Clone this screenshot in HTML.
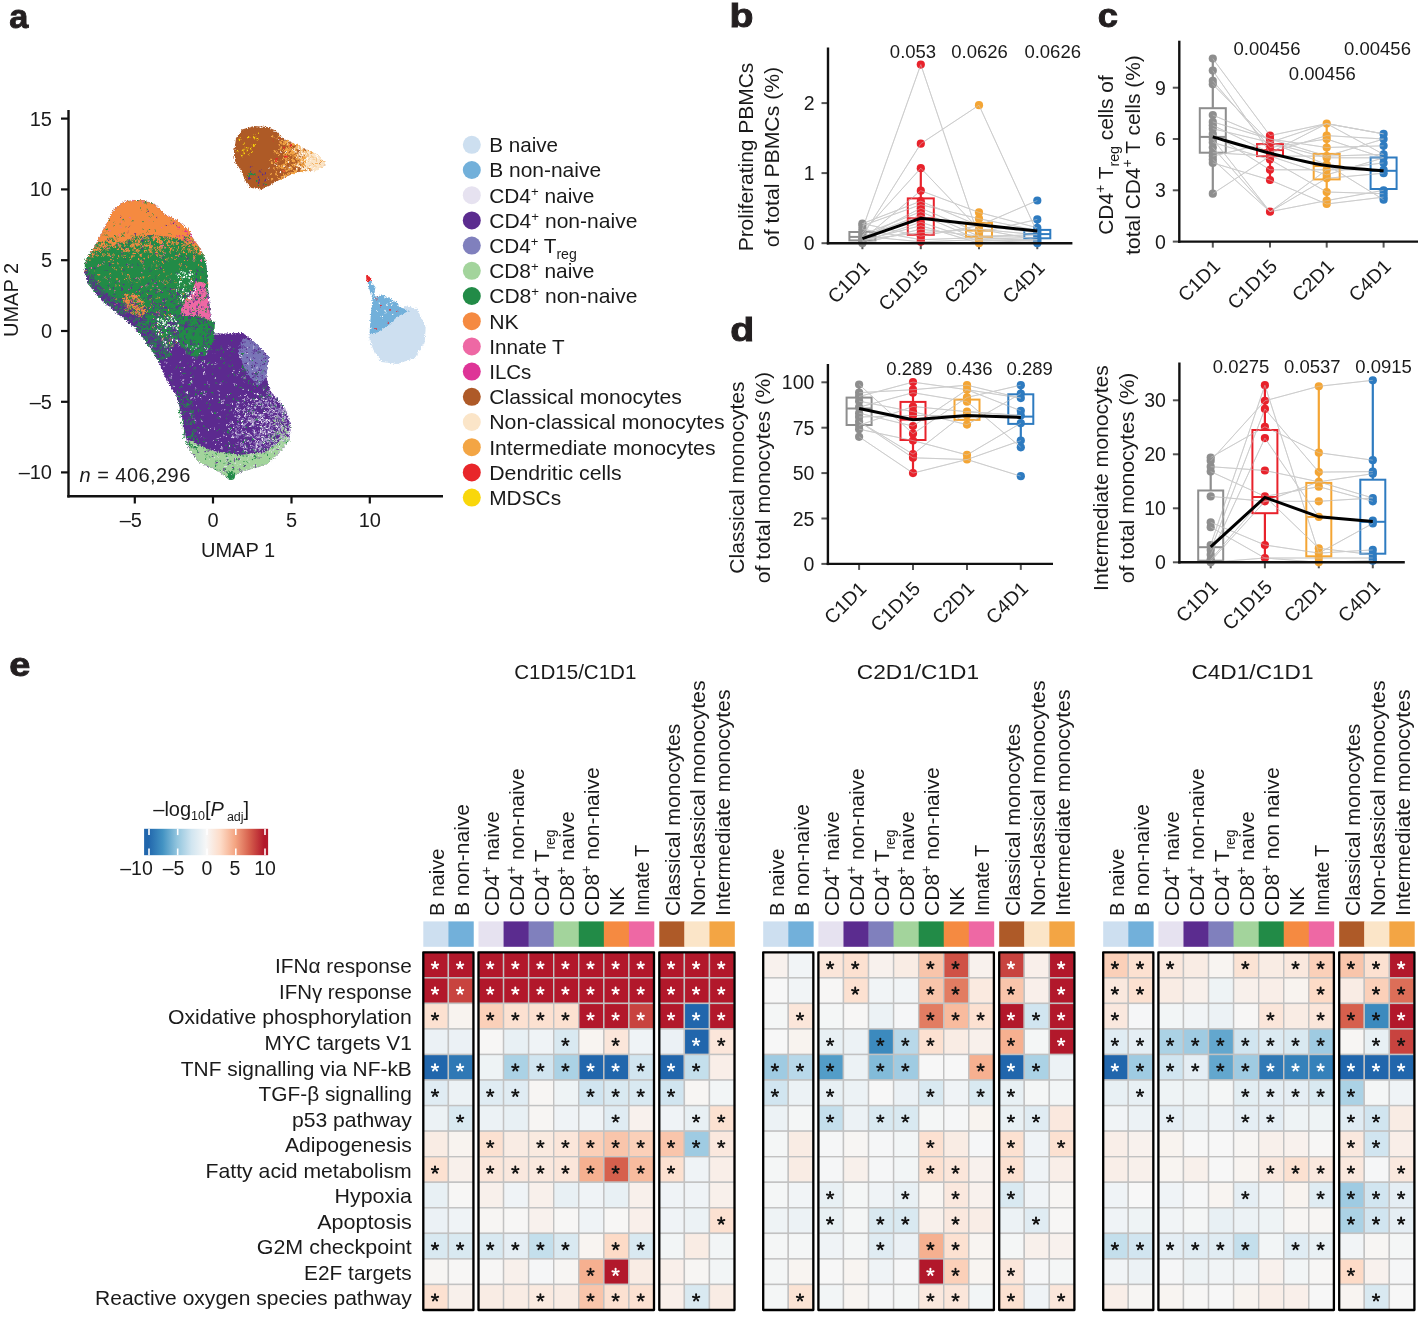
<!DOCTYPE html>
<html><head><meta charset="utf-8"><style>
html,body{margin:0;padding:0;background:#fff;}
svg{display:block;font-family:"Liberation Sans", sans-serif;will-change:transform;}
</style></head><body>
<svg width="1418" height="1321" viewBox="0 0 1418 1321">
<rect width="1418" height="1321" fill="#fff"/>
<text transform="translate(9.2,28) scale(1.04,1)" font-size="33" font-weight="bold" fill="#231f20" stroke="#231f20" stroke-width="0.9">a</text>
<text transform="translate(729.4,27.4) scale(1.19,1)" font-size="33" font-weight="bold" fill="#231f20" stroke="#231f20" stroke-width="0.9">b</text>
<text transform="translate(1097.7,27.2) scale(1.1,1)" font-size="33" font-weight="bold" fill="#231f20" stroke="#231f20" stroke-width="0.9">c</text>
<text transform="translate(730.2,341) scale(1.19,1)" font-size="33" font-weight="bold" fill="#231f20" stroke="#231f20" stroke-width="0.9">d</text>
<text transform="translate(9.2,675.5) scale(1.15,1)" font-size="33" font-weight="bold" fill="#231f20" stroke="#231f20" stroke-width="0.9">e</text>
<line x1="68.5" y1="110" x2="68.5" y2="497.5" stroke="#111" stroke-width="2.4"/>
<line x1="67.3" y1="496.3" x2="443" y2="496.3" stroke="#111" stroke-width="2.4"/>
<line x1="61" y1="118.6" x2="68.5" y2="118.6" stroke="#111" stroke-width="2.2"/>
<text x="52.0" y="125.6" font-size="20" text-anchor="end" fill="#1a1a1a">15</text>
<line x1="61" y1="189.4" x2="68.5" y2="189.4" stroke="#111" stroke-width="2.2"/>
<text x="52.0" y="196.4" font-size="20" text-anchor="end" fill="#1a1a1a">10</text>
<line x1="61" y1="260.2" x2="68.5" y2="260.2" stroke="#111" stroke-width="2.2"/>
<text x="52.0" y="267.2" font-size="20" text-anchor="end" fill="#1a1a1a">5</text>
<line x1="61" y1="331.0" x2="68.5" y2="331.0" stroke="#111" stroke-width="2.2"/>
<text x="52.0" y="338.0" font-size="20" text-anchor="end" fill="#1a1a1a">0</text>
<line x1="61" y1="401.8" x2="68.5" y2="401.8" stroke="#111" stroke-width="2.2"/>
<text x="52.0" y="408.8" font-size="20" text-anchor="end" fill="#1a1a1a">–5</text>
<line x1="61" y1="472.4" x2="68.5" y2="472.4" stroke="#111" stroke-width="2.2"/>
<text x="52.0" y="479.4" font-size="20" text-anchor="end" fill="#1a1a1a">–10</text>
<line x1="134.8" y1="496.3" x2="134.8" y2="503.5" stroke="#111" stroke-width="2.2"/>
<text x="130.8" y="527.4" font-size="20" text-anchor="middle" fill="#1a1a1a">–5</text>
<line x1="213.0" y1="496.3" x2="213.0" y2="503.5" stroke="#111" stroke-width="2.2"/>
<text x="213.0" y="527.4" font-size="20" text-anchor="middle" fill="#1a1a1a">0</text>
<line x1="291.5" y1="496.3" x2="291.5" y2="503.5" stroke="#111" stroke-width="2.2"/>
<text x="291.5" y="527.4" font-size="20" text-anchor="middle" fill="#1a1a1a">5</text>
<line x1="369.8" y1="496.3" x2="369.8" y2="503.5" stroke="#111" stroke-width="2.2"/>
<text x="369.8" y="527.4" font-size="20" text-anchor="middle" fill="#1a1a1a">10</text>
<text x="238.0" y="557.4" font-size="20" text-anchor="middle" fill="#1a1a1a">UMAP 1</text>
<text transform="translate(17.6,300) rotate(-90)" font-size="20" text-anchor="middle" fill="#1a1a1a">UMAP 2</text>
<text x="79.6" y="482.3" font-size="20" fill="#1a1a1a" letter-spacing="0.45"><tspan font-style="italic">n</tspan> = 406,296</text>
<filter id="rough" x="-10%" y="-10%" width="120%" height="120%" filterUnits="objectBoundingBox"><feTurbulence type="fractalNoise" baseFrequency="0.7" numOctaves="2" seed="4" result="n"/><feDisplacementMap in="SourceGraphic" in2="n" scale="4" xChannelSelector="R" yChannelSelector="G"/></filter>
<g filter="url(#rough)">
<path d="M123.6 202.1 L133.3 200.3 L144.2 200.3 L155.1 204.5 L164.8 214.2 L176.9 220.3 L189.0 230.0 L191.4 236.0 L199.9 248.1 L206.0 261.5 L207.2 274.8 L208.4 293.0 L210.8 317.2 L213.2 333.6 L225.4 333.6 L243.1 332.9 L254.0 341.8 L269.0 356.8 L266.3 377.2 L270.3 390.9 L285.3 408.6 L290.8 423.6 L289.4 439.9 L279.9 452.2 L266.3 464.4 L239.0 472.6 L229.5 479.4 L218.6 471.2 L198.1 461.7 L188.6 448.1 L184.5 431.7 L181.8 415.4 L176.3 394.9 L166.8 381.3 L158.6 360.9 L146.4 341.8 L134.5 326.9 L116.3 312.3 L98.2 296.6 L87.3 282.0 L84.8 270.0 L87.3 257.8 L95.7 244.5 L104.2 228.8 L112.7 210.6Z" fill="#5b2c8f"/>
<path d="M84.8 262.0 L88.0 259.0 L100.0 251.0 L113.0 246.0 L130.0 239.0 L151.0 235.0 L170.0 237.0 L182.0 240.0 L195.0 252.0 L206.0 261.5 L207.2 274.8 L208.4 293.0 L200.0 300.0 L185.0 305.0 L178.0 320.0 L180.0 340.0 L170.0 350.0 L150.0 330.0 L120.0 310.0 L98.2 296.6 L87.3 282.0 L84.8 270.0Z" fill="#228b47"/>
<path d="M84.8 262.0 L87.3 257.8 L95.7 244.5 L104.2 228.8 L112.7 210.6 L123.6 202.1 L133.3 200.3 L144.2 200.3 L155.1 204.5 L164.8 214.2 L176.9 220.3 L189.0 230.0 L191.4 236.0 L199.9 248.1 L206.0 261.5 L195.0 252.0 L182.0 240.0 L170.0 237.0 L151.0 235.0 L130.0 239.0 L113.0 246.0 L100.0 251.0 L88.0 259.0Z" fill="#f58a41"/>
<path d="M84.8 270.0 L87.3 282.0 L98.2 296.6 L116.3 312.3 L134.5 326.9 L146.4 341.8 L158.6 360.9 L172.0 356.0 L160.0 336.0 L140.0 318.0 L118.0 302.0 L100.0 286.0 L90.0 272.0Z" fill="#3f5a6a"/>
<path d="M195.0 281.0 L205.0 283.0 L208.0 300.0 L211.0 322.0 L212.5 335.0 L198.0 337.0 L184.0 330.0 L181.0 310.0 L185.0 300.0 L193.0 292.0Z" fill="#ee68a4"/>
<path d="M172.0 316.0 L198.0 316.0 L215.0 322.0 L214.0 340.0 L205.0 356.0 L190.0 356.0 L180.0 344.0 L170.0 330.0Z" fill="#228b47"/>
<path d="M243.0 338.0 L254.0 341.8 L269.0 356.8 L266.3 377.2 L258.0 386.0 L246.0 372.0 L238.0 352.0Z" fill="#7a76b8"/>
<path d="M188.6 439.9 L211.8 450.8 L239.0 454.9 L266.3 452.2 L286.7 435.8 L289.4 439.9 L279.9 452.2 L266.3 464.4 L239.0 472.6 L229.5 479.4 L218.6 471.2 L198.1 461.7 L188.6 448.1Z" fill="#a3d49c"/>
<circle cx="231" cy="476" r="4" fill="#228b47"/>
<path d="M90.4 253.3h0M204.6 259.2h0M194.5 250.1h0M195.3 250.8h0M121.7 235.3h0M203.3 258.1h0M142.2 236.5h0M187.5 241.3h0M108.7 245.2h0M104.2 248.8h0M200.7 256.8h0M105.3 248.7h0M112.3 240.6h0M96.7 247.0h0M95.8 250.9h0M185.6 239.4h0M188.5 245.3h0M102.4 249.5h0M102.1 242.1h0M89.2 257.5h0M91.7 255.5h0M131.2 236.4h0M91.4 255.2h0M197.6 253.0h0M193.7 250.6h0M188.3 237.8h0M195.6 246.5h0M100.3 247.3h0M107.9 244.9h0M97.2 251.5h0M101.4 248.2h0M98.2 249.7h0M102.1 247.6h0M97.9 245.5h0M103.1 245.7h0M105.3 242.4h0M106.5 242.6h0M194.0 247.0h0M90.7 253.5h0M98.7 251.4h0M198.9 251.2h0M99.4 242.4h0M104.5 232.8h0M193.1 241.4h0M93.5 252.0h0M108.8 243.7h0M201.5 253.2h0M91.1 256.7h0M108.6 247.6h0M105.8 243.2h0M189.4 235.8h0M192.3 246.9h0M189.6 235.6h0M197.5 247.0h0M95.4 248.2h0M102.4 242.2h0M201.4 257.3h0M122.7 235.4h0M98.2 246.3h0M190.5 244.5h0M184.4 240.6h0M98.8 245.4h0M116.5 238.6h0M90.3 254.5h0M198.7 250.3h0M99.0 246.7h0M173.0 237.7h0M188.0 242.8h0M202.3 257.5h0M96.0 244.3h0M111.7 240.9h0M94.5 248.0h0M90.9 254.1h0M202.2 253.6h0M86.0 260.3h0M186.1 237.4h0M108.4 239.5h0M112.9 239.4h0M90.1 254.8h0M198.0 252.2h0M104.5 235.2h0M111.3 243.6h0M95.4 252.6h0M191.5 245.7h0M93.3 251.9h0M102.3 250.1h0M116.8 243.3h0M109.0 238.4h0M201.4 254.9h0M98.9 251.0h0M191.1 244.8h0M96.8 245.1h0M97.7 252.3h0M192.0 248.5h0M87.1 258.4h0M136.7 237.3h0M191.6 246.6h0M92.7 250.2h0M200.6 256.2h0M185.9 240.6h0M193.4 240.1h0M100.0 244.5h0M202.0 253.3h0M113.5 241.4h0M88.6 257.4h0M200.6 256.1h0M111.1 238.3h0M192.7 243.8h0M87.9 257.2h0M190.7 241.3h0M95.4 253.8h0M185.4 239.9h0M89.2 257.7h0M195.6 250.8h0M193.7 242.8h0M118.1 238.5h0M105.6 240.9h0M110.0 246.3h0M106.9 247.5h0M88.3 258.3h0M195.6 246.2h0M95.6 252.1h0M102.6 249.0h0M90.7 256.3h0M202.6 256.7h0M204.4 258.4h0M119.0 242.4h0M198.4 249.0h0M203.0 255.2h0M109.9 246.2h0M99.7 243.5h0M198.6 254.3h0M108.8 247.0h0M143.5 234.2h0M92.8 253.0h0M135.7 236.7h0M199.4 255.8h0M192.7 249.4h0M98.7 242.9h0M115.4 236.4h0" stroke="#228b47" stroke-width="1.6" stroke-linecap="round" fill="none"/>
<path d="M173.5 223.5h0M105.0 246.6h0M135.5 234.1h0M184.5 237.9h0M120.9 217.2h0M157.0 217.5h0M173.9 221.6h0M166.4 225.2h0M148.2 211.2h0M129.4 225.8h0M108.8 240.0h0M127.6 232.1h0" stroke="#5b2c8f" stroke-width="1.6" stroke-linecap="round" fill="none"/>
<path d="M132.9 200.6h0M119.4 234.7h0M122.3 221.4h0M130.5 218.3h0M109.9 230.7h0M148.7 220.5h0M120.7 227.5h0M168.3 216.3h0M161.7 227.8h0M142.8 201.9h0" stroke="#ee68a4" stroke-width="1.6" stroke-linecap="round" fill="none"/>
<path d="M121.8 252.5h0M173.2 250.0h0M158.9 249.9h0M158.3 236.5h0M151.7 252.3h0M160.3 255.0h0M136.1 240.0h0M148.2 237.6h0M125.3 249.5h0M147.2 245.6h0M161.6 246.5h0M159.8 237.6h0M122.3 255.8h0M155.5 252.9h0M92.4 256.6h0M144.8 245.0h0M176.7 241.4h0M170.1 250.5h0M146.6 246.0h0M119.7 244.6h0M130.8 244.5h0M150.8 251.0h0M181.3 240.0h0M151.5 245.6h0M158.1 252.8h0M141.1 247.0h0M155.7 237.4h0M159.1 248.2h0M139.2 242.5h0M134.5 248.5h0M138.4 251.8h0M133.1 241.5h0M100.8 251.2h0M137.7 250.5h0M178.7 254.7h0M145.1 236.8h0M125.7 242.6h0M150.5 247.2h0M153.6 240.3h0M157.4 240.4h0M157.5 237.5h0M140.1 244.5h0M150.9 247.4h0M149.8 245.6h0M127.9 241.3h0M135.5 241.4h0M133.0 255.8h0M142.7 237.1h0M163.6 252.4h0M127.2 241.6h0M160.7 250.3h0M152.9 238.0h0M151.7 249.4h0M172.7 242.2h0M130.5 246.1h0M136.3 251.0h0M146.8 245.8h0M182.8 247.2h0M172.1 238.6h0M182.6 249.0h0M170.7 248.8h0M109.1 254.0h0M145.7 239.4h0M155.9 237.1h0M137.0 245.6h0M155.6 236.0h0M174.3 243.0h0M146.9 250.6h0M190.3 251.0h0M164.7 247.4h0M149.9 246.6h0M161.5 241.8h0M158.6 239.0h0M148.3 246.0h0M159.8 241.3h0M189.5 249.6h0M107.3 249.7h0M141.2 256.0h0M118.4 245.4h0M195.3 256.0h0M122.2 248.9h0M186.1 245.1h0M123.6 250.8h0M110.9 259.5h0M178.2 247.8h0M136.7 250.2h0M140.0 240.3h0M170.0 253.1h0M129.4 250.8h0M103.0 256.1h0M177.2 241.7h0M177.1 242.3h0M141.1 238.8h0M121.7 249.6h0M184.7 260.2h0M162.3 247.6h0M131.1 257.6h0M138.6 259.4h0M140.4 255.4h0M134.3 253.2h0M133.0 239.5h0M170.5 237.6h0M162.1 245.6h0M124.3 243.2h0M138.5 240.3h0M150.2 251.9h0M154.4 248.0h0M160.3 246.8h0M136.6 244.6h0M183.0 244.7h0M171.7 248.3h0M128.3 251.5h0M128.0 248.7h0M126.2 250.7h0M140.2 247.8h0M150.2 243.1h0M162.1 247.0h0M172.6 243.4h0M131.8 245.2h0M124.5 256.3h0M117.6 249.8h0M113.9 246.0h0M118.5 256.9h0M145.6 237.0h0M153.7 238.3h0M133.2 253.5h0M171.9 238.5h0M175.7 243.3h0M165.3 237.6h0M157.5 247.2h0M121.2 246.4h0M120.8 248.2h0M132.4 241.3h0M160.1 243.4h0M189.0 249.1h0M191.7 250.8h0M141.7 254.1h0M162.0 242.6h0M167.5 245.1h0M153.8 239.3h0M177.4 243.9h0M152.5 237.2h0M138.0 249.0h0M158.2 239.5h0M132.6 246.4h0M138.8 244.8h0M144.2 258.6h0M144.8 243.6h0M180.6 251.9h0M109.9 247.6h0M115.4 246.6h0M132.9 250.0h0M160.8 240.5h0M156.6 252.6h0M156.8 255.2h0M154.2 236.7h0M167.7 238.1h0M149.9 249.1h0M159.7 241.5h0M124.5 246.0h0M183.9 245.0h0M130.9 239.8h0M164.5 239.9h0M148.3 241.1h0M161.6 241.7h0M160.2 237.7h0M154.2 237.2h0M159.5 243.7h0M186.0 257.1h0M123.1 242.5h0M102.9 254.2h0M140.5 239.6h0M142.9 246.2h0M145.2 248.2h0M127.8 250.2h0M119.5 246.0h0M154.2 237.0h0M97.6 255.7h0M193.6 252.3h0M174.2 247.0h0M168.6 241.7h0M156.8 241.2h0M144.3 251.6h0M168.3 239.6h0M147.8 256.5h0M118.1 248.1h0M193.8 256.8h0M159.8 239.4h0M126.7 243.6h0M168.6 247.3h0M167.4 242.7h0M137.3 245.5h0M160.9 243.0h0M141.3 244.2h0M166.6 244.2h0M173.7 238.1h0M159.4 246.9h0M166.5 260.3h0M132.7 244.0h0M152.2 246.1h0M139.5 244.1h0M137.1 243.3h0M107.6 255.1h0M154.1 237.3h0M171.2 245.0h0M171.7 258.3h0M156.3 236.3h0M133.6 245.7h0M140.2 238.5h0M145.9 244.4h0M126.6 248.6h0M159.9 250.7h0M157.7 241.1h0M158.8 242.8h0M126.7 247.9h0M184.3 245.2h0M135.4 243.7h0M134.3 247.9h0M168.1 259.2h0M155.7 249.9h0" stroke="#f58a41" stroke-width="1.7" stroke-linecap="round" fill="none"/>
<path d="M123.6 307.6h0M138.1 309.4h0M136.4 296.8h0M123.5 301.3h0M133.8 313.4h0M137.8 312.8h0M131.8 313.4h0M128.7 300.9h0M139.8 309.4h0M131.4 304.8h0M141.9 309.0h0M123.4 300.9h0M144.5 310.5h0M124.8 305.9h0M133.3 305.9h0M130.9 308.5h0M139.6 301.0h0M135.6 312.5h0M126.3 301.4h0M131.5 309.1h0M137.3 301.5h0M125.6 294.4h0M134.4 307.7h0M127.1 303.1h0M124.7 298.5h0M133.0 314.0h0M128.2 309.2h0M132.9 308.8h0M134.4 298.4h0M132.7 300.0h0M133.5 295.3h0M137.3 309.5h0M135.2 307.4h0M136.6 306.1h0M127.4 302.1h0M144.1 312.1h0M138.6 313.6h0M131.7 312.5h0M147.0 311.0h0M132.7 299.0h0M132.3 294.8h0M140.2 310.2h0M143.9 313.8h0M139.8 298.9h0M130.0 301.6h0M136.6 312.4h0M126.1 310.3h0M126.8 308.8h0M126.3 297.1h0M143.3 306.2h0M130.0 296.8h0M125.5 308.5h0M128.8 297.7h0M141.5 301.9h0M127.4 294.9h0M129.6 305.3h0M131.0 312.1h0M143.0 313.1h0M135.8 309.0h0M140.3 314.7h0M126.1 301.8h0M132.9 299.2h0M127.5 299.0h0M132.0 311.7h0M124.9 302.6h0M142.5 301.1h0M130.1 294.6h0M133.1 314.5h0M123.9 309.5h0M136.5 298.4h0M142.8 307.6h0M131.7 303.4h0M129.1 305.1h0M144.5 309.3h0M136.0 295.8h0M123.4 298.3h0M136.6 302.8h0M139.4 304.9h0M142.5 311.5h0M136.0 311.9h0M139.3 307.4h0M130.4 314.1h0M128.5 306.7h0M127.0 307.3h0M137.4 311.7h0M130.2 307.8h0M143.6 310.3h0M142.8 302.1h0M136.8 315.5h0M141.4 316.2h0M142.7 311.2h0M132.7 295.1h0M133.9 301.6h0M127.3 310.5h0M137.9 308.2h0M145.1 309.2h0M138.2 313.5h0M132.8 298.8h0M139.0 313.6h0M142.8 306.8h0M129.5 305.9h0M145.3 309.1h0M141.1 310.0h0M130.9 312.7h0M137.4 296.5h0M126.4 295.7h0M133.3 296.9h0M136.8 295.8h0M141.9 314.6h0M140.0 301.9h0M132.0 296.6h0M142.6 303.9h0M127.2 300.0h0M127.5 305.7h0M135.4 296.8h0M143.0 313.2h0M124.6 310.1h0M137.7 307.1h0M135.6 305.8h0M127.7 299.9h0M137.4 299.2h0M139.3 311.9h0M134.8 311.8h0M131.9 299.9h0M145.7 309.4h0M126.0 300.9h0M137.6 296.4h0M134.6 314.0h0M126.4 299.7h0M134.9 303.4h0M137.8 295.7h0M130.3 300.3h0M135.0 305.6h0M131.9 309.9h0M132.6 305.6h0M124.4 302.5h0M123.7 301.3h0M132.4 309.4h0M145.4 307.0h0M142.7 303.9h0M133.6 295.2h0M123.8 308.2h0M127.7 304.3h0M133.9 295.9h0M133.4 307.1h0M142.1 307.7h0M129.3 302.8h0M127.5 313.1h0M139.0 315.5h0M134.3 296.4h0M131.7 301.8h0M139.1 295.9h0M131.8 314.3h0M124.0 294.8h0M131.1 300.3h0M142.1 310.4h0M134.5 304.8h0M135.7 314.1h0M142.7 301.4h0M124.2 301.5h0" stroke="#f58a41" stroke-width="1.8" stroke-linecap="round" fill="none"/>
<path d="M154.1 244.5h0M157.1 266.4h0M174.6 282.2h0M125.3 278.5h0M183.4 247.7h0M185.1 286.2h0M194.7 259.8h0M109.7 255.7h0M112.7 256.2h0M152.6 327.5h0M102.8 289.7h0M198.3 297.4h0M85.5 270.7h0M191.4 279.0h0M188.6 299.4h0M89.9 260.3h0M100.5 287.0h0M185.3 293.3h0M165.1 281.0h0M128.2 267.0h0M133.2 294.0h0M163.3 338.1h0M162.1 335.2h0M99.1 282.3h0M176.2 341.4h0M144.0 265.7h0M146.7 294.3h0M156.2 311.7h0M157.0 261.4h0M167.2 238.8h0M157.1 312.8h0M134.0 244.2h0M163.9 271.8h0M130.5 259.7h0M152.4 281.8h0M186.6 300.6h0M198.8 265.2h0M108.0 255.6h0M116.2 269.7h0M163.3 236.8h0M186.4 253.8h0M181.7 263.7h0M161.0 266.9h0M187.0 299.4h0M135.3 281.4h0M143.6 277.7h0M109.6 302.0h0M140.7 259.8h0M113.1 254.9h0M131.3 246.9h0M124.9 299.6h0M161.5 241.2h0M122.0 273.2h0M100.6 265.1h0M106.4 254.9h0M121.8 268.6h0M98.6 284.3h0M139.1 250.4h0M139.0 316.2h0M117.0 279.5h0M207.8 283.9h0M159.2 332.5h0M87.7 276.8h0M200.7 277.1h0M113.1 263.4h0M189.0 300.0h0M132.2 256.8h0M118.0 263.7h0M145.6 241.4h0M151.1 303.7h0M177.4 297.8h0M178.9 254.5h0M187.6 259.5h0M127.5 304.4h0M125.6 256.1h0M108.5 261.0h0M162.7 262.2h0M154.6 323.4h0M143.3 236.7h0M190.3 289.4h0M151.0 256.0h0M165.5 251.8h0M151.1 290.1h0M170.9 316.4h0M188.7 251.9h0M139.7 315.9h0M157.6 247.5h0M113.1 260.5h0M159.6 281.0h0M131.5 287.8h0M153.3 285.5h0M157.8 324.8h0M143.4 311.2h0M113.2 267.7h0M163.9 269.5h0M155.7 269.2h0M166.7 276.0h0M126.9 307.6h0M97.9 275.6h0M95.0 269.7h0M141.8 286.4h0M160.7 305.6h0M116.1 299.2h0M170.5 249.3h0M157.6 304.3h0M155.3 315.3h0M173.5 295.6h0M140.5 278.6h0M131.4 281.5h0M150.3 307.3h0M197.7 283.2h0M179.0 264.0h0M128.8 281.5h0M158.6 265.4h0M190.2 270.4h0M140.8 281.4h0M154.3 262.5h0M160.8 248.7h0M136.4 291.8h0M173.0 289.3h0M176.8 255.5h0M168.0 282.0h0M114.8 305.7h0M186.7 267.0h0M170.8 339.5h0M183.1 293.8h0M141.5 262.1h0M126.9 277.4h0M161.8 255.7h0M106.1 278.0h0M90.9 275.0h0M124.1 251.5h0M149.8 275.1h0M120.3 266.9h0M180.7 278.6h0M169.2 315.5h0M169.3 293.9h0M97.5 280.8h0M169.3 342.4h0M113.9 298.4h0M126.5 298.4h0M194.1 253.5h0M148.3 244.0h0M99.6 274.8h0M147.0 238.4h0M180.1 268.9h0M175.4 259.0h0M183.4 252.5h0M103.7 254.4h0M119.4 285.5h0M110.2 273.5h0M176.9 292.7h0M128.8 302.5h0M129.3 276.1h0M169.8 242.5h0M97.3 255.5h0M137.2 282.4h0M143.0 314.1h0M175.0 332.0h0M164.7 315.4h0M125.6 299.9h0M131.5 310.3h0M153.9 302.1h0M162.2 339.8h0M171.4 241.7h0M159.0 275.4h0M175.9 282.6h0M191.8 296.2h0M169.4 240.8h0M201.2 266.5h0M130.2 279.1h0M142.4 311.4h0M117.9 302.4h0M143.1 261.4h0M185.3 249.6h0M156.5 265.2h0M180.2 265.1h0M165.5 283.8h0M159.3 297.7h0M140.0 319.3h0M172.1 274.1h0M149.9 299.8h0M139.7 290.9h0M158.9 289.9h0M168.6 309.7h0M116.3 285.4h0M139.0 300.4h0M194.0 284.5h0M135.8 241.0h0M143.1 277.0h0M153.2 314.5h0M151.5 265.6h0M137.1 245.5h0M156.2 298.0h0M159.1 313.1h0M177.6 250.0h0M157.0 255.1h0M127.6 274.7h0M149.2 250.5h0M163.6 306.6h0" stroke="#f58a41" stroke-width="1.5" stroke-linecap="round" fill="none"/>
<path d="M142.2 238.8h0M203.3 283.0h0M155.3 323.5h0M124.6 274.3h0M165.0 317.8h0M162.9 243.0h0M119.2 281.7h0M177.9 303.3h0M173.0 344.0h0M168.3 322.1h0M132.5 302.0h0M130.3 288.6h0M188.6 303.6h0M201.4 260.5h0M164.1 254.8h0M194.3 277.4h0M142.9 238.4h0M139.5 311.9h0M144.2 268.7h0M164.5 252.8h0M118.8 244.1h0M165.0 248.0h0M178.3 326.6h0M160.9 256.9h0M127.6 278.6h0M145.9 285.7h0M139.0 279.4h0M128.9 289.6h0M98.4 266.0h0M152.7 286.9h0M141.7 272.7h0M91.8 287.0h0M193.9 259.7h0M138.8 301.6h0M166.9 336.4h0M111.7 256.5h0M174.2 343.4h0M114.9 290.8h0M158.0 312.8h0M159.0 312.1h0M109.9 289.3h0M142.7 246.4h0M141.3 287.0h0M153.5 305.7h0M160.2 289.5h0M90.5 268.6h0M162.6 301.2h0M86.2 262.4h0M132.0 267.2h0M177.8 288.6h0M140.7 309.5h0M191.8 282.2h0M161.3 328.4h0M155.5 283.3h0M162.2 245.4h0M148.0 284.8h0M162.9 282.9h0M133.7 295.7h0M178.8 256.2h0M166.2 301.3h0M157.2 292.0h0M110.0 282.5h0M109.0 248.6h0M115.8 303.5h0M128.1 265.3h0M157.3 286.6h0M109.1 277.4h0M153.5 326.5h0M153.3 318.4h0M187.2 302.9h0M102.8 263.8h0M133.9 302.3h0M162.9 292.0h0M129.0 304.7h0M159.3 314.9h0M170.7 346.1h0M103.9 277.5h0M149.0 240.2h0M169.5 339.8h0M104.0 260.9h0M111.7 263.4h0M153.9 238.1h0M161.6 326.0h0M120.6 310.2h0M127.5 248.2h0M98.2 265.6h0M172.6 346.0h0M143.1 264.2h0M136.8 278.0h0M171.2 279.3h0" stroke="#ee68a4" stroke-width="1.5" stroke-linecap="round" fill="none"/>
<path d="M158.5 330.4h0M116.1 298.2h0M153.3 319.7h0M170.4 293.1h0M142.6 291.0h0M156.6 333.3h0M160.4 314.7h0M156.6 317.6h0M98.7 294.3h0M161.6 309.9h0M163.6 299.9h0M115.9 282.4h0M171.0 320.5h0M157.8 313.1h0M132.7 316.8h0M153.8 290.7h0M195.3 297.2h0M169.7 335.5h0M161.5 247.8h0M122.7 300.4h0M128.6 245.2h0M191.3 295.3h0M103.9 297.3h0M193.9 301.8h0M160.6 324.0h0M183.7 296.3h0M195.3 282.0h0M176.4 324.5h0M123.6 306.9h0M144.8 315.2h0M120.7 299.4h0M150.1 313.6h0M129.2 289.0h0M158.6 330.1h0M175.8 288.9h0M150.7 297.8h0M85.1 269.7h0M156.7 307.8h0M138.1 320.8h0M170.8 289.4h0M171.8 289.3h0M172.0 295.4h0M144.4 299.2h0M141.4 318.8h0M174.6 333.7h0M107.2 286.6h0M139.1 290.0h0M176.1 253.6h0M128.6 307.0h0M93.9 275.6h0M172.1 323.5h0M154.3 299.0h0M146.1 320.6h0M129.3 313.9h0M147.1 327.8h0M168.7 340.2h0M174.8 344.0h0M166.7 344.6h0M166.8 339.8h0M190.2 272.5h0M175.6 340.5h0M96.6 294.4h0M145.0 292.2h0M131.2 313.6h0M110.7 298.6h0M123.6 296.0h0M125.3 258.8h0M135.3 310.4h0M179.0 305.8h0M147.9 296.4h0M191.9 292.3h0M158.5 330.6h0M151.1 295.7h0M177.0 317.3h0M121.5 290.3h0M144.4 308.6h0M177.7 293.6h0M148.4 291.3h0M170.2 348.0h0M125.1 303.0h0M135.7 303.8h0M145.7 313.1h0M148.8 268.7h0M187.9 258.7h0M162.8 341.7h0M150.2 325.0h0M180.2 256.6h0M200.4 295.1h0M155.9 304.0h0M157.9 331.1h0M148.4 313.3h0M149.9 320.7h0M139.4 289.5h0M176.6 331.6h0M178.1 336.1h0M186.4 293.9h0M162.0 328.3h0M149.8 270.8h0M145.5 313.0h0M165.9 342.6h0M160.3 268.6h0M162.5 307.4h0M169.9 347.5h0M196.6 279.6h0M176.7 307.6h0M120.4 298.6h0M173.3 315.5h0M132.1 299.9h0M157.2 311.2h0M113.1 299.2h0M178.6 338.9h0M168.9 345.3h0M176.2 308.5h0M177.9 340.8h0M171.1 282.0h0M171.9 332.5h0M158.2 316.6h0M179.1 294.5h0M195.0 299.6h0M155.5 325.6h0M164.6 307.1h0M159.3 336.2h0M166.6 319.4h0M170.9 324.6h0M157.0 323.1h0M164.5 311.6h0M199.4 297.1h0M143.4 317.6h0M155.3 315.6h0M168.1 330.4h0M180.4 298.7h0M171.6 318.4h0M176.4 331.2h0M169.7 344.5h0M140.1 293.9h0M174.7 330.5h0M158.1 303.8h0M130.9 285.1h0M132.8 309.5h0M171.3 338.1h0M134.6 304.4h0M152.2 323.5h0M142.1 324.5h0M131.7 310.6h0M171.5 315.1h0M151.4 312.5h0M167.1 318.7h0M165.2 309.1h0M140.4 287.4h0M174.7 328.6h0M172.6 340.2h0M150.3 320.0h0M121.1 302.9h0M123.3 308.4h0M144.0 322.9h0M145.8 314.3h0M146.2 320.4h0M144.7 318.5h0M148.6 297.3h0M179.2 300.2h0M174.4 299.7h0M168.6 341.8h0M172.4 301.2h0M177.1 294.9h0M174.1 334.7h0M165.4 287.5h0M157.8 320.3h0M165.7 307.6h0M115.2 306.0h0M164.8 302.7h0M179.9 304.8h0M124.0 311.7h0M132.0 264.8h0M167.6 330.6h0M170.5 326.5h0M132.0 301.6h0M161.2 292.4h0M159.1 313.3h0M201.7 272.2h0M161.2 323.3h0M152.0 312.0h0M143.0 261.1h0M196.3 300.1h0M123.7 270.0h0M132.1 303.4h0M177.5 320.9h0M159.0 325.5h0M128.0 315.3h0M131.4 287.5h0M189.2 293.8h0M130.6 302.8h0M125.6 291.9h0M173.9 288.5h0M165.7 307.4h0M175.5 315.1h0M143.0 319.4h0M176.7 322.8h0M100.5 293.9h0M172.7 323.1h0M126.0 305.9h0M171.0 331.5h0M169.2 337.6h0M166.7 325.2h0M123.5 247.2h0M180.7 303.3h0M179.6 241.0h0M176.1 329.8h0M197.1 296.7h0M165.4 342.5h0M135.0 278.7h0M169.8 309.3h0M124.1 303.8h0M177.0 331.1h0M158.6 321.6h0M155.4 303.5h0M172.0 328.6h0M162.6 332.6h0M174.2 340.9h0M167.0 298.4h0M155.3 315.1h0M144.6 316.3h0M163.1 340.1h0M114.8 294.1h0M144.7 318.1h0M167.8 345.3h0M124.7 296.3h0M173.4 333.3h0M196.6 270.2h0M175.0 339.3h0M164.9 327.7h0M113.1 288.6h0M170.4 322.5h0M138.0 306.7h0M125.9 308.9h0M143.7 316.0h0M155.7 277.2h0M169.1 335.2h0M98.6 293.5h0M138.6 317.4h0M188.1 289.6h0M135.0 305.3h0M181.4 289.5h0M169.6 326.6h0M144.7 313.4h0M156.4 328.0h0M171.2 331.8h0M96.2 292.8h0M108.4 301.1h0M117.7 308.6h0M168.7 323.6h0M164.9 262.0h0M176.3 273.2h0M129.3 304.6h0M144.1 309.3h0M94.2 268.1h0M142.1 248.8h0M170.8 341.4h0M151.3 296.6h0M151.1 244.7h0M184.6 291.0h0M195.7 294.2h0M167.6 347.6h0M131.9 284.0h0M164.6 326.4h0M99.0 285.1h0M120.7 308.5h0M159.9 331.2h0M97.1 282.2h0M166.7 307.4h0M141.4 317.2h0M119.0 300.3h0M180.0 294.9h0M172.0 330.2h0M142.7 293.0h0M154.2 323.8h0M196.5 273.6h0M175.0 322.4h0M174.8 304.1h0M141.6 312.9h0M158.2 303.9h0M140.7 308.9h0M165.4 312.7h0M157.6 330.7h0M169.9 323.6h0M133.2 315.4h0M171.2 327.4h0M129.3 291.0h0M159.5 305.6h0M171.9 336.7h0M193.5 290.1h0M163.2 301.0h0M156.4 293.3h0M183.3 306.9h0M133.4 317.8h0M174.6 344.3h0M148.8 326.7h0M119.2 304.8h0M117.9 302.8h0M89.1 267.9h0M122.0 253.0h0M176.8 294.6h0M125.1 299.0h0M155.8 253.5h0M161.5 301.8h0M186.7 257.0h0M154.6 287.2h0M174.2 329.3h0M162.3 316.4h0M162.7 342.1h0M156.1 327.8h0M150.8 304.1h0M177.0 321.4h0M160.5 329.9h0M171.4 297.2h0M130.2 295.0h0M184.0 265.3h0M140.3 315.4h0M176.8 306.6h0M136.3 292.2h0M177.7 307.8h0M121.6 287.8h0M155.0 332.1h0M176.0 297.5h0M167.1 334.0h0M195.1 280.4h0M177.1 292.4h0M143.1 240.4h0M171.0 308.3h0M168.8 347.2h0M164.1 303.6h0M149.8 308.9h0M141.1 302.7h0M128.7 241.7h0M146.6 318.6h0M157.6 322.8h0M106.1 270.7h0M205.7 277.3h0M173.6 342.5h0M179.0 339.6h0M156.2 322.0h0M123.7 284.6h0M168.3 336.8h0M158.7 332.7h0M174.0 311.4h0M144.5 307.4h0M149.5 295.9h0M146.6 309.8h0M182.4 305.6h0M175.1 342.3h0M204.4 287.9h0M154.4 306.0h0M149.5 327.4h0M149.0 308.8h0M152.8 301.5h0M177.0 335.2h0M170.0 339.9h0M106.4 299.0h0M109.7 298.4h0M164.1 298.9h0M152.7 303.2h0M138.3 305.4h0M152.1 294.7h0M173.0 295.8h0M160.0 325.6h0M168.2 291.2h0M176.3 330.7h0M156.1 283.1h0M172.6 323.0h0M107.9 301.4h0M187.5 296.5h0M171.3 301.9h0M190.3 291.8h0M131.4 287.6h0M176.9 334.0h0M176.9 308.9h0M129.0 314.5h0M149.6 313.9h0M135.5 312.4h0M141.1 317.5h0M162.1 305.3h0M138.5 307.2h0M160.8 308.7h0M175.6 325.7h0M179.0 315.9h0M154.4 314.0h0M164.0 338.4h0M153.3 312.4h0M150.5 323.4h0M169.1 280.4h0M161.4 322.6h0M170.0 313.9h0M156.1 326.3h0M193.8 255.1h0M165.8 338.3h0M173.7 292.8h0M156.4 283.6h0M198.2 292.0h0M176.7 324.8h0M190.6 293.7h0M127.8 307.8h0M173.9 339.9h0M161.9 312.9h0M185.3 295.8h0M136.2 307.6h0M168.1 322.9h0M148.7 299.4h0M109.7 264.5h0M188.8 295.7h0M121.3 283.6h0M163.7 325.2h0M159.4 304.0h0M126.6 264.6h0M166.0 327.9h0M165.1 340.1h0M191.5 283.4h0M152.2 280.0h0M153.8 307.9h0M200.4 295.9h0M150.5 330.3h0M145.3 307.5h0M164.2 288.2h0M148.0 284.1h0M156.4 335.8h0M170.2 314.4h0M122.6 305.3h0M124.3 306.1h0M149.1 235.7h0M138.3 264.9h0M152.7 328.3h0M92.0 288.0h0M166.8 316.0h0M86.6 269.4h0M174.5 314.6h0M193.5 300.4h0M149.7 322.9h0M108.7 280.0h0M169.9 314.5h0M144.1 324.7h0M162.9 257.8h0M156.8 291.3h0M140.7 315.4h0M136.0 298.7h0M173.3 334.5h0M173.2 344.2h0M122.4 289.6h0M197.6 270.8h0M156.0 313.6h0M166.5 321.1h0M155.7 289.5h0M157.3 314.9h0" stroke="#5b2c8f" stroke-width="1.6" stroke-linecap="round" fill="none"/>
<path d="M159.6 337.8h0M166.5 354.2h0M97.3 286.5h0M125.0 308.2h0M120.3 304.8h0M104.8 299.3h0M135.6 325.3h0M104.8 296.3h0M148.4 334.2h0M144.2 337.7h0M101.4 289.5h0M148.6 333.3h0M149.1 330.6h0M160.4 339.8h0M145.7 338.8h0M115.8 301.3h0M87.4 276.7h0M91.7 279.2h0M104.3 298.4h0M150.2 332.3h0M129.7 319.4h0M163.2 355.9h0M155.8 355.9h0M95.4 286.2h0M158.7 353.6h0M132.8 315.6h0M147.0 338.6h0M160.9 352.8h0M99.7 294.1h0M108.3 304.5h0M87.4 276.4h0M142.9 335.3h0M92.4 286.7h0M156.2 344.7h0M90.0 283.1h0M127.2 318.1h0M128.1 313.2h0M148.5 338.4h0M107.0 303.7h0M158.3 348.9h0M129.4 318.7h0M118.5 313.9h0M106.6 296.3h0M127.5 319.6h0M153.1 344.6h0M142.8 333.4h0M156.2 352.7h0M128.1 321.5h0M166.8 354.0h0M135.8 320.6h0M165.0 348.2h0M141.2 323.7h0M151.4 342.4h0M163.8 347.8h0M108.6 304.6h0M122.1 305.8h0M151.7 346.8h0M124.2 315.9h0M128.3 310.8h0M105.6 292.9h0M153.8 338.4h0M157.1 338.7h0M92.2 286.6h0M155.9 354.7h0M149.9 335.2h0M157.0 341.9h0M108.4 296.9h0M123.7 307.7h0M160.3 339.1h0M151.1 348.2h0M118.0 303.1h0M114.6 303.5h0M157.9 335.6h0M103.0 292.6h0M111.2 302.0h0M113.0 308.5h0M147.6 329.6h0M87.3 275.2h0M90.3 283.0h0M113.7 302.2h0M154.7 336.4h0M138.0 316.7h0M128.8 310.3h0M120.1 314.2h0M103.8 291.0h0M127.1 314.4h0M168.5 354.1h0M140.8 332.4h0M118.2 307.6h0M103.9 295.3h0M129.2 317.8h0M123.6 311.7h0M156.7 349.6h0M142.4 326.2h0M131.7 322.9h0M93.5 278.7h0M113.8 306.0h0M152.6 332.7h0M148.1 340.5h0M146.1 329.8h0M127.4 315.7h0M129.2 312.0h0M129.3 311.2h0M162.0 353.8h0M146.8 338.4h0M139.1 328.5h0M130.0 317.1h0M139.2 326.8h0M86.8 273.7h0M127.1 316.4h0M157.4 340.4h0M165.9 349.5h0M159.5 350.1h0M125.6 318.2h0M114.4 306.2h0M136.5 321.7h0M93.6 281.1h0M113.8 299.8h0M120.4 311.6h0M104.4 291.5h0M158.7 340.1h0M96.7 294.0h0M143.7 326.1h0M120.3 306.8h0M161.9 350.8h0M123.0 315.8h0M151.8 348.0h0M120.8 306.1h0M149.8 327.9h0M153.6 338.8h0M142.8 321.4h0M153.7 349.8h0M120.9 310.1h0M156.5 347.9h0M134.1 319.5h0M148.4 326.3h0M120.7 305.6h0M97.8 293.1h0M106.0 299.6h0M123.2 314.7h0M130.1 314.4h0M115.7 307.1h0M120.7 305.5h0M156.5 343.6h0M108.1 304.0h0M108.4 303.9h0M92.3 279.6h0M144.2 329.5h0M129.8 311.6h0M150.9 347.7h0M104.4 301.4h0M108.6 298.9h0M153.9 346.1h0M125.3 312.6h0M139.4 317.7h0M129.4 320.1h0M116.5 301.4h0M112.6 298.4h0M138.3 323.1h0M122.8 314.1h0M122.7 306.3h0M128.8 314.7h0M95.1 284.3h0M87.0 276.5h0M156.7 355.4h0M160.0 350.3h0M89.1 278.5h0M167.0 349.7h0M145.3 335.1h0M101.7 294.7h0M162.7 341.4h0M144.0 326.8h0M100.1 293.1h0M122.7 307.5h0M122.5 310.2h0M111.8 302.7h0M136.9 326.7h0M160.7 346.8h0M150.9 335.4h0M152.2 339.3h0M117.3 301.9h0M132.8 321.5h0M108.1 294.7h0M137.2 316.3h0M137.9 325.4h0M121.9 314.3h0M130.1 319.4h0M98.9 286.7h0M117.3 302.4h0M152.8 347.0h0M161.8 348.8h0M147.1 335.9h0M148.3 332.9h0M169.1 351.6h0M137.1 326.9h0M121.4 311.7h0M128.6 316.0h0M155.6 354.8h0M115.9 300.4h0M130.6 321.5h0M123.3 314.2h0M125.3 307.6h0M88.8 280.4h0M161.2 354.7h0M167.9 350.8h0M149.3 328.0h0M108.0 299.7h0M164.5 353.9h0M140.6 322.2h0M138.2 331.1h0M149.1 340.4h0M122.4 307.4h0M141.1 322.9h0M95.3 291.3h0M131.2 315.3h0M143.3 329.8h0M108.1 303.5h0M121.0 315.4h0M141.8 330.0h0M164.2 349.4h0M98.1 291.0h0M140.9 323.4h0M153.1 332.5h0M161.4 358.6h0M118.2 309.3h0M160.0 353.2h0M151.7 344.4h0M97.4 293.5h0M96.6 293.1h0M120.7 304.2h0M131.8 324.7h0M156.8 355.1h0M163.5 344.5h0M148.1 342.0h0M170.9 356.0h0M95.7 281.0h0M130.7 322.9h0M152.3 337.2h0M142.3 332.5h0M89.6 276.6h0M151.6 335.3h0M89.9 280.2h0M119.6 306.1h0M137.3 326.0h0M97.4 290.6h0M93.9 284.2h0M154.3 351.4h0M158.8 355.2h0M148.5 331.8h0M105.8 297.4h0M140.8 331.0h0M118.3 303.0h0M160.2 359.1h0M88.2 282.9h0M148.5 334.9h0M139.7 320.3h0M147.3 328.2h0M132.7 323.1h0M97.3 289.4h0M94.2 289.3h0M151.5 347.7h0M147.9 332.3h0M105.3 301.7h0M117.4 305.0h0M145.1 334.3h0M117.5 304.8h0M113.6 307.9h0M88.4 274.7h0M163.1 347.0h0M156.3 333.9h0M108.3 299.0h0M140.3 327.6h0M143.0 331.6h0M133.6 316.8h0M112.4 299.3h0M153.8 336.0h0M158.4 345.1h0M144.0 326.8h0M149.5 333.9h0M88.5 274.0h0M120.2 307.6h0M149.1 329.8h0M168.1 352.9h0M157.2 355.6h0M157.9 353.5h0M131.5 321.5h0M170.0 356.2h0M108.2 299.5h0M152.6 337.8h0M154.6 346.8h0M124.1 310.4h0M90.9 280.9h0M110.6 302.5h0M158.0 347.9h0M167.3 355.4h0M158.3 340.7h0M153.6 332.2h0M146.4 331.0h0M133.5 316.9h0M155.7 336.7h0M147.0 342.4h0M142.2 321.5h0M157.7 345.2h0M134.2 320.2h0M149.4 340.4h0M150.4 333.2h0M146.1 338.0h0M163.4 355.9h0M157.1 338.3h0M125.3 308.4h0M162.4 352.8h0M148.3 340.9h0M92.7 286.8h0M130.2 319.2h0M105.5 297.4h0M135.7 317.4h0M165.5 352.2h0M166.8 349.9h0M94.5 281.6h0M154.2 341.8h0M102.1 299.7h0M158.1 356.5h0M113.1 309.0h0M117.0 305.8h0M150.8 345.1h0M134.1 319.1h0M128.3 321.0h0M137.4 328.3h0M120.5 305.9h0M134.1 319.7h0M153.0 338.9h0M103.9 298.5h0M143.7 327.1h0M131.0 320.9h0M89.7 278.4h0M92.4 280.8h0M114.4 305.3h0M142.8 331.7h0M115.2 300.3h0M87.3 273.3h0M157.6 355.7h0M131.8 319.9h0M137.4 328.0h0M120.6 313.8h0M107.9 304.3h0M150.8 338.2h0M91.1 281.6h0M133.0 323.6h0M157.4 358.2h0M106.4 298.8h0M122.8 308.9h0M129.5 319.2h0M114.4 305.6h0M98.8 294.5h0M125.1 308.3h0M103.7 295.7h0M167.9 352.7h0M132.4 316.1h0M155.5 349.6h0M125.4 316.0h0M95.5 281.4h0M160.7 338.5h0M85.5 272.5h0M130.6 322.1h0M134.3 325.1h0M153.6 344.5h0M136.2 323.3h0M129.1 314.3h0M114.3 306.6h0M138.0 318.4h0M94.5 285.0h0M111.8 307.1h0M148.7 330.4h0M153.5 334.0h0M146.8 329.7h0M143.0 320.8h0M102.9 298.1h0M139.3 326.4h0M149.8 332.3h0M140.7 327.2h0M160.3 342.5h0M137.9 326.4h0M135.8 323.0h0M129.9 317.4h0M152.2 336.5h0M134.0 318.4h0M100.0 287.6h0M118.5 305.1h0M109.6 301.6h0M159.3 353.4h0M108.9 301.9h0M103.2 300.8h0M94.8 285.9h0M138.6 321.7h0M91.8 274.7h0M127.1 315.2h0M161.0 347.8h0M126.5 317.6h0M99.1 285.0h0M134.4 323.5h0M106.1 303.4h0M118.0 310.2h0M151.6 348.3h0M155.2 344.3h0M118.2 309.0h0M113.8 304.5h0M87.9 280.9h0M121.1 306.2h0M104.9 292.4h0M91.0 273.6h0M107.1 294.1h0M104.0 299.5h0M128.9 312.7h0M111.9 307.7h0M115.6 311.1h0M162.2 355.5h0M86.7 271.9h0M141.2 330.0h0M138.3 319.6h0M112.3 300.0h0M149.8 343.1h0M104.2 298.7h0M158.8 352.5h0M102.3 297.4h0M160.6 347.7h0M163.0 354.9h0M158.1 346.2h0M136.7 329.7h0M106.5 293.8h0M87.5 279.3h0M141.9 333.9h0M148.0 344.0h0M152.6 346.6h0M101.7 297.0h0M138.8 325.1h0M152.8 343.1h0M148.8 330.0h0M159.7 345.0h0M159.8 359.5h0M112.8 297.8h0M102.7 289.9h0M135.5 320.4h0M104.7 299.0h0M123.4 309.8h0M87.5 277.6h0M144.8 327.2h0M109.3 299.7h0M141.3 321.5h0M168.2 352.9h0M163.1 359.0h0M146.0 338.8h0M128.9 320.3h0M95.3 288.2h0M156.5 350.2h0M157.7 358.5h0M126.5 316.5h0M153.4 346.5h0M142.6 326.9h0M160.8 348.1h0M155.5 338.3h0M144.3 322.2h0M155.4 353.3h0M113.5 299.9h0M154.8 348.9h0M106.5 299.3h0M92.7 286.0h0M120.7 310.8h0M156.1 343.1h0M98.6 286.5h0M154.8 345.9h0M118.3 307.4h0M141.7 325.4h0M144.0 335.1h0M91.8 282.7h0M108.4 304.9h0M163.4 349.7h0M144.9 328.7h0M163.6 357.3h0M144.2 329.2h0M159.3 357.1h0M153.1 339.2h0M122.5 312.9h0M93.9 281.7h0M125.9 315.1h0M160.4 353.9h0M104.5 294.0h0M164.9 357.4h0M96.2 289.6h0M141.0 319.2h0M142.0 336.0h0M127.9 316.1h0M164.7 353.8h0M144.2 330.0h0M162.4 345.1h0M148.8 329.9h0M147.6 331.6h0M113.2 301.3h0M119.5 312.5h0M131.4 315.1h0M104.6 294.5h0" stroke="#5b2c8f" stroke-width="1.9" stroke-linecap="round" fill="none"/>
<path d="M125.4 318.7h0M143.2 323.7h0M104.7 293.3h0M94.0 280.7h0M167.1 355.1h0M105.4 300.0h0M106.0 303.4h0M148.0 331.5h0M101.8 294.3h0M122.0 305.9h0M107.4 302.2h0M153.9 343.0h0M121.3 304.7h0M101.6 289.8h0M145.4 324.9h0M160.3 355.2h0M100.6 295.1h0M141.8 321.3h0M159.4 353.2h0M106.3 297.8h0M154.3 352.4h0M141.4 331.5h0M165.5 357.2h0M124.9 311.7h0M127.2 318.0h0M147.7 329.6h0M90.1 285.3h0M150.3 327.8h0M138.3 325.2h0M161.3 347.4h0M151.5 329.8h0M139.7 332.3h0M111.9 296.9h0M105.4 290.8h0M169.1 356.5h0M159.6 359.9h0M110.7 307.3h0M155.4 332.8h0M145.7 328.9h0M144.3 331.5h0M87.5 273.2h0M96.9 283.0h0M114.2 306.8h0M104.3 301.7h0M101.5 299.0h0M100.0 289.5h0M169.2 352.4h0M151.7 349.4h0M117.8 311.6h0M153.2 331.9h0M95.6 285.2h0M157.3 351.4h0M136.5 325.0h0M98.0 287.3h0M143.2 325.2h0M156.2 335.1h0M162.8 342.2h0M150.9 328.6h0M164.7 355.9h0M168.2 353.8h0M139.0 322.2h0M128.4 312.3h0M146.0 332.1h0M145.3 329.0h0M108.1 294.7h0M155.1 352.1h0M147.2 339.4h0M161.7 351.8h0M121.0 312.0h0M105.0 292.5h0M162.7 345.7h0M93.7 280.1h0M94.7 280.1h0M112.8 299.6h0M141.7 323.0h0M114.6 299.9h0M129.4 317.9h0M158.6 335.3h0M89.9 276.7h0M170.9 354.2h0M136.5 317.7h0M138.8 330.9h0M140.3 327.0h0M153.5 342.6h0M146.2 341.4h0M155.1 344.3h0M103.9 293.5h0M90.5 282.8h0M87.1 274.8h0M148.0 327.4h0M158.4 349.6h0M92.4 277.8h0M98.7 297.0h0M167.4 355.5h0M142.0 326.9h0M168.2 355.5h0M143.1 329.2h0M155.4 340.8h0M144.5 332.3h0M89.9 281.7h0M94.2 291.2h0M160.6 343.0h0M138.5 318.8h0M155.4 355.8h0M156.1 334.4h0M158.9 335.5h0M149.4 328.4h0M155.8 346.6h0M120.0 308.5h0M128.2 312.1h0M154.9 349.9h0M151.6 335.3h0M113.0 306.1h0M166.1 350.5h0M163.0 341.5h0M117.3 311.1h0M154.6 346.0h0M143.3 327.9h0M91.0 286.4h0M139.7 323.9h0M96.9 290.9h0M150.8 342.7h0M169.9 354.6h0M88.2 273.8h0M139.7 326.0h0M134.5 314.1h0M142.2 323.7h0M103.1 290.7h0M133.6 321.3h0M116.5 301.9h0M153.3 336.8h0M135.2 320.1h0M89.5 278.7h0M167.8 355.3h0M102.2 294.6h0M126.9 309.1h0M138.4 322.9h0M171.2 354.9h0M162.4 357.2h0M102.6 291.8h0M143.5 324.0h0M148.4 344.9h0M162.3 351.3h0M165.1 352.3h0M119.8 314.7h0M155.1 345.3h0M143.4 336.5h0M145.2 332.6h0M155.9 341.7h0M163.9 353.4h0M163.8 343.7h0M152.3 343.3h0M155.0 339.4h0M147.9 343.8h0M145.9 324.5h0M123.6 308.2h0M158.9 339.9h0M166.0 354.5h0M153.0 350.9h0M132.0 312.6h0M141.1 323.0h0M112.4 300.7h0M156.2 339.2h0M164.8 347.9h0M141.7 330.7h0M137.8 328.6h0M108.6 295.2h0M92.2 278.2h0M163.2 358.1h0M141.1 328.3h0M159.2 358.3h0M145.9 337.6h0M162.2 358.4h0M122.5 311.3h0M94.1 290.8h0M160.9 347.7h0M156.7 340.1h0M89.1 282.7h0M98.8 287.4h0M89.0 272.6h0M149.2 330.0h0M153.1 345.6h0M109.7 302.8h0M154.2 350.9h0M116.0 300.6h0M137.8 328.2h0M145.0 328.0h0M146.9 327.9h0M90.5 275.1h0M122.3 313.6h0M165.0 345.5h0M93.5 286.6h0M158.2 337.6h0M157.2 358.0h0M156.0 340.1h0M90.6 280.8h0M150.5 335.2h0M121.0 309.8h0M116.6 306.7h0M106.5 292.0h0" stroke="#228b47" stroke-width="1.7" stroke-linecap="round" fill="none"/>
<path d="M186.8 240.2h0M176.2 225.6h0M193.6 242.5h0M175.7 223.7h0M183.2 235.7h0M190.6 234.4h0M180.2 236.5h0M183.4 231.1h0M186.8 231.5h0M185.4 230.2h0M171.1 223.9h0M179.9 236.6h0M190.0 240.7h0M177.9 228.7h0M190.6 241.5h0M190.7 236.5h0M178.8 227.1h0M171.2 223.5h0M179.6 227.6h0M183.6 239.4h0M177.1 235.7h0M187.5 234.4h0" stroke="#de3497" stroke-width="1.6" stroke-linecap="round" fill="none"/>
<path d="M201.6 294.0h0M206.6 311.8h0M197.2 314.4h0M193.7 311.1h0M194.0 322.4h0M182.4 314.6h0M207.2 326.2h0M186.0 309.5h0M200.2 330.2h0M200.6 288.1h0M201.7 300.1h0M200.2 314.3h0M203.5 334.8h0M187.6 301.2h0M204.2 305.1h0M193.8 322.1h0M199.2 295.4h0M200.8 300.8h0M189.0 327.0h0M208.7 309.0h0M189.5 303.9h0M210.5 322.5h0M190.4 322.3h0M201.9 320.5h0M204.2 317.6h0M187.0 324.2h0M209.6 331.1h0M187.1 321.5h0M201.2 287.0h0M198.6 334.7h0M192.6 308.3h0M197.4 336.4h0M205.3 311.8h0M206.2 309.3h0M204.6 297.8h0M198.8 295.0h0M192.9 321.0h0M206.5 308.6h0M191.5 331.9h0M197.1 309.4h0M208.2 305.2h0M196.2 287.2h0M192.4 321.5h0M192.0 314.2h0M201.1 310.1h0M198.7 304.3h0M199.7 335.7h0M196.2 299.2h0M205.3 294.5h0M195.0 321.4h0" stroke="#228b47" stroke-width="1.6" stroke-linecap="round" fill="none"/>
<path d="M199.9 334.4h0M203.9 320.6h0M204.0 317.3h0M203.2 287.7h0M197.0 306.2h0M194.2 333.4h0M186.1 324.4h0M200.0 287.9h0M196.8 313.1h0M203.6 331.0h0M185.8 324.9h0M194.8 328.2h0M201.7 307.1h0M190.2 311.9h0M188.0 316.4h0M199.5 323.0h0M203.6 323.3h0M184.8 314.5h0M190.3 303.4h0M201.6 290.5h0M197.2 298.7h0M196.2 316.9h0M203.3 321.5h0M185.7 321.9h0M196.6 312.9h0M196.5 327.0h0M192.4 316.9h0M189.7 310.4h0M193.9 326.0h0M202.6 291.7h0" stroke="#5b2c8f" stroke-width="1.6" stroke-linecap="round" fill="none"/>
<path d="M182.2 299.0h0M189.7 271.0h0M184.3 276.7h0M190.6 298.6h0M192.5 274.1h0M190.0 283.5h0M188.5 297.9h0M182.2 278.5h0M186.7 275.6h0M182.4 300.7h0M181.2 298.4h0M176.9 289.8h0M194.1 293.2h0M185.1 273.1h0M181.2 272.1h0M187.8 293.4h0M177.8 277.4h0M189.3 275.0h0M195.3 288.2h0M184.3 277.0h0M191.3 281.2h0M190.4 274.0h0M192.3 293.5h0M194.4 293.1h0M183.2 299.5h0M180.7 281.8h0M178.9 285.7h0M183.8 284.7h0M189.1 277.8h0M187.1 288.3h0M177.6 274.3h0M183.3 289.6h0M183.3 272.3h0M190.7 297.1h0M195.3 290.0h0M179.0 274.4h0M182.7 291.5h0M185.9 292.8h0M179.8 282.7h0M181.2 294.3h0" stroke="#ffffff" stroke-width="1.8" stroke-linecap="round" fill="none"/>
<path d="M157.7 319.4h0M175.0 319.7h0M158.4 330.8h0M177.5 329.5h0M166.0 345.4h0M163.6 324.3h0M162.9 320.6h0M177.4 340.1h0M162.4 338.5h0M165.1 322.8h0M166.9 332.8h0M161.3 333.2h0M178.2 325.2h0M165.7 328.3h0M171.6 318.6h0M172.4 339.6h0M171.8 325.7h0M168.5 325.3h0M164.4 341.3h0M167.6 317.3h0M163.3 322.5h0M175.9 321.6h0M160.9 319.7h0M174.6 326.1h0M173.6 328.1h0M172.1 321.1h0M166.6 320.9h0M169.2 325.1h0M173.4 317.2h0M168.8 320.6h0M172.3 315.3h0M157.9 322.9h0M157.3 333.6h0M170.3 343.1h0M166.8 345.2h0M157.7 330.1h0M170.8 320.3h0M171.1 336.4h0M176.5 327.9h0M158.9 324.7h0M164.7 343.0h0M166.3 325.9h0M158.3 318.8h0M158.5 334.5h0M168.2 326.1h0" stroke="#ffffff" stroke-width="1.8" stroke-linecap="round" fill="none"/>
<path d="M207.0 320.5h0M178.0 339.0h0M208.9 331.4h0M190.7 354.4h0M200.7 319.9h0M193.5 335.0h0M200.8 352.8h0M180.3 325.5h0M201.8 355.0h0M190.9 340.4h0M181.4 330.8h0M203.2 336.6h0M190.5 350.9h0M190.4 316.4h0M202.7 354.3h0M190.0 317.4h0M176.1 333.3h0M197.8 327.7h0M186.7 327.2h0M202.0 354.5h0M187.8 325.0h0M195.2 329.1h0M188.7 350.5h0M189.1 326.3h0M191.1 342.6h0M206.5 322.6h0M206.5 341.4h0M191.3 352.4h0M206.9 331.0h0M187.6 348.3h0M198.8 318.7h0M204.1 349.4h0M202.3 353.4h0M195.8 348.3h0M195.6 324.4h0M199.3 323.6h0M210.7 326.0h0M205.6 344.7h0M209.8 327.2h0M186.1 345.5h0M185.9 322.8h0M173.5 319.0h0M213.5 323.4h0M186.0 327.3h0M213.1 333.1h0M206.4 347.3h0M200.6 352.5h0M174.7 323.8h0M197.9 348.9h0M176.2 316.2h0M204.6 348.8h0M189.3 348.8h0M213.3 338.0h0M210.1 331.4h0M186.4 324.6h0M183.1 325.9h0M181.1 339.4h0M190.4 340.1h0M207.4 341.0h0M187.9 352.1h0M208.0 335.2h0M174.5 329.3h0M193.8 350.2h0M211.7 328.7h0M201.7 346.3h0M176.3 333.9h0M208.7 344.3h0M203.8 339.0h0M184.4 326.1h0M172.5 323.7h0M203.7 342.1h0M209.1 325.9h0M184.9 336.1h0M206.6 341.2h0M194.3 345.1h0M204.1 327.1h0M178.7 321.8h0M200.2 354.0h0M200.1 348.1h0M186.8 332.3h0M203.5 347.0h0M207.8 339.5h0M210.2 333.8h0M206.5 337.3h0M188.9 323.1h0M185.0 326.3h0M192.0 321.2h0M184.8 328.2h0M194.9 343.7h0M203.8 344.1h0M194.7 339.8h0M190.3 355.9h0M211.6 330.8h0M181.6 318.9h0M174.2 328.3h0M177.0 334.7h0M202.0 352.5h0M198.6 321.0h0M187.4 331.0h0M185.6 339.0h0M187.4 349.2h0M180.0 339.0h0M191.7 344.9h0M178.2 332.6h0M206.4 351.6h0M202.4 356.0h0M184.5 343.8h0M183.5 317.9h0M188.7 318.5h0M202.2 318.6h0M185.7 325.2h0M192.6 327.7h0M189.1 321.2h0M210.3 326.6h0M198.7 344.7h0M184.8 349.5h0M182.3 341.5h0M181.0 325.7h0M184.2 342.8h0M199.1 355.0h0" stroke="#5b2c8f" stroke-width="1.7" stroke-linecap="round" fill="none"/>
<path d="M223.6 352.0h0M186.5 352.1h0M122.0 243.4h0M189.1 271.2h0M94.9 255.3h0M264.3 362.7h0M142.5 255.1h0M206.8 323.8h0M157.2 270.6h0M139.9 263.2h0M269.2 458.6h0M168.5 320.6h0M178.6 309.9h0M256.4 374.7h0M201.4 393.7h0M146.8 202.9h0M248.1 382.0h0M184.2 312.9h0M275.0 435.8h0M230.7 393.6h0M143.2 229.1h0M243.2 374.6h0M200.7 410.7h0M162.0 324.0h0M188.0 282.6h0M180.9 409.7h0M266.1 386.0h0M215.3 377.9h0M252.1 366.1h0M213.7 365.7h0M244.2 434.0h0M132.6 271.5h0M178.7 303.9h0M262.7 371.1h0M228.5 463.0h0M286.5 442.5h0M145.1 337.5h0M188.8 289.6h0M126.1 225.8h0M175.2 326.3h0M176.3 286.4h0M114.2 226.0h0M206.5 296.3h0M161.7 336.7h0M85.7 266.0h0M262.4 396.9h0M195.5 347.2h0M204.2 384.5h0M94.7 289.9h0M193.2 433.5h0M120.6 265.7h0M117.8 236.6h0M262.4 371.6h0M145.7 267.7h0M283.0 420.3h0M154.2 302.7h0M157.2 301.7h0M128.5 299.3h0M267.4 438.3h0M203.0 341.6h0M275.5 437.9h0M274.6 430.0h0M161.5 351.5h0M272.8 440.7h0M228.6 432.6h0M267.8 454.4h0M166.8 313.6h0M231.3 340.4h0M123.2 219.6h0M195.6 389.9h0M263.5 385.4h0M214.8 412.4h0M130.3 248.6h0M160.1 253.9h0M123.8 296.8h0M146.6 211.0h0M146.0 339.8h0M109.2 220.3h0M189.5 393.3h0M244.7 400.9h0M234.6 375.0h0M151.0 254.1h0M191.8 381.4h0M260.6 427.4h0M256.4 374.0h0M163.8 348.2h0M181.7 386.5h0M155.0 230.2h0M277.2 399.8h0M185.6 259.5h0M237.6 447.3h0M127.2 260.3h0M138.2 313.3h0M217.0 349.7h0M150.8 316.4h0M129.5 201.5h0M224.5 475.3h0M152.0 203.7h0M176.2 316.7h0M147.4 209.0h0M149.9 260.2h0M257.3 385.5h0M197.5 410.1h0M171.4 379.7h0M146.9 239.1h0M136.0 319.5h0M203.6 448.2h0M205.4 454.4h0M131.2 273.0h0M242.3 354.5h0M212.5 392.8h0M139.8 323.6h0M264.0 407.7h0M166.1 304.2h0M232.3 365.4h0M118.4 305.3h0M184.4 406.8h0M186.8 404.7h0M150.5 240.0h0M152.4 255.9h0M123.7 257.1h0M146.7 265.2h0M106.1 229.0h0M179.0 401.2h0M141.2 274.1h0M233.4 399.6h0M229.9 411.1h0M124.0 233.2h0M195.9 266.8h0M111.4 300.3h0M127.4 245.3h0M149.5 229.3h0M203.1 360.4h0M243.1 451.7h0M160.2 336.3h0M151.6 329.2h0M257.7 372.5h0M187.6 403.8h0M161.5 335.4h0M245.0 369.6h0M197.7 282.0h0M149.6 255.9h0M190.1 423.7h0M189.6 263.4h0M193.6 251.8h0M145.2 307.0h0M176.1 225.5h0M153.5 252.4h0M254.1 423.2h0M157.1 293.1h0M133.5 237.3h0M145.2 255.1h0M161.1 251.3h0M188.2 335.9h0M136.2 289.8h0M246.3 452.0h0M236.9 460.7h0M251.5 391.8h0M137.6 261.6h0M107.1 229.8h0M98.4 255.8h0M191.6 299.2h0M266.2 449.7h0M265.8 393.6h0M207.8 321.7h0M265.7 427.5h0M248.9 390.2h0M146.0 201.9h0M202.8 395.0h0M245.2 370.9h0M224.0 464.1h0M198.4 391.8h0M170.9 220.7h0M232.9 351.2h0M278.9 444.8h0M171.9 286.5h0M155.6 321.2h0M218.2 417.9h0M143.0 221.4h0M263.7 412.2h0M256.1 452.1h0M210.1 319.9h0M165.6 329.7h0M230.2 444.6h0M259.0 352.0h0M191.6 435.9h0M100.4 242.7h0M258.2 381.7h0M99.0 282.1h0M138.2 200.5h0M176.4 251.1h0M117.3 283.7h0M153.2 214.1h0M180.6 388.3h0M104.5 299.8h0M227.6 414.7h0M223.6 430.5h0M245.4 378.6h0M193.7 324.4h0M132.9 220.8h0M178.1 273.9h0M245.9 439.3h0M268.0 440.7h0M139.8 333.3h0M145.3 202.7h0M246.3 427.4h0M180.4 303.7h0M187.9 394.9h0M125.6 243.5h0M150.1 216.8h0M132.1 259.1h0M191.0 373.3h0M171.2 326.9h0M175.6 282.1h0M248.1 462.5h0M259.5 395.7h0M244.2 465.7h0M226.2 453.6h0M184.0 392.8h0M147.5 270.7h0M100.2 289.7h0M204.4 258.0h0M268.5 435.5h0M252.4 459.5h0M188.8 263.2h0M195.5 394.7h0M164.5 252.8h0M226.4 456.3h0M172.6 336.1h0M196.4 289.3h0M212.7 374.3h0M170.0 234.1h0M135.3 314.5h0M159.0 258.1h0M190.9 246.9h0M207.9 429.9h0M198.0 292.7h0M114.3 222.4h0M107.1 235.3h0M201.8 392.6h0M145.6 336.2h0M237.6 422.1h0M272.4 448.3h0M139.5 236.3h0M197.6 450.9h0M161.2 317.9h0M128.9 272.0h0M224.7 359.0h0M233.5 348.7h0M126.2 240.7h0M194.5 295.9h0M229.4 447.8h0M227.8 432.8h0M179.2 396.8h0M283.3 423.1h0M237.0 400.3h0M207.0 428.1h0M141.0 208.7h0M122.7 256.1h0M153.9 277.6h0M239.3 372.9h0M153.2 220.8h0M198.8 428.6h0M146.9 232.1h0M124.0 236.0h0M171.0 259.4h0M174.5 318.0h0M275.6 406.3h0M184.0 284.9h0M192.2 279.9h0M118.6 260.4h0M131.4 308.3h0M227.1 396.4h0M205.4 319.8h0M112.3 250.3h0M174.6 327.4h0M165.1 288.7h0M283.7 414.1h0M215.7 465.3h0M233.9 368.8h0M258.3 427.1h0M106.0 271.0h0M102.8 266.8h0M121.4 278.9h0M248.9 383.4h0M115.9 302.2h0M142.2 267.8h0M285.5 412.3h0M120.1 224.2h0M209.8 405.1h0M236.0 385.7h0M272.9 445.0h0M181.1 361.0h0M264.2 442.6h0M191.3 284.2h0M107.7 266.8h0M191.4 406.3h0M152.6 272.3h0M115.0 257.7h0M112.9 292.6h0" stroke="#228b47" stroke-width="1.5" stroke-linecap="round" fill="none"/>
<path d="M244.1 412.8h0M262.6 405.0h0M264.5 402.9h0M259.9 400.9h0M258.3 418.4h0M251.7 405.2h0M255.1 436.8h0M246.0 450.6h0M237.7 402.4h0M257.7 413.4h0M285.8 413.1h0M266.7 444.9h0M265.5 426.0h0M245.0 431.0h0M267.0 407.3h0M260.8 420.5h0M263.6 443.4h0M270.3 446.3h0M263.6 441.0h0M269.3 426.1h0M245.7 415.8h0M240.5 410.1h0M261.7 420.6h0M276.6 441.0h0M282.1 419.2h0M268.6 444.4h0M258.8 448.0h0M237.4 406.3h0M280.0 440.9h0M259.1 444.3h0M277.3 433.8h0M260.3 449.1h0M270.0 429.9h0M259.3 444.7h0M287.7 415.4h0M285.3 417.3h0M282.7 413.2h0M277.7 430.9h0M267.6 449.1h0M272.8 434.1h0M263.1 427.9h0M256.5 447.6h0M251.1 399.2h0M283.6 408.4h0M266.2 400.4h0M278.0 429.4h0M231.6 422.6h0M242.2 433.1h0M264.3 448.9h0M276.2 425.7h0M267.2 403.6h0M239.9 416.4h0M288.1 426.9h0M265.1 433.0h0M241.7 419.2h0M262.0 424.0h0M277.2 443.9h0M258.7 421.5h0M283.7 409.4h0M262.5 429.5h0M231.5 410.2h0M232.7 436.2h0M264.3 434.8h0M262.1 439.5h0M268.1 438.4h0M285.7 441.3h0M243.1 425.7h0M238.0 410.5h0M276.2 412.6h0M273.2 425.7h0M289.1 437.7h0M244.2 410.1h0M252.4 424.5h0M281.5 418.6h0M243.2 402.4h0M256.3 399.6h0M274.0 441.5h0M245.7 413.5h0M260.7 443.7h0M246.6 435.1h0M279.0 434.8h0M245.3 440.6h0M257.0 437.7h0M281.7 428.0h0M271.2 422.9h0M250.6 400.8h0M230.1 429.5h0M285.3 409.9h0M248.8 433.6h0M273.8 400.1h0M262.7 418.5h0M285.0 408.4h0M274.3 434.1h0M262.4 439.6h0M256.1 415.6h0M285.8 413.9h0M259.9 443.5h0M280.1 440.6h0M254.5 431.3h0M261.9 415.0h0M284.8 423.9h0M243.8 410.1h0M245.7 447.3h0M280.4 408.1h0M288.8 424.5h0M252.1 419.0h0M270.0 410.6h0M276.2 405.1h0M262.7 436.9h0M242.4 423.5h0M249.2 420.9h0M232.0 430.8h0M272.5 410.1h0M278.3 426.6h0M243.8 412.0h0M272.6 396.5h0M263.0 451.7h0M283.1 433.0h0M253.7 425.1h0M270.1 425.1h0M289.5 434.7h0M261.7 433.2h0M235.2 416.2h0M257.3 423.3h0M273.8 411.8h0M255.2 451.1h0M261.7 422.6h0M254.0 450.4h0M259.9 433.9h0M281.2 426.9h0M257.5 443.2h0M237.0 433.7h0M243.0 433.5h0M264.0 412.8h0M285.0 428.2h0M274.6 418.7h0M261.2 431.0h0M286.5 439.3h0M273.0 445.6h0M251.5 410.3h0M278.7 409.6h0M289.4 435.2h0M287.3 437.7h0M269.9 450.2h0M272.1 406.5h0M278.5 413.0h0M257.4 393.4h0M254.4 434.0h0M282.5 410.9h0M254.2 414.1h0M254.3 430.6h0M277.8 432.4h0M282.3 413.8h0M278.5 401.8h0M269.7 420.2h0M276.3 426.4h0M271.7 450.9h0M276.7 414.9h0M288.7 432.8h0M249.8 415.2h0M266.0 412.1h0M273.7 432.1h0M278.9 416.7h0M238.8 426.5h0M248.9 404.4h0M262.0 399.1h0M283.5 438.3h0M270.7 421.7h0M256.6 446.4h0M283.5 438.6h0M253.7 393.5h0M284.3 438.0h0M282.7 434.9h0M266.1 433.7h0M258.0 426.6h0M268.4 441.9h0M235.8 432.7h0M261.2 427.0h0M259.6 415.4h0M288.5 433.2h0M262.5 439.4h0M245.6 441.1h0M259.1 449.0h0M285.3 440.5h0M250.0 443.1h0M261.8 430.1h0M259.7 418.1h0M281.9 445.1h0M260.7 430.7h0M268.3 413.0h0M268.5 419.6h0M272.1 398.0h0M270.5 412.7h0M274.1 441.9h0M252.3 421.7h0M288.0 419.1h0M290.0 431.0h0M228.9 427.8h0M260.2 426.3h0M241.0 444.9h0M246.7 400.4h0M226.9 425.4h0M272.9 444.7h0M262.0 438.5h0M285.4 429.1h0M279.9 429.0h0M237.8 419.1h0M253.3 422.0h0M244.7 400.1h0M255.5 444.7h0M258.9 436.5h0M251.1 435.4h0M247.1 422.3h0M267.3 422.4h0M274.2 416.5h0M246.4 435.8h0M281.1 406.1h0M281.6 435.5h0M238.3 442.4h0M288.6 419.3h0M262.0 436.3h0M264.6 410.6h0M247.8 441.3h0M286.2 420.9h0M282.1 440.4h0M274.4 412.7h0M245.0 404.9h0M264.7 419.9h0M281.7 427.6h0M274.9 419.4h0M283.5 438.2h0M274.7 421.9h0M273.9 401.9h0M255.0 420.1h0M273.0 430.4h0M289.1 429.7h0M248.6 407.5h0M277.4 425.8h0M269.1 439.3h0M256.2 405.1h0M267.7 428.5h0M288.7 438.6h0M263.1 414.5h0M256.1 443.0h0M283.7 416.9h0M283.2 415.4h0M263.6 400.3h0M262.2 442.8h0M264.7 437.4h0M269.0 398.2h0M251.7 425.7h0M266.2 439.8h0M287.3 431.8h0M278.7 448.4h0M259.9 405.2h0M252.8 414.8h0M256.6 418.9h0M281.9 426.0h0M235.5 430.5h0M288.5 433.9h0M253.4 439.3h0M282.5 420.9h0M265.7 422.4h0M267.2 439.1h0M269.7 432.4h0M268.0 427.4h0M266.5 419.6h0M253.7 437.8h0M255.6 407.8h0M276.5 401.5h0M273.2 451.0h0M240.6 443.0h0M264.4 426.4h0M279.0 446.3h0M249.5 420.8h0M279.0 438.8h0M264.5 439.5h0M275.3 408.5h0M230.1 421.4h0M264.6 412.5h0M265.1 411.9h0M284.4 418.7h0M246.5 432.5h0M278.2 422.8h0M272.8 411.5h0M234.5 426.5h0M284.9 413.0h0M274.4 410.1h0M262.5 441.9h0M245.1 445.9h0M268.9 436.8h0M286.2 429.4h0M271.5 406.3h0M250.8 445.6h0M255.1 432.6h0M279.8 432.0h0M263.7 422.5h0M231.8 436.8h0M285.4 414.7h0M269.7 440.0h0M238.4 434.5h0M249.1 434.0h0M269.2 407.7h0M255.7 449.2h0M256.3 403.0h0M271.2 395.3h0M265.9 439.4h0M249.5 426.3h0M285.2 416.5h0M271.0 432.5h0M244.3 450.7h0M279.8 447.3h0M241.2 421.2h0M272.7 439.6h0M264.2 397.1h0M288.1 423.7h0M270.7 396.5h0M283.9 411.2h0M282.4 415.8h0M267.1 393.1h0M261.3 446.0h0M268.0 411.9h0M260.6 432.2h0M233.6 437.4h0M264.3 431.4h0M258.5 395.0h0M252.5 412.8h0M274.7 403.7h0M263.6 416.1h0M247.8 398.1h0M270.1 400.1h0M276.2 447.7h0M269.1 444.0h0M278.1 415.1h0M253.8 419.1h0M263.2 432.5h0M235.7 408.6h0M260.5 415.3h0M281.9 430.7h0M242.1 421.4h0" stroke="#e6e2f0" stroke-width="1.5" stroke-linecap="round" fill="none"/>
<path d="M261.8 430.8h0M255.1 408.2h0M267.1 438.5h0M252.7 409.1h0M273.7 400.7h0M262.4 404.3h0M288.4 425.1h0M259.6 443.5h0M255.8 447.0h0M272.6 430.5h0M263.2 420.7h0M248.2 419.4h0M278.0 412.5h0M267.5 399.0h0M277.8 425.3h0M250.4 432.3h0M252.4 426.3h0M244.2 418.7h0M271.7 397.7h0M265.5 425.7h0M275.2 403.6h0M245.2 426.8h0M281.1 411.8h0M290.2 424.8h0M241.7 432.6h0M283.9 408.7h0M236.6 403.8h0M248.6 418.1h0M266.8 423.9h0M260.7 395.1h0M253.1 429.7h0M259.2 417.7h0M281.0 409.9h0M244.9 423.6h0M236.3 436.2h0M274.8 444.3h0M281.0 413.6h0M246.9 448.4h0M239.5 431.0h0M269.4 425.7h0M270.9 416.5h0M264.7 420.4h0M259.3 402.5h0M278.1 439.0h0M280.4 427.3h0M260.6 402.1h0M267.9 403.1h0M282.7 435.1h0M260.7 428.5h0M280.9 418.6h0M254.4 450.1h0M283.6 440.9h0M263.4 407.5h0M238.8 434.8h0M270.9 414.1h0M244.8 444.7h0M238.5 415.7h0M260.5 417.4h0M253.5 432.2h0M254.3 418.6h0M259.7 444.4h0M272.1 428.3h0M234.0 413.1h0M279.0 433.7h0M259.5 419.5h0M281.4 435.5h0M265.1 439.4h0M236.0 429.9h0M247.2 407.6h0M279.3 430.9h0M249.7 418.8h0M276.9 409.4h0M270.1 423.5h0M279.8 426.1h0M271.2 431.7h0M282.3 438.5h0M254.6 429.8h0M286.3 426.8h0M285.3 425.6h0M250.1 441.6h0M251.4 424.8h0M251.2 411.2h0M275.0 400.7h0M244.7 440.7h0M280.6 431.5h0M289.6 433.0h0M238.3 424.2h0M276.0 397.8h0M287.5 420.2h0M237.2 425.7h0M269.3 392.5h0M281.1 405.2h0M253.6 399.8h0M266.4 422.0h0M276.5 407.3h0M264.3 407.0h0M274.0 415.5h0M271.8 395.2h0M241.4 419.2h0M261.2 447.8h0M256.7 411.3h0M258.5 415.8h0M273.6 444.3h0M246.3 431.6h0M233.3 432.3h0M265.8 401.9h0M243.1 447.9h0M256.0 432.9h0M260.6 440.2h0M279.4 417.7h0M267.1 439.5h0M241.1 439.8h0M289.5 422.4h0M239.5 403.0h0M267.9 404.4h0M275.5 418.4h0M272.3 413.6h0M279.2 431.0h0M278.0 418.6h0M260.1 442.4h0M232.2 433.2h0M265.2 430.5h0M281.9 422.2h0M268.7 412.2h0M247.1 451.8h0M247.0 410.6h0M288.5 426.7h0M279.8 420.2h0M254.0 438.8h0M270.4 394.7h0M273.8 449.8h0M261.7 447.0h0M268.1 433.9h0M249.0 435.7h0M245.3 423.9h0M255.0 406.4h0M236.9 417.3h0M264.2 445.7h0M243.8 418.8h0M284.0 433.7h0M276.2 444.8h0M253.7 443.2h0M281.1 404.8h0M255.1 411.7h0M270.8 425.6h0M262.9 422.7h0M289.6 424.5h0M275.6 409.8h0M269.9 409.6h0M280.5 438.0h0M266.7 440.7h0M281.1 439.0h0M270.7 403.1h0M272.1 411.0h0M256.2 423.4h0M232.4 423.3h0M238.0 437.1h0M250.5 408.5h0M272.6 406.3h0M256.3 436.8h0M277.2 430.9h0M244.0 448.3h0M251.2 441.7h0M262.4 438.1h0M254.2 446.8h0M250.9 425.6h0M279.7 443.2h0M266.7 423.1h0M256.1 440.9h0M259.6 434.9h0M266.1 411.9h0M280.2 408.5h0M258.3 435.9h0M283.0 428.3h0M250.4 411.1h0M243.0 426.0h0M247.5 415.2h0M262.0 406.5h0M269.5 424.5h0M282.3 434.5h0M270.9 413.5h0M269.3 415.1h0M239.8 434.5h0M276.1 439.8h0M264.3 437.9h0M230.5 434.0h0M286.9 433.8h0M265.5 427.8h0M242.0 430.7h0M229.3 428.2h0M252.4 437.0h0M254.7 425.7h0M269.9 425.7h0M288.1 426.8h0M238.4 417.5h0M260.7 401.9h0M263.4 416.4h0M270.1 414.4h0M244.4 436.6h0M276.9 434.8h0M266.8 403.1h0M269.9 442.1h0M266.0 448.2h0M259.7 447.9h0M286.9 431.7h0M252.9 421.0h0M279.8 411.2h0M284.8 411.0h0M263.7 419.4h0M269.1 435.8h0M273.4 436.2h0M279.2 408.3h0M260.4 414.5h0M268.8 393.9h0M251.3 447.1h0M258.8 431.2h0M242.5 444.1h0M258.6 435.3h0M271.5 407.2h0M260.3 441.6h0M232.5 435.8h0M289.2 438.9h0M265.6 440.9h0M262.0 403.3h0M238.8 408.3h0M285.5 417.1h0M274.9 423.7h0M253.9 449.1h0M266.8 420.9h0M281.9 409.4h0M269.0 431.1h0M258.2 449.7h0M272.9 419.6h0M258.3 442.7h0M267.6 432.2h0M266.5 396.4h0M263.0 407.4h0M254.5 436.0h0M253.0 438.9h0M240.0 410.3h0M266.9 396.2h0M239.2 412.3h0M252.2 425.8h0M243.7 425.4h0M270.8 403.9h0M272.5 441.2h0M265.6 438.8h0M261.3 443.4h0M287.6 417.5h0M269.3 435.1h0M264.1 429.2h0M280.7 405.6h0M270.3 418.0h0M274.9 408.5h0M271.0 440.8h0M262.6 415.2h0M278.6 410.1h0M285.4 418.5h0M271.5 394.3h0M283.3 436.7h0" stroke="#9c8cc4" stroke-width="1.6" stroke-linecap="round" fill="none"/>
<path d="M254.5 358.1h0M265.7 354.3h0M242.8 348.1h0M252.3 373.5h0M246.7 357.5h0M262.0 364.4h0M254.9 376.0h0M242.2 343.1h0M258.0 353.2h0M257.6 376.6h0M247.1 370.4h0M254.7 349.9h0M265.8 358.6h0M264.6 363.9h0M261.7 360.6h0M262.2 375.8h0M260.2 369.8h0M261.1 365.7h0M246.4 363.2h0M246.9 352.5h0M256.9 381.4h0M264.3 354.3h0M248.2 371.0h0M261.1 350.4h0M246.1 371.4h0M261.4 373.9h0M260.1 352.2h0M256.8 372.9h0M242.8 342.4h0M254.1 344.8h0M245.2 341.8h0M255.9 363.3h0M265.5 358.2h0M249.2 347.6h0M241.1 350.7h0M263.6 359.1h0M254.6 365.5h0M259.2 370.3h0M241.7 354.2h0M253.0 353.4h0M255.1 373.1h0M255.2 362.2h0M254.0 352.0h0M254.5 353.7h0M243.6 350.7h0M258.1 348.4h0M251.7 365.1h0M265.2 372.0h0M251.9 366.5h0M241.0 348.3h0M247.9 371.3h0M262.2 378.1h0M258.3 349.3h0M261.0 381.7h0M257.0 351.0h0M245.6 366.3h0M265.8 354.9h0M253.7 374.1h0M242.9 345.8h0M256.2 381.9h0M253.6 377.9h0M256.0 350.6h0M253.6 372.5h0M245.8 348.0h0M268.1 361.7h0M249.7 360.0h0M246.4 349.1h0M244.8 363.5h0M260.0 348.8h0M252.1 343.2h0" stroke="#5b2c8f" stroke-width="1.6" stroke-linecap="round" fill="none"/>
<path d="M202.1 390.6h0M221.8 402.0h0M220.1 471.6h0M208.1 382.9h0M224.7 471.2h0M249.0 436.6h0M197.9 445.8h0M200.4 364.2h0M257.4 445.5h0M198.3 395.9h0M274.4 450.0h0M267.5 446.3h0M269.0 390.7h0M243.1 470.8h0M202.5 365.8h0M209.3 387.3h0M224.0 435.6h0M171.5 376.8h0M226.0 461.8h0M253.8 414.2h0M214.5 353.7h0M248.5 364.2h0M229.5 446.3h0M237.0 451.5h0M201.4 437.2h0M205.4 348.3h0M191.0 413.8h0M208.5 430.6h0M279.2 451.9h0M275.9 439.5h0M211.9 412.0h0M277.2 444.5h0M235.2 448.3h0M246.3 353.6h0M217.4 413.1h0M252.8 404.8h0M252.5 369.2h0M258.9 371.8h0M199.4 432.9h0M250.4 449.8h0M219.2 395.1h0M179.2 345.2h0M258.6 413.2h0M232.6 372.7h0M252.3 455.1h0M220.6 442.6h0M239.2 373.5h0M199.2 353.7h0M196.2 348.0h0M218.2 439.0h0M260.9 407.5h0M187.3 392.4h0M242.7 377.2h0M215.3 378.2h0M219.6 399.3h0M267.6 362.4h0M212.9 364.3h0M264.0 441.8h0M195.1 398.7h0M243.7 380.6h0M286.8 423.1h0M221.8 449.0h0M281.7 436.3h0M271.5 409.3h0M281.6 444.1h0M232.3 403.4h0M231.7 474.8h0M227.9 458.0h0M256.9 367.9h0M251.1 468.9h0M219.3 437.8h0M258.5 455.8h0M214.9 428.2h0M239.5 370.3h0M241.6 403.3h0M245.4 351.7h0M169.6 365.0h0M210.9 428.4h0M248.7 412.4h0M192.4 448.8h0M151.7 345.7h0M255.5 440.0h0M171.4 349.4h0M221.6 402.4h0M224.8 410.0h0M231.5 422.6h0M236.0 458.7h0M207.0 353.4h0M245.8 395.5h0M195.2 420.3h0M226.4 436.3h0M196.9 405.7h0M246.4 470.0h0M262.2 429.4h0M244.9 377.9h0M181.4 400.3h0M170.2 377.8h0M239.8 395.7h0M192.5 415.5h0M233.7 384.1h0M250.3 453.9h0M268.9 425.9h0M194.7 449.3h0M184.3 367.7h0M228.9 347.1h0M208.3 364.0h0M186.3 392.7h0M221.6 409.7h0M167.7 378.8h0M235.2 384.2h0M241.6 356.7h0M204.8 394.2h0M228.4 451.6h0M244.3 423.9h0M237.3 374.8h0M238.6 402.3h0M243.2 447.4h0M274.0 406.9h0M239.1 428.1h0M218.6 423.6h0M263.5 397.5h0M229.1 441.7h0M164.1 366.6h0M196.1 387.8h0M207.2 348.7h0M212.6 398.5h0M182.1 380.2h0M250.8 467.2h0M189.6 384.2h0M219.9 416.3h0M249.9 417.3h0M203.7 372.6h0M251.7 446.7h0M173.8 386.3h0M249.0 461.9h0M232.4 403.7h0M183.0 382.8h0M267.7 428.9h0M254.4 401.1h0M209.4 399.7h0M243.1 389.4h0M279.7 402.3h0M248.5 390.2h0M168.3 382.0h0M180.0 362.3h0M214.2 450.7h0M228.3 394.6h0M222.1 403.0h0M247.1 347.7h0M204.1 361.4h0M192.9 365.1h0M204.0 436.6h0M242.2 368.7h0M195.9 445.7h0M282.6 425.7h0M271.8 436.3h0M255.1 464.3h0M183.7 380.0h0M204.4 391.0h0M209.5 458.9h0M259.4 381.9h0M190.7 349.3h0M172.0 373.7h0M278.9 429.0h0M258.9 437.5h0M227.5 348.9h0M221.5 383.3h0M200.6 398.7h0M241.5 429.3h0M228.6 450.4h0M195.5 422.3h0M242.0 458.4h0M166.1 362.1h0M271.5 431.0h0M221.1 357.6h0M190.2 377.6h0M192.9 445.0h0M199.7 454.6h0M256.7 442.8h0M218.8 456.1h0M253.8 385.0h0M193.9 417.8h0M180.6 371.7h0M285.8 439.8h0M194.6 348.1h0M276.3 441.7h0M253.7 372.3h0M173.4 386.9h0M152.0 346.7h0M272.6 417.0h0M201.9 414.8h0M265.7 421.1h0M259.5 360.4h0M234.7 458.8h0M250.5 359.6h0M201.5 420.9h0M263.9 389.3h0M272.1 422.6h0M193.0 358.0h0M251.0 358.1h0M235.4 463.2h0M270.4 402.9h0M240.6 355.4h0M170.1 351.8h0M195.1 398.7h0M191.3 398.0h0M218.1 390.1h0M276.2 422.6h0M257.0 437.2h0M182.4 374.6h0M184.8 353.0h0M224.1 434.2h0M256.8 379.9h0M215.7 363.9h0M215.6 444.4h0M260.0 452.3h0M212.2 440.6h0M269.8 407.9h0M206.2 442.8h0M164.5 347.2h0M191.6 381.8h0M232.8 422.6h0M203.7 373.9h0M187.2 345.9h0M194.3 361.7h0M227.3 458.8h0M253.8 465.5h0M198.3 345.9h0M239.6 356.9h0M248.3 457.9h0M235.8 443.5h0M229.8 423.1h0M265.6 368.5h0M192.7 347.2h0M212.4 413.7h0M192.2 382.7h0M258.5 441.7h0M239.5 354.3h0M280.6 441.9h0M167.5 349.9h0M237.3 465.5h0M265.4 374.9h0M267.4 423.1h0M225.3 466.4h0M207.7 350.2h0M187.9 443.3h0M220.1 384.3h0M204.0 367.6h0M252.0 420.7h0M224.0 400.2h0M276.7 427.6h0M233.9 370.6h0M264.5 405.7h0M243.1 399.5h0M214.4 457.6h0M166.7 358.3h0M282.9 436.8h0M240.3 464.4h0M254.0 347.2h0M222.2 447.7h0" stroke="#e6e2f0" stroke-width="1.3" stroke-linecap="round" fill="none"/>
<path d="M261.8 357.1h0M230.9 453.6h0M190.3 366.4h0M184.3 391.9h0M245.0 461.2h0M216.0 382.9h0M277.9 433.5h0M215.3 440.3h0M252.1 413.0h0M187.9 363.3h0M191.7 421.6h0M271.1 406.0h0M194.5 367.9h0M171.0 346.0h0M243.0 370.7h0M233.5 450.5h0M208.0 363.3h0M231.2 455.0h0M215.9 453.3h0M213.1 364.7h0M239.1 468.0h0M283.1 418.3h0M206.6 437.2h0M243.1 388.1h0M285.1 430.4h0M157.9 351.0h0M268.2 435.5h0M207.3 450.2h0M215.8 461.0h0M161.2 349.0h0M179.8 367.7h0M193.6 421.9h0M282.1 405.3h0M188.2 382.7h0M242.5 353.7h0M182.3 367.9h0M255.2 405.5h0M252.5 410.8h0M196.9 358.2h0M195.9 356.9h0M264.3 388.7h0M227.9 459.3h0M252.4 439.8h0M260.9 404.4h0M252.5 449.5h0M189.5 384.4h0M262.0 449.0h0M247.1 446.2h0M254.9 450.4h0M227.4 431.5h0M194.0 415.1h0M254.5 388.8h0M266.5 397.1h0M192.8 421.0h0M202.8 367.2h0M183.3 404.8h0M209.4 362.4h0M175.5 367.8h0M243.2 456.0h0M192.9 376.9h0M208.8 387.1h0M269.3 395.5h0M233.3 445.5h0M172.5 381.5h0M246.9 370.5h0M219.3 429.2h0M275.2 440.1h0M234.9 453.1h0M261.7 408.8h0M220.1 470.2h0M231.6 359.8h0M206.9 403.2h0M266.5 390.6h0M191.9 423.0h0M275.1 439.7h0M174.1 386.1h0M240.1 387.5h0M256.5 419.9h0M219.8 402.2h0M229.8 452.7h0M226.3 383.2h0M190.8 412.1h0M225.7 445.4h0M184.6 396.8h0M184.9 373.4h0M189.1 407.2h0M248.7 411.2h0M267.4 384.4h0M228.8 355.6h0M193.8 345.1h0M186.5 405.5h0M261.0 396.1h0M243.6 379.0h0M228.3 375.7h0M221.5 358.3h0M251.5 361.4h0M267.8 390.3h0M240.2 454.0h0M233.7 468.7h0M253.1 385.0h0M205.5 391.7h0M222.0 349.0h0M271.2 436.3h0M270.5 396.2h0M227.9 405.2h0M273.9 420.8h0M223.5 381.2h0M219.8 400.1h0M167.1 345.0h0M242.3 366.5h0M209.9 456.9h0M219.2 461.2h0M226.7 418.6h0M263.6 437.5h0M228.2 473.5h0M225.5 462.6h0M242.3 377.1h0M284.9 441.2h0M204.0 426.4h0M242.5 441.5h0M229.7 374.8h0M208.8 408.5h0M183.0 373.5h0M243.5 420.8h0M176.5 367.3h0M204.4 438.1h0M229.0 443.0h0M241.1 398.6h0M220.9 347.2h0M257.0 378.9h0M207.0 455.5h0M232.9 464.7h0M234.6 473.3h0M229.2 366.1h0M280.5 438.1h0M219.8 368.2h0M284.2 438.8h0M201.5 419.5h0M248.8 380.7h0M230.4 428.6h0M280.0 433.3h0M227.3 472.3h0M232.9 469.6h0M203.6 441.8h0M285.2 426.3h0M187.3 353.1h0M169.2 375.6h0M152.3 345.7h0M188.1 354.6h0M211.4 349.5h0M192.3 351.4h0M232.0 408.1h0M252.5 426.6h0M253.5 398.8h0M189.6 442.3h0M244.3 413.1h0M224.7 363.8h0M231.3 461.3h0M264.7 368.8h0M217.3 430.9h0" stroke="#228b47" stroke-width="1.4" stroke-linecap="round" fill="none"/>
<path d="M286.5 431.6h0M283.2 434.2h0M282.3 420.4h0M283.1 428.9h0M280.3 437.8h0M275.1 426.8h0M280.3 424.7h0M289.1 440.0h0M270.2 442.1h0M280.7 436.7h0M273.6 442.4h0M275.8 451.6h0M285.7 426.4h0M279.6 421.4h0M280.8 441.7h0M274.3 451.2h0M274.4 440.8h0M282.9 420.7h0M290.5 427.2h0M279.4 448.0h0M283.8 422.6h0M288.6 431.8h0M277.2 448.3h0M277.1 448.3h0M281.7 429.9h0M274.9 434.7h0M281.0 434.9h0M284.8 431.7h0M269.9 449.6h0M286.1 430.2h0M282.8 429.4h0M279.3 433.4h0M289.7 424.8h0M275.9 446.7h0M271.4 444.9h0M282.8 427.6h0M272.6 436.9h0M286.1 438.8h0M271.9 448.7h0M276.0 439.0h0M286.3 433.3h0M281.5 434.4h0M276.0 432.9h0M282.9 419.4h0M284.7 435.8h0M279.2 443.0h0M275.5 421.1h0M274.9 424.2h0M271.1 438.7h0M277.8 446.5h0M282.0 445.8h0M276.9 441.0h0M276.9 416.9h0M276.3 417.6h0M280.7 437.4h0M272.9 451.8h0M281.9 444.2h0M272.4 436.5h0M271.2 449.7h0M280.7 423.7h0M279.9 438.1h0M274.6 445.7h0M270.1 448.6h0M274.0 420.5h0M285.2 430.2h0M284.4 435.1h0M273.0 438.8h0M278.0 420.5h0M281.9 437.7h0M277.7 431.1h0" stroke="#a3d49c" stroke-width="1.6" stroke-linecap="round" fill="none"/>
<path d="M277.1 449.2h0M253.7 455.7h0M189.6 447.9h0M234.4 459.9h0M233.2 467.6h0M244.2 466.3h0M239.2 470.0h0M260.2 458.2h0M229.1 463.6h0M231.1 477.3h0M194.3 447.3h0M258.0 457.8h0M240.9 470.9h0M240.6 471.6h0M239.0 459.5h0M198.5 452.0h0M227.2 459.9h0M223.6 469.1h0M212.7 456.2h0M255.4 465.9h0M208.1 450.9h0M194.6 454.9h0M274.3 453.9h0M225.8 472.2h0M216.3 462.7h0M219.3 452.3h0M228.1 464.4h0M205.2 451.6h0M225.4 469.3h0M207.6 466.0h0" stroke="#5b2c8f" stroke-width="1.5" stroke-linecap="round" fill="none"/>
<path d="M246.6 455.6h0M246.9 456.1h0M230.9 475.8h0M236.5 459.7h0M225.3 469.2h0M255.6 456.9h0M206.0 458.4h0M287.4 442.0h0M195.2 446.7h0M215.5 469.3h0M226.5 453.3h0M264.5 454.1h0" stroke="#228b47" stroke-width="1.6" stroke-linecap="round" fill="none"/>
<path d="M191.6 435.6h0M194.4 436.2h0M184.4 434.3h0M193.9 430.6h0M181.3 404.0h0M187.0 399.1h0M191.7 416.3h0M190.8 410.3h0M190.4 412.3h0M187.1 420.2h0M190.7 424.1h0M196.8 435.8h0M183.9 398.2h0M180.0 417.1h0M180.9 395.3h0M181.0 422.4h0M179.6 399.0h0M195.5 446.8h0M193.8 429.9h0M183.9 414.2h0M191.8 405.5h0M188.9 405.1h0M182.8 400.0h0M187.3 399.2h0M188.4 398.2h0M190.2 436.4h0M177.0 396.3h0M187.1 421.8h0M194.9 422.5h0M192.5 433.4h0M192.0 447.4h0M179.2 412.6h0M183.3 402.3h0M183.9 423.1h0M188.3 405.5h0M183.7 412.3h0M193.7 439.6h0M177.4 394.3h0M187.3 405.5h0M193.9 440.9h0M181.9 423.7h0M188.1 402.9h0M193.9 421.5h0M192.4 434.4h0M183.8 435.0h0M193.7 421.8h0M179.5 396.3h0M188.3 430.2h0M183.3 404.3h0M184.5 431.9h0M190.6 409.7h0M184.8 430.2h0M187.3 411.1h0M182.5 428.2h0M194.7 431.6h0M188.3 404.9h0M189.0 419.6h0M187.8 400.4h0M192.6 418.2h0M182.8 419.8h0M185.9 441.6h0M186.1 404.2h0M184.0 437.4h0M197.0 439.6h0M192.4 431.8h0M190.3 437.2h0M188.6 437.1h0M179.1 392.8h0M192.7 412.5h0M179.7 404.1h0M196.2 430.0h0M184.2 432.7h0M187.4 404.7h0M188.2 399.7h0M196.3 449.1h0M188.4 400.3h0M191.8 436.1h0M187.7 424.3h0M177.4 391.3h0M190.9 445.9h0M193.1 411.6h0M181.7 415.4h0M186.9 442.9h0M183.3 426.0h0M192.0 445.8h0M187.2 415.5h0M186.3 396.9h0M191.8 413.1h0M192.5 437.4h0M195.1 436.7h0M191.3 403.2h0M179.2 410.4h0M191.5 427.4h0M180.6 406.6h0M185.3 411.5h0M186.9 404.4h0M191.3 422.4h0M190.9 401.3h0M198.6 445.7h0M187.1 437.4h0M190.1 417.7h0M189.3 444.5h0M187.1 444.5h0M186.0 406.0h0M198.1 441.8h0M182.9 400.9h0M188.7 435.5h0M194.4 446.7h0M179.9 412.2h0M183.1 420.7h0" stroke="#228b47" stroke-width="1.6" stroke-linecap="round" fill="none"/>
<path d="M234.0 152.3 L236.1 137.9 L242.0 129.5 L253.8 126.1 L267.4 126.9 L275.0 130.3 L283.5 138.8 L296.2 144.7 L304.6 148.9 L317.3 154.9 L325.8 164.2 L317.3 170.1 L304.6 170.9 L296.2 172.6 L283.5 177.7 L270.8 184.5 L261.5 189.5 L251.3 187.9 L246.2 182.8 L241.2 170.9 L234.8 160.8Z" fill="#ae5a28"/>
<path d="M287.3 161.6h0M291.9 168.5h0M291.6 150.3h0M307.2 163.4h0M303.0 149.4h0M283.4 176.3h0M310.4 152.1h0M289.3 146.6h0M318.6 157.7h0M315.5 155.8h0M296.0 171.9h0M305.1 168.2h0M300.7 151.1h0M303.7 160.7h0M286.3 149.2h0M305.7 170.6h0M272.5 136.2h0M322.3 164.3h0M316.7 158.7h0M320.5 164.3h0M315.8 165.0h0M303.3 152.8h0M313.3 153.6h0M319.2 165.3h0M319.2 158.0h0M317.0 165.7h0M317.0 160.6h0M318.2 158.1h0M304.2 151.3h0M307.8 155.4h0M317.2 168.2h0M316.9 163.9h0M304.6 157.2h0M284.2 150.9h0M288.8 147.7h0M321.6 166.9h0M294.8 160.7h0M294.0 144.7h0M289.9 161.4h0M322.8 164.1h0M315.7 167.8h0M297.3 166.3h0M308.9 162.4h0M316.7 159.5h0M298.6 163.8h0M289.2 154.2h0M271.2 159.5h0M310.7 157.6h0M314.2 166.0h0M290.7 167.0h0M295.7 150.1h0M297.6 156.1h0M296.3 170.5h0M308.0 152.2h0M298.5 164.7h0M283.9 171.2h0M316.4 166.2h0M307.1 158.2h0M308.2 154.7h0M315.1 169.5h0M302.0 166.0h0M287.7 156.6h0M295.5 150.5h0M300.5 161.9h0M315.7 165.6h0M310.8 168.7h0M324.1 162.7h0M293.3 154.0h0M299.9 153.9h0M319.2 167.3h0M273.9 168.1h0M297.5 159.4h0M319.1 158.6h0M297.6 168.1h0M311.7 163.2h0M318.6 165.6h0M317.3 160.6h0M306.5 163.5h0M288.4 159.2h0M300.2 159.5h0M322.0 163.4h0M308.8 163.0h0M318.0 156.6h0M307.1 164.2h0M275.8 172.8h0M320.9 163.4h0M306.1 165.7h0M314.1 157.4h0M293.2 154.8h0M322.3 162.8h0M322.6 163.5h0M276.1 174.4h0M305.1 169.2h0M305.9 152.5h0M308.1 162.2h0M310.0 152.1h0M299.0 148.5h0M322.4 161.7h0M284.0 149.6h0M285.9 159.3h0M283.5 175.6h0M302.8 170.2h0M293.9 150.2h0M310.2 166.7h0M316.0 169.6h0M284.5 164.0h0M315.5 162.4h0M293.0 154.2h0M271.8 162.2h0M306.9 162.2h0M314.7 155.4h0M316.3 158.9h0M310.4 169.6h0M295.8 148.7h0M306.9 161.2h0M310.6 156.0h0M312.2 158.2h0M295.3 151.0h0M309.5 158.3h0M293.0 149.4h0M308.3 159.7h0M321.0 162.8h0M284.4 175.0h0M316.1 166.8h0M319.5 160.9h0M313.6 168.9h0M321.1 162.8h0M323.8 162.3h0M305.0 165.3h0M317.1 160.9h0M309.4 156.3h0M314.3 159.8h0M286.0 159.0h0M314.9 154.0h0M295.1 166.0h0M308.1 153.9h0M295.8 163.7h0M286.8 175.1h0M312.3 168.6h0M284.5 144.6h0M309.4 157.5h0M312.1 154.9h0M299.0 146.2h0M286.9 161.5h0M304.8 163.3h0M306.8 167.7h0M317.6 161.5h0M284.8 152.9h0M297.9 148.5h0M305.2 163.0h0M285.9 163.0h0M294.5 161.1h0M294.3 164.7h0M301.5 168.2h0M277.2 167.1h0M306.4 167.6h0M308.6 151.1h0M306.3 156.1h0M313.3 162.0h0M319.7 157.9h0M300.9 155.0h0M297.5 154.5h0M295.5 156.7h0M305.9 164.2h0M318.6 166.7h0M296.5 144.9h0M293.0 153.9h0M311.8 153.7h0M299.7 146.9h0M307.8 158.1h0M306.1 151.4h0M302.3 160.7h0M292.6 153.7h0M280.7 147.3h0M289.7 157.6h0M286.9 142.1h0M305.9 156.6h0M305.4 152.0h0M304.6 152.5h0M308.5 167.8h0M315.7 155.2h0M301.8 148.0h0M285.9 155.9h0M320.3 161.8h0M312.5 166.0h0M290.1 167.5h0M306.2 159.5h0M292.2 144.9h0M315.4 159.0h0M315.7 156.9h0M299.7 150.5h0M304.9 162.2h0M287.9 156.9h0M305.3 163.7h0M322.0 161.4h0M303.4 160.9h0M304.5 169.9h0M295.0 163.7h0M285.2 150.3h0M274.9 161.7h0M305.5 165.4h0M281.7 166.2h0M272.3 178.9h0M303.3 158.5h0M318.2 168.7h0M288.1 149.5h0M319.9 160.6h0M286.4 142.0h0M295.5 151.5h0M316.5 157.9h0M308.6 156.7h0M304.7 156.5h0M308.3 161.3h0M301.9 165.0h0M309.8 159.3h0M289.6 146.0h0M292.3 145.4h0M303.9 160.6h0M304.1 166.7h0M285.4 169.3h0M296.2 158.6h0M314.4 168.0h0M303.0 151.5h0M286.5 167.5h0M314.7 157.2h0M300.9 158.1h0M285.4 175.9h0M315.8 164.0h0M292.8 161.8h0M302.0 150.6h0M285.2 153.4h0M307.1 158.4h0M314.0 168.0h0M296.8 146.4h0M278.2 178.3h0M287.2 144.9h0M287.7 173.9h0M298.2 162.0h0M287.6 140.7h0M292.8 159.4h0M304.5 159.4h0M309.0 169.9h0M307.4 155.1h0M317.8 162.9h0M278.8 161.4h0M307.1 165.3h0M288.0 150.6h0M282.3 159.6h0M315.3 166.1h0M318.6 159.5h0M305.7 162.1h0M311.5 159.5h0M311.4 154.7h0M310.8 169.3h0M311.1 165.9h0M286.5 171.1h0M294.3 173.4h0M319.4 161.4h0M313.9 169.4h0M284.7 140.9h0M301.6 158.1h0M308.4 160.5h0M283.6 154.6h0M294.6 148.4h0M286.4 156.8h0M297.5 159.6h0M313.2 156.7h0M311.7 168.5h0M320.1 167.7h0M319.0 162.4h0M315.3 160.5h0M316.5 156.9h0M290.1 149.8h0M311.7 160.3h0M287.6 152.2h0M297.5 146.4h0M281.8 140.8h0M304.3 151.3h0M305.0 155.7h0M320.6 161.2h0M318.6 159.4h0M283.5 165.1h0M306.2 153.1h0M308.6 166.6h0M316.4 157.9h0M293.1 165.3h0M307.4 151.1h0M312.9 165.3h0M289.0 173.4h0M302.8 158.4h0M320.2 162.6h0M300.5 161.7h0M317.6 158.4h0M307.4 167.5h0M303.8 155.3h0M321.5 160.5h0M289.5 144.0h0M310.1 158.0h0M291.5 169.2h0M301.6 158.9h0M314.2 164.1h0M274.6 152.3h0M294.3 170.4h0M277.5 138.7h0M308.0 166.0h0M301.7 148.5h0M316.9 167.5h0M297.1 159.4h0M309.9 158.0h0M311.5 158.4h0M278.4 152.9h0M317.9 163.1h0M304.4 161.0h0M276.7 153.1h0M308.8 164.7h0M318.8 157.2h0M306.3 166.1h0M304.4 162.4h0M287.5 149.8h0M312.4 163.0h0M307.1 159.6h0M300.7 171.0h0M308.9 166.2h0M319.9 161.7h0M303.3 164.3h0M298.7 165.7h0M311.6 165.8h0M301.4 170.1h0M293.3 149.6h0M302.4 149.4h0M307.5 151.8h0M281.9 168.0h0M300.2 160.7h0M320.7 162.0h0M323.5 164.1h0M293.3 151.4h0M314.7 157.7h0M305.3 156.5h0M306.5 159.1h0M308.6 150.8h0M313.5 159.6h0M292.9 143.7h0M279.5 136.1h0M302.1 161.3h0M321.4 166.6h0M276.0 161.8h0M298.3 157.9h0M323.6 163.1h0M299.4 163.0h0M295.1 171.9h0M323.9 162.4h0M314.8 165.4h0M308.4 155.5h0M297.7 155.9h0M311.2 157.6h0M287.6 151.4h0M304.8 158.9h0M317.4 168.7h0M280.4 178.8h0M292.6 164.2h0M292.3 150.9h0M270.7 174.1h0M291.9 160.4h0M288.7 143.3h0M303.2 155.4h0M288.4 143.7h0M309.0 162.8h0M285.4 142.4h0M303.3 169.9h0M305.3 164.4h0M291.7 173.7h0M311.7 157.7h0M308.0 161.4h0M309.3 151.7h0M312.7 153.8h0M283.2 167.7h0M311.1 160.5h0M312.1 165.0h0M299.2 148.5h0M300.4 160.3h0M311.7 167.0h0M321.2 161.5h0M280.8 142.9h0M289.2 143.6h0M289.0 144.3h0M294.3 150.6h0M298.3 165.1h0M312.1 156.1h0M291.8 151.7h0M318.4 156.2h0M311.0 158.8h0M314.5 165.3h0M280.2 166.6h0M305.8 158.0h0M302.7 171.2h0M308.9 160.4h0M308.0 158.3h0M322.7 162.4h0M311.8 165.6h0M296.9 147.3h0M316.8 154.9h0M274.5 150.6h0M319.6 159.7h0M311.2 165.8h0M294.6 166.4h0M278.9 149.0h0M293.7 152.6h0M300.7 148.9h0M316.7 163.6h0M313.2 166.4h0M280.8 148.7h0M308.0 166.1h0M311.1 161.3h0M283.7 157.8h0M291.8 153.4h0M312.2 166.9h0M294.8 155.5h0M297.4 153.6h0M312.1 168.4h0M316.2 161.1h0M321.7 162.9h0M287.7 153.7h0M309.9 156.2h0M303.1 155.2h0M304.7 154.5h0M290.5 153.5h0M281.8 178.0h0M320.2 166.4h0M279.2 144.9h0M313.0 155.5h0M316.1 169.1h0M299.0 147.8h0M285.8 162.3h0M315.0 169.7h0M285.7 160.7h0M316.2 156.8h0M293.0 157.1h0M283.8 143.3h0M315.8 156.5h0M289.0 169.8h0M319.2 162.0h0M309.8 163.1h0M294.8 154.4h0M315.3 156.6h0M318.1 168.3h0M295.6 157.0h0M299.0 146.7h0M302.3 168.6h0M291.1 147.9h0M299.3 165.6h0M300.4 148.5h0M305.8 161.2h0M304.0 165.4h0M285.4 165.2h0M307.7 165.7h0M302.2 154.8h0M292.6 154.0h0M309.5 160.8h0M288.4 169.2h0M279.2 154.3h0M290.2 173.7h0M315.5 160.4h0M279.9 141.7h0M311.6 152.7h0M311.8 155.5h0M279.1 166.0h0M294.6 172.7h0M296.6 151.5h0M321.2 162.4h0M286.1 147.6h0M295.0 155.7h0M318.9 159.0h0M289.1 173.3h0M292.8 173.0h0M321.9 161.2h0M314.4 154.0h0M310.7 158.8h0M318.7 161.0h0M301.7 158.0h0M279.2 167.5h0" stroke="#f3a544" stroke-width="1.9" stroke-linecap="round" fill="none"/>
<path d="M312.0 168.3h0M318.7 165.4h0M310.3 164.0h0M316.0 168.3h0M317.0 156.8h0M307.0 151.5h0M311.6 165.3h0M317.5 162.7h0M314.3 157.6h0M315.4 167.9h0M312.9 166.8h0M306.9 165.7h0M305.7 159.7h0M322.3 162.9h0M317.4 157.6h0M315.0 164.5h0M309.1 157.4h0M299.5 157.6h0M312.8 155.8h0M314.4 163.9h0M304.5 168.0h0M306.6 166.6h0M309.9 152.8h0M317.2 168.3h0M315.3 165.6h0M318.0 164.6h0M314.7 165.4h0M320.5 166.5h0M309.8 160.1h0M299.3 166.0h0M314.2 161.6h0M308.7 160.2h0M311.4 167.6h0M313.1 164.8h0M307.0 150.1h0M315.0 167.3h0M307.7 152.8h0M317.5 158.8h0M313.9 167.9h0M313.9 158.2h0M323.3 161.6h0M308.0 170.6h0M305.0 168.0h0M306.4 164.8h0M317.4 169.1h0M313.2 169.9h0M317.9 157.8h0M299.7 153.8h0M306.0 161.6h0M308.1 158.0h0M314.4 160.2h0M317.6 164.2h0M301.6 152.5h0M307.8 153.6h0M313.9 161.6h0M306.7 166.2h0M319.5 160.7h0M314.5 168.4h0M309.9 157.5h0M317.8 157.7h0M310.0 162.0h0M306.6 155.5h0M311.7 159.2h0M311.4 161.8h0M307.3 155.6h0M312.8 165.9h0M300.9 168.0h0M303.1 169.0h0M308.7 157.1h0M298.8 147.1h0M314.9 170.2h0M317.3 155.4h0M310.8 156.2h0M312.4 165.9h0M317.4 165.7h0M320.4 158.8h0M302.6 155.0h0M313.9 156.2h0M301.4 169.1h0M313.1 162.3h0M305.6 160.2h0M315.2 161.8h0M313.5 161.8h0M312.2 158.3h0M305.8 158.6h0M314.7 167.1h0M320.7 167.5h0M317.8 155.8h0M321.4 164.2h0M306.0 160.7h0M298.3 154.4h0M320.0 158.1h0M318.7 156.5h0M309.6 162.8h0M304.6 155.4h0M309.2 161.6h0M318.7 158.8h0M317.0 169.1h0M307.6 158.1h0M302.9 153.4h0M311.9 169.3h0M313.6 153.8h0M305.0 151.7h0M313.8 163.6h0M315.2 156.9h0M310.2 154.6h0M311.2 165.9h0M322.8 166.2h0M310.7 160.0h0M313.4 158.2h0M313.5 158.2h0M314.0 167.8h0M318.6 160.5h0M297.8 163.4h0M320.0 158.5h0M316.8 160.8h0M320.6 158.6h0M321.4 165.9h0M320.6 164.7h0M297.9 165.1h0M317.2 166.4h0M318.8 161.6h0M320.7 165.1h0M309.5 155.3h0M310.4 154.8h0M294.1 149.9h0M322.9 164.8h0M323.7 164.9h0M314.8 165.0h0M314.4 164.9h0M309.0 165.1h0M317.5 156.5h0M305.7 167.4h0M313.0 162.4h0M318.3 166.4h0M315.9 170.0h0M295.9 151.9h0M314.8 156.3h0M308.8 157.3h0M314.1 161.7h0M314.8 154.7h0M315.8 161.8h0M300.0 154.5h0M296.6 157.6h0M314.0 155.5h0M312.9 165.7h0M316.1 165.4h0M305.3 155.5h0M320.0 167.0h0M318.9 165.4h0M307.1 169.6h0M322.0 163.5h0M321.6 164.7h0M317.7 159.5h0M320.9 164.5h0M311.6 167.0h0M306.0 162.3h0M311.7 154.2h0M296.1 147.5h0M312.3 162.2h0M321.1 159.2h0M318.5 156.2h0M302.0 162.9h0M318.5 164.2h0M319.8 158.6h0M309.6 153.5h0M319.0 162.2h0M310.8 157.6h0M314.3 162.5h0M315.1 168.2h0M311.4 160.6h0M321.7 165.2h0M309.2 167.2h0M308.4 152.1h0M307.2 160.6h0M320.3 159.9h0M307.1 166.9h0M312.3 165.2h0M309.1 164.5h0M307.0 169.3h0M313.0 165.9h0M323.0 162.3h0M324.3 163.8h0M318.3 156.5h0M310.7 159.7h0M318.6 168.0h0M316.7 167.9h0M316.0 156.4h0M317.3 161.8h0M318.4 161.5h0M315.3 158.7h0M310.1 156.6h0M313.4 154.5h0M315.8 160.5h0M321.5 164.3h0M314.1 159.1h0M320.9 164.8h0M308.2 165.7h0M323.8 162.9h0M317.9 168.8h0M315.4 162.6h0M301.6 155.9h0M315.5 154.3h0M309.7 161.1h0M301.5 161.7h0M318.7 161.3h0M321.7 165.2h0M314.4 155.1h0M307.2 158.6h0M300.3 151.9h0M310.2 157.1h0M311.4 167.4h0M312.2 158.7h0M310.5 166.6h0M308.3 162.2h0M313.7 158.0h0M298.3 148.3h0M302.3 160.1h0M307.6 151.9h0M301.4 149.6h0M315.1 157.0h0M313.3 170.3h0M317.6 169.4h0M308.0 157.9h0M311.0 159.1h0M300.7 157.9h0M314.8 153.9h0M315.4 167.7h0M319.4 158.6h0M309.9 161.6h0M295.0 151.7h0M306.8 153.6h0M310.3 167.4h0M297.6 156.3h0M318.3 156.3h0M300.3 166.9h0M308.2 166.3h0M305.6 168.7h0M307.5 153.4h0M320.9 159.5h0M314.6 162.7h0M306.2 162.5h0M322.5 162.8h0M301.7 148.2h0M306.3 163.6h0M314.8 162.4h0M321.0 164.1h0M310.9 166.5h0M312.6 154.7h0M315.0 165.0h0M311.9 160.4h0M307.4 151.8h0M307.5 166.6h0M306.4 153.9h0M310.4 164.2h0M308.1 164.5h0M297.0 169.6h0M313.4 155.2h0M308.1 153.5h0M312.1 160.0h0" stroke="#fbe5c8" stroke-width="1.9" stroke-linecap="round" fill="none"/>
<path d="M306.3 160.8h0M293.0 149.6h0M316.1 154.8h0M283.8 166.3h0M307.3 169.6h0M307.1 158.3h0M310.1 158.9h0M292.1 144.3h0M288.3 162.2h0M288.0 143.1h0M304.7 153.4h0M274.1 131.2h0M317.4 157.8h0M286.8 151.4h0M281.1 152.2h0M268.9 168.1h0M313.9 168.4h0M318.8 157.4h0M302.7 153.7h0M276.2 164.5h0M299.6 150.9h0M289.8 167.8h0M267.7 179.5h0M289.3 165.4h0M300.5 168.0h0M310.7 167.1h0M302.8 168.8h0M307.2 157.3h0M299.3 149.5h0M280.4 172.6h0M297.0 165.5h0M278.6 138.9h0M316.3 155.9h0M294.6 165.2h0M285.6 161.0h0M313.8 167.5h0M296.5 168.4h0M302.1 148.8h0M306.2 169.2h0M304.2 165.6h0" stroke="#ffffff" stroke-width="1.5" stroke-linecap="round" fill="none"/>
<path d="M241.8 155.6h0M243.7 153.3h0M246.6 147.9h0M244.2 143.4h0M257.3 138.6h0M247.2 150.5h0M250.5 148.5h0M248.7 154.8h0M237.6 151.6h0M239.8 138.7h0M242.6 150.8h0M251.9 151.6h0M243.4 149.3h0M254.0 136.4h0M244.3 149.5h0M239.1 139.2h0M257.9 132.8h0M253.6 144.9h0M248.5 137.1h0M254.2 146.0h0M254.1 137.5h0M254.4 136.9h0" stroke="#f9d70b" stroke-width="1.8" stroke-linecap="round" fill="none"/>
<path d="M265.7 180.6h0M265.1 173.6h0M260.2 171.5h0M258.5 177.2h0M263.2 184.4h0M250.9 171.5h0M258.7 182.0h0M252.2 174.3h0M250.7 167.2h0M259.3 180.0h0M249.3 178.7h0M262.5 174.5h0" stroke="#5b2c8f" stroke-width="1.8" stroke-linecap="round" fill="none"/>
<path d="M250.3 174.1h0M255.2 174.4h0M258.5 185.1h0M249.1 176.2h0M265.0 184.2h0M253.6 174.1h0M248.8 175.2h0M251.2 174.4h0M256.7 181.0h0M255.2 174.7h0" stroke="#228b47" stroke-width="1.8" stroke-linecap="round" fill="none"/>
<path d="M276.2 161.1h0M284.1 147.6h0M284.1 171.1h0M276.3 158.9h0M291.6 144.3h0M286.1 156.8h0M279.7 137.9h0M272.9 140.6h0M285.7 156.5h0M290.3 146.0h0" stroke="#e8262a" stroke-width="1.8" stroke-linecap="round" fill="none"/>
<path d="M369.6 332.4 L390.0 318.0 L405.0 306.0 L416.9 308.8 L425.7 326.5 L424.7 342.3 L414.9 358.0 L397.2 364.0 L381.4 362.0 L373.5 350.0 L369.6 340.0Z" fill="#cddff0"/>
<path d="M367.6 277.3 L375.5 287.2 L373.5 297.0 L383.4 295.0 L397.2 302.9 L399.0 306.8 L409.0 310.8 L397.2 316.7 L389.3 324.6 L377.5 332.4 L369.6 333.4 L370.6 316.7 L372.5 299.0 L368.0 285.0Z" fill="#72b0da"/>
<path d="M386.7 303.9h0M371.7 283.7h0M386.4 313.3h0M382.3 316.6h0M370.9 328.1h0M384.9 310.5h0M379.2 303.2h0M377.0 310.8h0M390.5 302.2h0M385.0 297.8h0M372.0 293.9h0M392.6 314.3h0M385.3 297.6h0M391.8 304.2h0" stroke="#ffffff" stroke-width="1.6" stroke-linecap="round" fill="none"/>
<path d="M389.9 309.9h0M381.1 305.6h0M387.9 322.7h0M376.0 329.0h0M397.4 311.2h0M376.4 298.4h0" stroke="#e8262a" stroke-width="1.8" stroke-linecap="round" fill="none"/>
<path d="M366 275 L371 277.5 L372 282 L366.5 281Z" fill="#e8262a"/>
</g>
<circle cx="471.8" cy="144.8" r="9" fill="#cddff0"/>
<text x="489.2" y="152.1" font-size="20.6" fill="#1a1a1a" textLength="68.9" lengthAdjust="spacingAndGlyphs">B naive</text>
<circle cx="471.8" cy="170.0" r="9" fill="#72b0da"/>
<text x="489.2" y="177.3" font-size="20.6" fill="#1a1a1a" textLength="111.9" lengthAdjust="spacingAndGlyphs">B non-naive</text>
<circle cx="471.8" cy="195.2" r="9" fill="#e6e2f0"/>
<text x="489.2" y="202.5" font-size="20.6" fill="#1a1a1a" textLength="105.2" lengthAdjust="spacingAndGlyphs">CD4<tspan dy="-7" font-size="13">+</tspan><tspan dy="7"> naive</tspan></text>
<circle cx="471.8" cy="220.4" r="9" fill="#5b2c8f"/>
<text x="489.2" y="227.7" font-size="20.6" fill="#1a1a1a" textLength="148.2" lengthAdjust="spacingAndGlyphs">CD4<tspan dy="-7" font-size="13">+</tspan><tspan dy="7"> non-naive</tspan></text>
<circle cx="471.8" cy="245.6" r="9" fill="#8080bd"/>
<text x="489.2" y="252.9" font-size="20.6" fill="#1a1a1a" textLength="87.6" lengthAdjust="spacingAndGlyphs">CD4<tspan dy="-7" font-size="13">+</tspan><tspan dy="7"> T</tspan><tspan dy="6" font-size="14">reg</tspan></text>
<circle cx="471.8" cy="270.8" r="9" fill="#a3d49c"/>
<text x="489.2" y="278.1" font-size="20.6" fill="#1a1a1a" textLength="105.2" lengthAdjust="spacingAndGlyphs">CD8<tspan dy="-7" font-size="13">+</tspan><tspan dy="7"> naive</tspan></text>
<circle cx="471.8" cy="296.0" r="9" fill="#228b47"/>
<text x="489.2" y="303.3" font-size="20.6" fill="#1a1a1a" textLength="148.2" lengthAdjust="spacingAndGlyphs">CD8<tspan dy="-7" font-size="13">+</tspan><tspan dy="7"> non-naive</tspan></text>
<circle cx="471.8" cy="321.2" r="9" fill="#f58a41"/>
<text x="489.2" y="328.5" font-size="20.6" fill="#1a1a1a" textLength="29.5" lengthAdjust="spacingAndGlyphs">NK</text>
<circle cx="471.8" cy="346.4" r="9" fill="#ee68a4"/>
<text x="489.2" y="353.7" font-size="20.6" fill="#1a1a1a" textLength="75.5" lengthAdjust="spacingAndGlyphs">Innate T</text>
<circle cx="471.8" cy="371.6" r="9" fill="#de3497"/>
<text x="489.2" y="378.9" font-size="20.6" fill="#1a1a1a" textLength="42.2" lengthAdjust="spacingAndGlyphs">ILCs</text>
<circle cx="471.8" cy="396.8" r="9" fill="#ae5a28"/>
<text x="489.2" y="404.1" font-size="20.6" fill="#1a1a1a" textLength="192.7" lengthAdjust="spacingAndGlyphs">Classical monocytes</text>
<circle cx="471.8" cy="422.0" r="9" fill="#fbe5c8"/>
<text x="489.2" y="429.3" font-size="20.6" fill="#1a1a1a" textLength="235.4" lengthAdjust="spacingAndGlyphs">Non-classical monocytes</text>
<circle cx="471.8" cy="447.2" r="9" fill="#f3a544"/>
<text x="489.2" y="454.5" font-size="20.6" fill="#1a1a1a" textLength="226.3" lengthAdjust="spacingAndGlyphs">Intermediate monocytes</text>
<circle cx="471.8" cy="472.4" r="9" fill="#e8262a"/>
<text x="489.2" y="479.7" font-size="20.6" fill="#1a1a1a" textLength="132.4" lengthAdjust="spacingAndGlyphs">Dendritic cells</text>
<circle cx="471.8" cy="497.6" r="9" fill="#f9d70b"/>
<text x="489.2" y="504.9" font-size="20.6" fill="#1a1a1a" textLength="71.9" lengthAdjust="spacingAndGlyphs">MDSCs</text>
<line x1="821.5" y1="243.2" x2="828.0" y2="243.2" stroke="#555" stroke-width="2"/>
<text x="814.5" y="250.2" font-size="19.5" text-anchor="end" fill="#1a1a1a">0</text>
<line x1="821.5" y1="173.1" x2="828.0" y2="173.1" stroke="#555" stroke-width="2"/>
<text x="814.5" y="180.1" font-size="19.5" text-anchor="end" fill="#1a1a1a">1</text>
<line x1="821.5" y1="103.1" x2="828.0" y2="103.1" stroke="#555" stroke-width="2"/>
<text x="814.5" y="110.1" font-size="19.5" text-anchor="end" fill="#1a1a1a">2</text>
<line x1="862.4" y1="243.2" x2="862.4" y2="249.2" stroke="#555" stroke-width="2"/>
<text transform="translate(870.9,269.2) rotate(-45)" font-size="19.5" text-anchor="end" fill="#1a1a1a">C1D1</text>
<line x1="920.8" y1="243.2" x2="920.8" y2="249.2" stroke="#555" stroke-width="2"/>
<text transform="translate(929.3,269.2) rotate(-45)" font-size="19.5" text-anchor="end" fill="#1a1a1a">C1D15</text>
<line x1="979.0" y1="243.2" x2="979.0" y2="249.2" stroke="#555" stroke-width="2"/>
<text transform="translate(987.5,269.2) rotate(-45)" font-size="19.5" text-anchor="end" fill="#1a1a1a">C2D1</text>
<line x1="1037.3" y1="243.2" x2="1037.3" y2="249.2" stroke="#555" stroke-width="2"/>
<text transform="translate(1045.8,269.2) rotate(-45)" font-size="19.5" text-anchor="end" fill="#1a1a1a">C4D1</text>
<path d="M862.4 229.2 L920.8 64.6 L979.0 237.6 L1037.3 239.7" fill="none" stroke="#c8c8c8" stroke-width="1"/>
<path d="M862.4 236.2 L920.8 143.7 L979.0 105.2 L1037.3 232.7" fill="none" stroke="#c8c8c8" stroke-width="1"/>
<path d="M862.4 232.7 L920.8 168.2 L979.0 229.2 L1037.3 234.8" fill="none" stroke="#c8c8c8" stroke-width="1"/>
<path d="M862.4 239.7 L920.8 190.7 L979.0 212.4 L1037.3 227.8" fill="none" stroke="#c8c8c8" stroke-width="1"/>
<path d="M862.4 223.6 L920.8 201.2 L979.0 225.7 L1037.3 200.5" fill="none" stroke="#c8c8c8" stroke-width="1"/>
<path d="M862.4 225.7 L920.8 204.7 L979.0 218.7 L1037.3 230.6" fill="none" stroke="#c8c8c8" stroke-width="1"/>
<path d="M862.4 238.3 L920.8 208.2 L979.0 232.7 L1037.3 219.4" fill="none" stroke="#c8c8c8" stroke-width="1"/>
<path d="M862.4 234.8 L920.8 211.7 L979.0 236.2 L1037.3 237.6" fill="none" stroke="#c8c8c8" stroke-width="1"/>
<path d="M862.4 236.9 L920.8 215.2 L979.0 239.7 L1037.3 241.1" fill="none" stroke="#c8c8c8" stroke-width="1"/>
<path d="M862.4 241.8 L920.8 222.2 L979.0 241.1 L1037.3 239.7" fill="none" stroke="#c8c8c8" stroke-width="1"/>
<path d="M862.4 240.4 L920.8 225.7 L979.0 243.2 L1037.3 243.2" fill="none" stroke="#c8c8c8" stroke-width="1"/>
<path d="M862.4 243.2 L920.8 229.2 L979.0 236.2 L1037.3 234.8" fill="none" stroke="#c8c8c8" stroke-width="1"/>
<path d="M862.4 239.7 L920.8 232.7 L979.0 229.2 L1037.3 239.7" fill="none" stroke="#c8c8c8" stroke-width="1"/>
<path d="M862.4 223.6 L920.8 236.2 L979.0 225.7 L1037.3 232.7" fill="none" stroke="#c8c8c8" stroke-width="1"/>
<path d="M862.4 229.2 L920.8 239.7 L979.0 237.6 L1037.3 241.1" fill="none" stroke="#c8c8c8" stroke-width="1"/>
<path d="M862.4 236.2 L920.8 241.8 L979.0 239.7 L1037.3 243.2" fill="none" stroke="#c8c8c8" stroke-width="1"/>
<line x1="862.4" y1="223.6" x2="862.4" y2="232.0" stroke="#8e8e8e" stroke-width="2.2"/>
<line x1="862.4" y1="240.4" x2="862.4" y2="243.2" stroke="#8e8e8e" stroke-width="2.2"/>
<rect x="849.4" y="232.0" width="26" height="8.4" fill="none" stroke="#8e8e8e" stroke-width="2"/>
<line x1="849.4" y1="236.9" x2="875.4" y2="236.9" stroke="#8e8e8e" stroke-width="2"/>
<circle cx="862.4" cy="243.2" r="4.1" fill="#8e8e8e"/>
<circle cx="862.4" cy="241.8" r="4.1" fill="#8e8e8e"/>
<circle cx="862.4" cy="240.4" r="4.1" fill="#8e8e8e"/>
<circle cx="862.4" cy="239.7" r="4.1" fill="#8e8e8e"/>
<circle cx="862.4" cy="238.3" r="4.1" fill="#8e8e8e"/>
<circle cx="862.4" cy="236.9" r="4.1" fill="#8e8e8e"/>
<circle cx="862.4" cy="234.8" r="4.1" fill="#8e8e8e"/>
<circle cx="862.4" cy="232.7" r="4.1" fill="#8e8e8e"/>
<circle cx="862.4" cy="229.2" r="4.1" fill="#8e8e8e"/>
<circle cx="862.4" cy="225.7" r="4.1" fill="#8e8e8e"/>
<circle cx="862.4" cy="223.6" r="4.1" fill="#8e8e8e"/>
<line x1="920.8" y1="168.2" x2="920.8" y2="198.4" stroke="#e8222b" stroke-width="2.2"/>
<line x1="920.8" y1="234.8" x2="920.8" y2="241.8" stroke="#e8222b" stroke-width="2.2"/>
<rect x="907.8" y="198.4" width="26" height="36.4" fill="none" stroke="#e8222b" stroke-width="2"/>
<line x1="907.8" y1="218.3" x2="933.8" y2="218.3" stroke="#e8222b" stroke-width="2"/>
<circle cx="920.8" cy="241.8" r="4.1" fill="#e8222b"/>
<circle cx="920.8" cy="239.7" r="4.1" fill="#e8222b"/>
<circle cx="920.8" cy="236.2" r="4.1" fill="#e8222b"/>
<circle cx="920.8" cy="232.7" r="4.1" fill="#e8222b"/>
<circle cx="920.8" cy="229.2" r="4.1" fill="#e8222b"/>
<circle cx="920.8" cy="225.7" r="4.1" fill="#e8222b"/>
<circle cx="920.8" cy="222.2" r="4.1" fill="#e8222b"/>
<circle cx="920.8" cy="215.2" r="4.1" fill="#e8222b"/>
<circle cx="920.8" cy="211.7" r="4.1" fill="#e8222b"/>
<circle cx="920.8" cy="208.2" r="4.1" fill="#e8222b"/>
<circle cx="920.8" cy="204.7" r="4.1" fill="#e8222b"/>
<circle cx="920.8" cy="201.2" r="4.1" fill="#e8222b"/>
<circle cx="920.8" cy="190.7" r="4.1" fill="#e8222b"/>
<circle cx="920.8" cy="168.2" r="4.1" fill="#e8222b"/>
<circle cx="920.8" cy="143.7" r="4.1" fill="#e8222b"/>
<circle cx="920.8" cy="64.6" r="4.1" fill="#e8222b"/>
<line x1="979.0" y1="212.4" x2="979.0" y2="222.9" stroke="#f4a534" stroke-width="2.2"/>
<line x1="979.0" y1="236.9" x2="979.0" y2="243.2" stroke="#f4a534" stroke-width="2.2"/>
<rect x="966.0" y="222.9" width="26" height="14.0" fill="none" stroke="#f4a534" stroke-width="2"/>
<line x1="966.0" y1="230.6" x2="992.0" y2="230.6" stroke="#f4a534" stroke-width="2"/>
<circle cx="979.0" cy="243.2" r="4.1" fill="#f4a534"/>
<circle cx="979.0" cy="241.1" r="4.1" fill="#f4a534"/>
<circle cx="979.0" cy="239.7" r="4.1" fill="#f4a534"/>
<circle cx="979.0" cy="237.6" r="4.1" fill="#f4a534"/>
<circle cx="979.0" cy="236.2" r="4.1" fill="#f4a534"/>
<circle cx="979.0" cy="232.7" r="4.1" fill="#f4a534"/>
<circle cx="979.0" cy="229.2" r="4.1" fill="#f4a534"/>
<circle cx="979.0" cy="225.7" r="4.1" fill="#f4a534"/>
<circle cx="979.0" cy="218.7" r="4.1" fill="#f4a534"/>
<circle cx="979.0" cy="212.4" r="4.1" fill="#f4a534"/>
<circle cx="979.0" cy="105.2" r="4.1" fill="#f4a534"/>
<line x1="1037.3" y1="219.4" x2="1037.3" y2="229.9" stroke="#2e7bc0" stroke-width="2.2"/>
<line x1="1037.3" y1="238.3" x2="1037.3" y2="243.2" stroke="#2e7bc0" stroke-width="2.2"/>
<rect x="1024.3" y="229.9" width="26" height="8.4" fill="none" stroke="#2e7bc0" stroke-width="2"/>
<line x1="1024.3" y1="234.1" x2="1050.3" y2="234.1" stroke="#2e7bc0" stroke-width="2"/>
<circle cx="1037.3" cy="243.2" r="4.1" fill="#2e7bc0"/>
<circle cx="1037.3" cy="241.1" r="4.1" fill="#2e7bc0"/>
<circle cx="1037.3" cy="239.7" r="4.1" fill="#2e7bc0"/>
<circle cx="1037.3" cy="237.6" r="4.1" fill="#2e7bc0"/>
<circle cx="1037.3" cy="234.8" r="4.1" fill="#2e7bc0"/>
<circle cx="1037.3" cy="232.7" r="4.1" fill="#2e7bc0"/>
<circle cx="1037.3" cy="230.6" r="4.1" fill="#2e7bc0"/>
<circle cx="1037.3" cy="227.8" r="4.1" fill="#2e7bc0"/>
<circle cx="1037.3" cy="219.4" r="4.1" fill="#2e7bc0"/>
<circle cx="1037.3" cy="200.5" r="4.1" fill="#2e7bc0"/>
<path d="M862.4 229.2 L920.8 64.6 L979.0 237.6 L1037.3 239.7" fill="none" stroke="#d0d0d0" stroke-width="0.8" opacity="0.6"/>
<path d="M862.4 236.2 L920.8 143.7 L979.0 105.2 L1037.3 232.7" fill="none" stroke="#d0d0d0" stroke-width="0.8" opacity="0.6"/>
<path d="M862.4 232.7 L920.8 168.2 L979.0 229.2 L1037.3 234.8" fill="none" stroke="#d0d0d0" stroke-width="0.8" opacity="0.6"/>
<path d="M862.4 239.7 L920.8 190.7 L979.0 212.4 L1037.3 227.8" fill="none" stroke="#d0d0d0" stroke-width="0.8" opacity="0.6"/>
<path d="M862.4 223.6 L920.8 201.2 L979.0 225.7 L1037.3 200.5" fill="none" stroke="#d0d0d0" stroke-width="0.8" opacity="0.6"/>
<path d="M862.4 225.7 L920.8 204.7 L979.0 218.7 L1037.3 230.6" fill="none" stroke="#d0d0d0" stroke-width="0.8" opacity="0.6"/>
<path d="M862.4 238.3 L920.8 208.2 L979.0 232.7 L1037.3 219.4" fill="none" stroke="#d0d0d0" stroke-width="0.8" opacity="0.6"/>
<path d="M862.4 234.8 L920.8 211.7 L979.0 236.2 L1037.3 237.6" fill="none" stroke="#d0d0d0" stroke-width="0.8" opacity="0.6"/>
<path d="M862.4 236.9 L920.8 215.2 L979.0 239.7 L1037.3 241.1" fill="none" stroke="#d0d0d0" stroke-width="0.8" opacity="0.6"/>
<path d="M862.4 241.8 L920.8 222.2 L979.0 241.1 L1037.3 239.7" fill="none" stroke="#d0d0d0" stroke-width="0.8" opacity="0.6"/>
<path d="M862.4 240.4 L920.8 225.7 L979.0 243.2 L1037.3 243.2" fill="none" stroke="#d0d0d0" stroke-width="0.8" opacity="0.6"/>
<path d="M862.4 243.2 L920.8 229.2 L979.0 236.2 L1037.3 234.8" fill="none" stroke="#d0d0d0" stroke-width="0.8" opacity="0.6"/>
<path d="M862.4 239.7 L920.8 232.7 L979.0 229.2 L1037.3 239.7" fill="none" stroke="#d0d0d0" stroke-width="0.8" opacity="0.6"/>
<path d="M862.4 223.6 L920.8 236.2 L979.0 225.7 L1037.3 232.7" fill="none" stroke="#d0d0d0" stroke-width="0.8" opacity="0.6"/>
<path d="M862.4 229.2 L920.8 239.7 L979.0 237.6 L1037.3 241.1" fill="none" stroke="#d0d0d0" stroke-width="0.8" opacity="0.6"/>
<path d="M862.4 236.2 L920.8 241.8 L979.0 239.7 L1037.3 243.2" fill="none" stroke="#d0d0d0" stroke-width="0.8" opacity="0.6"/>
<path d="M862.4 238.6 L920.8 218.3 L979.0 224.7 L1037.3 231.0" fill="none" stroke="#000" stroke-width="3"/>
<line x1="828.0" y1="47.5" x2="828.0" y2="244.39999999999998" stroke="#111" stroke-width="2.4"/>
<line x1="826.8" y1="243.2" x2="1072.4" y2="243.2" stroke="#111" stroke-width="2.4"/>
<text x="913.0" y="57.9" font-size="18.5" text-anchor="middle" fill="#1a1a1a">0.053</text>
<text x="979.5" y="58.2" font-size="18.5" text-anchor="middle" fill="#1a1a1a">0.0626</text>
<text x="1052.7" y="58.2" font-size="18.5" text-anchor="middle" fill="#1a1a1a">0.0626</text>
<text transform="translate(753.0,157.0) rotate(-90)" font-size="20.6" text-anchor="middle" fill="#1a1a1a" textLength="188.7" lengthAdjust="spacingAndGlyphs">Proliferating PBMCs</text>
<text transform="translate(779.0,157.0) rotate(-90)" font-size="20.6" text-anchor="middle" fill="#1a1a1a" textLength="180.3" lengthAdjust="spacingAndGlyphs">of total PBMCs (%)</text>
<line x1="1172.8" y1="241.6" x2="1179.3" y2="241.6" stroke="#555" stroke-width="2"/>
<text x="1165.8" y="248.6" font-size="19.5" text-anchor="end" fill="#1a1a1a">0</text>
<line x1="1172.8" y1="190.3" x2="1179.3" y2="190.3" stroke="#555" stroke-width="2"/>
<text x="1165.8" y="197.3" font-size="19.5" text-anchor="end" fill="#1a1a1a">3</text>
<line x1="1172.8" y1="139.0" x2="1179.3" y2="139.0" stroke="#555" stroke-width="2"/>
<text x="1165.8" y="146.0" font-size="19.5" text-anchor="end" fill="#1a1a1a">6</text>
<line x1="1172.8" y1="87.7" x2="1179.3" y2="87.7" stroke="#555" stroke-width="2"/>
<text x="1165.8" y="94.7" font-size="19.5" text-anchor="end" fill="#1a1a1a">9</text>
<line x1="1212.8" y1="241.6" x2="1212.8" y2="247.6" stroke="#555" stroke-width="2"/>
<text transform="translate(1221.3,267.6) rotate(-45)" font-size="19.5" text-anchor="end" fill="#1a1a1a">C1D1</text>
<line x1="1270.0" y1="241.6" x2="1270.0" y2="247.6" stroke="#555" stroke-width="2"/>
<text transform="translate(1278.5,267.6) rotate(-45)" font-size="19.5" text-anchor="end" fill="#1a1a1a">C1D15</text>
<line x1="1326.7" y1="241.6" x2="1326.7" y2="247.6" stroke="#555" stroke-width="2"/>
<text transform="translate(1335.2,267.6) rotate(-45)" font-size="19.5" text-anchor="end" fill="#1a1a1a">C2D1</text>
<line x1="1383.6" y1="241.6" x2="1383.6" y2="247.6" stroke="#555" stroke-width="2"/>
<text transform="translate(1392.1,267.6) rotate(-45)" font-size="19.5" text-anchor="end" fill="#1a1a1a">C4D1</text>
<path d="M1212.8 162.9 L1270.0 180.0 L1326.7 204.0 L1383.6 197.1" fill="none" stroke="#c8c8c8" stroke-width="1"/>
<path d="M1212.8 147.5 L1270.0 211.7 L1326.7 200.6 L1383.6 190.3" fill="none" stroke="#c8c8c8" stroke-width="1"/>
<path d="M1212.8 159.5 L1270.0 211.7 L1326.7 178.3 L1383.6 173.2" fill="none" stroke="#c8c8c8" stroke-width="1"/>
<path d="M1212.8 156.1 L1270.0 142.4 L1326.7 164.6 L1383.6 199.7" fill="none" stroke="#c8c8c8" stroke-width="1"/>
<path d="M1212.8 142.4 L1270.0 159.5 L1326.7 192.0 L1383.6 193.7" fill="none" stroke="#c8c8c8" stroke-width="1"/>
<path d="M1212.8 139.0 L1270.0 211.7 L1326.7 169.8 L1383.6 162.9" fill="none" stroke="#c8c8c8" stroke-width="1"/>
<path d="M1212.8 133.9 L1270.0 169.8 L1326.7 169.8 L1383.6 169.8" fill="none" stroke="#c8c8c8" stroke-width="1"/>
<path d="M1212.8 193.7 L1270.0 156.1 L1326.7 174.9 L1383.6 157.8" fill="none" stroke="#c8c8c8" stroke-width="1"/>
<path d="M1212.8 152.7 L1270.0 156.1 L1326.7 156.1 L1383.6 154.4" fill="none" stroke="#c8c8c8" stroke-width="1"/>
<path d="M1212.8 128.7 L1270.0 142.4 L1326.7 157.8 L1383.6 157.8" fill="none" stroke="#c8c8c8" stroke-width="1"/>
<path d="M1212.8 70.6 L1270.0 152.7 L1326.7 123.6 L1383.6 154.4" fill="none" stroke="#c8c8c8" stroke-width="1"/>
<path d="M1212.8 125.3 L1270.0 152.7 L1326.7 135.6 L1383.6 139.0" fill="none" stroke="#c8c8c8" stroke-width="1"/>
<path d="M1212.8 115.1 L1270.0 139.0 L1326.7 156.1 L1383.6 139.0" fill="none" stroke="#c8c8c8" stroke-width="1"/>
<path d="M1212.8 121.9 L1270.0 139.0 L1326.7 147.5 L1383.6 145.8" fill="none" stroke="#c8c8c8" stroke-width="1"/>
<path d="M1212.8 80.9 L1270.0 147.5 L1326.7 139.0 L1383.6 157.8" fill="none" stroke="#c8c8c8" stroke-width="1"/>
<path d="M1212.8 84.3 L1270.0 142.4 L1326.7 123.6 L1383.6 133.9" fill="none" stroke="#c8c8c8" stroke-width="1"/>
<path d="M1212.8 58.6 L1270.0 135.6 L1326.7 123.6 L1383.6 133.9" fill="none" stroke="#c8c8c8" stroke-width="1"/>
<line x1="1212.8" y1="58.6" x2="1212.8" y2="108.2" stroke="#8e8e8e" stroke-width="2.2"/>
<line x1="1212.8" y1="152.7" x2="1212.8" y2="195.1" stroke="#8e8e8e" stroke-width="2.2"/>
<rect x="1199.8" y="108.2" width="26" height="44.5" fill="none" stroke="#8e8e8e" stroke-width="2"/>
<line x1="1199.8" y1="136.9" x2="1225.8" y2="136.9" stroke="#8e8e8e" stroke-width="2"/>
<circle cx="1212.8" cy="193.7" r="4.1" fill="#8e8e8e"/>
<circle cx="1212.8" cy="162.9" r="4.1" fill="#8e8e8e"/>
<circle cx="1212.8" cy="159.5" r="4.1" fill="#8e8e8e"/>
<circle cx="1212.8" cy="156.1" r="4.1" fill="#8e8e8e"/>
<circle cx="1212.8" cy="152.7" r="4.1" fill="#8e8e8e"/>
<circle cx="1212.8" cy="147.5" r="4.1" fill="#8e8e8e"/>
<circle cx="1212.8" cy="142.4" r="4.1" fill="#8e8e8e"/>
<circle cx="1212.8" cy="139.0" r="4.1" fill="#8e8e8e"/>
<circle cx="1212.8" cy="133.9" r="4.1" fill="#8e8e8e"/>
<circle cx="1212.8" cy="128.7" r="4.1" fill="#8e8e8e"/>
<circle cx="1212.8" cy="125.3" r="4.1" fill="#8e8e8e"/>
<circle cx="1212.8" cy="121.9" r="4.1" fill="#8e8e8e"/>
<circle cx="1212.8" cy="115.1" r="4.1" fill="#8e8e8e"/>
<circle cx="1212.8" cy="84.3" r="4.1" fill="#8e8e8e"/>
<circle cx="1212.8" cy="80.9" r="4.1" fill="#8e8e8e"/>
<circle cx="1212.8" cy="70.6" r="4.1" fill="#8e8e8e"/>
<circle cx="1212.8" cy="58.6" r="4.1" fill="#8e8e8e"/>
<line x1="1270.0" y1="135.6" x2="1270.0" y2="144.1" stroke="#e8222b" stroke-width="2.2"/>
<line x1="1270.0" y1="156.1" x2="1270.0" y2="180.0" stroke="#e8222b" stroke-width="2.2"/>
<rect x="1257.0" y="144.1" width="26" height="12.0" fill="none" stroke="#e8222b" stroke-width="2"/>
<line x1="1257.0" y1="150.1" x2="1283.0" y2="150.1" stroke="#e8222b" stroke-width="2"/>
<circle cx="1270.0" cy="211.7" r="4.1" fill="#e8222b"/>
<circle cx="1270.0" cy="180.0" r="4.1" fill="#e8222b"/>
<circle cx="1270.0" cy="169.8" r="4.1" fill="#e8222b"/>
<circle cx="1270.0" cy="159.5" r="4.1" fill="#e8222b"/>
<circle cx="1270.0" cy="156.1" r="4.1" fill="#e8222b"/>
<circle cx="1270.0" cy="152.7" r="4.1" fill="#e8222b"/>
<circle cx="1270.0" cy="147.5" r="4.1" fill="#e8222b"/>
<circle cx="1270.0" cy="142.4" r="4.1" fill="#e8222b"/>
<circle cx="1270.0" cy="139.0" r="4.1" fill="#e8222b"/>
<circle cx="1270.0" cy="135.6" r="4.1" fill="#e8222b"/>
<line x1="1326.7" y1="123.1" x2="1326.7" y2="153.9" stroke="#f4a534" stroke-width="2.2"/>
<line x1="1326.7" y1="179.4" x2="1326.7" y2="203.5" stroke="#f4a534" stroke-width="2.2"/>
<rect x="1313.7" y="153.9" width="26" height="25.5" fill="none" stroke="#f4a534" stroke-width="2"/>
<line x1="1313.7" y1="166.0" x2="1339.7" y2="166.0" stroke="#f4a534" stroke-width="2"/>
<circle cx="1326.7" cy="204.0" r="4.1" fill="#f4a534"/>
<circle cx="1326.7" cy="200.6" r="4.1" fill="#f4a534"/>
<circle cx="1326.7" cy="192.0" r="4.1" fill="#f4a534"/>
<circle cx="1326.7" cy="178.3" r="4.1" fill="#f4a534"/>
<circle cx="1326.7" cy="174.9" r="4.1" fill="#f4a534"/>
<circle cx="1326.7" cy="169.8" r="4.1" fill="#f4a534"/>
<circle cx="1326.7" cy="164.6" r="4.1" fill="#f4a534"/>
<circle cx="1326.7" cy="157.8" r="4.1" fill="#f4a534"/>
<circle cx="1326.7" cy="156.1" r="4.1" fill="#f4a534"/>
<circle cx="1326.7" cy="147.5" r="4.1" fill="#f4a534"/>
<circle cx="1326.7" cy="139.0" r="4.1" fill="#f4a534"/>
<circle cx="1326.7" cy="135.6" r="4.1" fill="#f4a534"/>
<circle cx="1326.7" cy="123.6" r="4.1" fill="#f4a534"/>
<line x1="1383.6" y1="132.7" x2="1383.6" y2="157.5" stroke="#2e7bc0" stroke-width="2.2"/>
<line x1="1383.6" y1="188.9" x2="1383.6" y2="199.9" stroke="#2e7bc0" stroke-width="2.2"/>
<rect x="1370.6" y="157.5" width="26" height="31.5" fill="none" stroke="#2e7bc0" stroke-width="2"/>
<line x1="1370.6" y1="170.8" x2="1396.6" y2="170.8" stroke="#2e7bc0" stroke-width="2"/>
<circle cx="1383.6" cy="199.7" r="4.1" fill="#2e7bc0"/>
<circle cx="1383.6" cy="197.1" r="4.1" fill="#2e7bc0"/>
<circle cx="1383.6" cy="193.7" r="4.1" fill="#2e7bc0"/>
<circle cx="1383.6" cy="190.3" r="4.1" fill="#2e7bc0"/>
<circle cx="1383.6" cy="173.2" r="4.1" fill="#2e7bc0"/>
<circle cx="1383.6" cy="169.8" r="4.1" fill="#2e7bc0"/>
<circle cx="1383.6" cy="162.9" r="4.1" fill="#2e7bc0"/>
<circle cx="1383.6" cy="157.8" r="4.1" fill="#2e7bc0"/>
<circle cx="1383.6" cy="154.4" r="4.1" fill="#2e7bc0"/>
<circle cx="1383.6" cy="145.8" r="4.1" fill="#2e7bc0"/>
<circle cx="1383.6" cy="139.0" r="4.1" fill="#2e7bc0"/>
<circle cx="1383.6" cy="133.9" r="4.1" fill="#2e7bc0"/>
<path d="M1212.8 162.9 L1270.0 180.0 L1326.7 204.0 L1383.6 197.1" fill="none" stroke="#d0d0d0" stroke-width="0.8" opacity="0.6"/>
<path d="M1212.8 147.5 L1270.0 211.7 L1326.7 200.6 L1383.6 190.3" fill="none" stroke="#d0d0d0" stroke-width="0.8" opacity="0.6"/>
<path d="M1212.8 159.5 L1270.0 211.7 L1326.7 178.3 L1383.6 173.2" fill="none" stroke="#d0d0d0" stroke-width="0.8" opacity="0.6"/>
<path d="M1212.8 156.1 L1270.0 142.4 L1326.7 164.6 L1383.6 199.7" fill="none" stroke="#d0d0d0" stroke-width="0.8" opacity="0.6"/>
<path d="M1212.8 142.4 L1270.0 159.5 L1326.7 192.0 L1383.6 193.7" fill="none" stroke="#d0d0d0" stroke-width="0.8" opacity="0.6"/>
<path d="M1212.8 139.0 L1270.0 211.7 L1326.7 169.8 L1383.6 162.9" fill="none" stroke="#d0d0d0" stroke-width="0.8" opacity="0.6"/>
<path d="M1212.8 133.9 L1270.0 169.8 L1326.7 169.8 L1383.6 169.8" fill="none" stroke="#d0d0d0" stroke-width="0.8" opacity="0.6"/>
<path d="M1212.8 193.7 L1270.0 156.1 L1326.7 174.9 L1383.6 157.8" fill="none" stroke="#d0d0d0" stroke-width="0.8" opacity="0.6"/>
<path d="M1212.8 152.7 L1270.0 156.1 L1326.7 156.1 L1383.6 154.4" fill="none" stroke="#d0d0d0" stroke-width="0.8" opacity="0.6"/>
<path d="M1212.8 128.7 L1270.0 142.4 L1326.7 157.8 L1383.6 157.8" fill="none" stroke="#d0d0d0" stroke-width="0.8" opacity="0.6"/>
<path d="M1212.8 70.6 L1270.0 152.7 L1326.7 123.6 L1383.6 154.4" fill="none" stroke="#d0d0d0" stroke-width="0.8" opacity="0.6"/>
<path d="M1212.8 125.3 L1270.0 152.7 L1326.7 135.6 L1383.6 139.0" fill="none" stroke="#d0d0d0" stroke-width="0.8" opacity="0.6"/>
<path d="M1212.8 115.1 L1270.0 139.0 L1326.7 156.1 L1383.6 139.0" fill="none" stroke="#d0d0d0" stroke-width="0.8" opacity="0.6"/>
<path d="M1212.8 121.9 L1270.0 139.0 L1326.7 147.5 L1383.6 145.8" fill="none" stroke="#d0d0d0" stroke-width="0.8" opacity="0.6"/>
<path d="M1212.8 80.9 L1270.0 147.5 L1326.7 139.0 L1383.6 157.8" fill="none" stroke="#d0d0d0" stroke-width="0.8" opacity="0.6"/>
<path d="M1212.8 84.3 L1270.0 142.4 L1326.7 123.6 L1383.6 133.9" fill="none" stroke="#d0d0d0" stroke-width="0.8" opacity="0.6"/>
<path d="M1212.8 58.6 L1270.0 135.6 L1326.7 123.6 L1383.6 133.9" fill="none" stroke="#d0d0d0" stroke-width="0.8" opacity="0.6"/>
<path d="M1212.8 136.9 C1222.3 139.6 1251.0 148.3 1270.0 153.1 C1289.0 157.9 1307.8 162.6 1326.7 165.5 C1345.6 168.4 1374.1 169.9 1383.6 170.8" fill="none" stroke="#000" stroke-width="3"/>
<line x1="1179.3" y1="40.7" x2="1179.3" y2="242.79999999999998" stroke="#111" stroke-width="2.4"/>
<line x1="1178.1" y1="241.6" x2="1418" y2="241.6" stroke="#111" stroke-width="2.4"/>
<text x="1267.0" y="55.0" font-size="18.5" text-anchor="middle" fill="#1a1a1a">0.00456</text>
<text x="1322.3" y="80.4" font-size="18.5" text-anchor="middle" fill="#1a1a1a">0.00456</text>
<text x="1377.5" y="55.0" font-size="18.5" text-anchor="middle" fill="#1a1a1a">0.00456</text>
<text transform="translate(1112.5,155.0) rotate(-90)" font-size="20.6" text-anchor="middle" fill="#1a1a1a" textLength="159.5" lengthAdjust="spacingAndGlyphs">CD4<tspan dy="-8" font-size="14">+</tspan><tspan dy="8"> T</tspan><tspan dy="6" font-size="14">reg</tspan><tspan dy="-6"> cells of</tspan></text>
<text transform="translate(1140.0,155.0) rotate(-90)" font-size="20.6" text-anchor="middle" fill="#1a1a1a" textLength="199.5" lengthAdjust="spacingAndGlyphs">total CD4<tspan dy="-8" font-size="14">+</tspan><tspan dy="8"> T cells (%)</tspan></text>
<line x1="821.4" y1="563.9" x2="827.9" y2="563.9" stroke="#555" stroke-width="2"/>
<text x="814.4" y="570.9" font-size="19.5" text-anchor="end" fill="#1a1a1a">0</text>
<line x1="821.4" y1="518.5" x2="827.9" y2="518.5" stroke="#555" stroke-width="2"/>
<text x="814.4" y="525.5" font-size="19.5" text-anchor="end" fill="#1a1a1a">25</text>
<line x1="821.4" y1="473.1" x2="827.9" y2="473.1" stroke="#555" stroke-width="2"/>
<text x="814.4" y="480.1" font-size="19.5" text-anchor="end" fill="#1a1a1a">50</text>
<line x1="821.4" y1="427.7" x2="827.9" y2="427.7" stroke="#555" stroke-width="2"/>
<text x="814.4" y="434.7" font-size="19.5" text-anchor="end" fill="#1a1a1a">75</text>
<line x1="821.4" y1="382.3" x2="827.9" y2="382.3" stroke="#555" stroke-width="2"/>
<text x="814.4" y="389.3" font-size="19.5" text-anchor="end" fill="#1a1a1a">100</text>
<line x1="859.1" y1="563.9" x2="859.1" y2="569.9" stroke="#555" stroke-width="2"/>
<text transform="translate(867.6,589.9) rotate(-45)" font-size="19.5" text-anchor="end" fill="#1a1a1a">C1D1</text>
<line x1="913.0" y1="563.9" x2="913.0" y2="569.9" stroke="#555" stroke-width="2"/>
<text transform="translate(921.5,589.9) rotate(-45)" font-size="19.5" text-anchor="end" fill="#1a1a1a">C1D15</text>
<line x1="967.0" y1="563.9" x2="967.0" y2="569.9" stroke="#555" stroke-width="2"/>
<text transform="translate(975.5,589.9) rotate(-45)" font-size="19.5" text-anchor="end" fill="#1a1a1a">C2D1</text>
<line x1="1020.8" y1="563.9" x2="1020.8" y2="569.9" stroke="#555" stroke-width="2"/>
<text transform="translate(1029.3,589.9) rotate(-45)" font-size="19.5" text-anchor="end" fill="#1a1a1a">C4D1</text>
<path d="M859.1 436.8 L913.0 473.1 L967.0 459.5 L1020.8 476.2" fill="none" stroke="#c8c8c8" stroke-width="1"/>
<path d="M859.1 421.5 L913.0 457.8 L967.0 459.5 L1020.8 440.6" fill="none" stroke="#c8c8c8" stroke-width="1"/>
<path d="M859.1 429.2 L913.0 440.6 L967.0 454.9 L1020.8 423.2" fill="none" stroke="#c8c8c8" stroke-width="1"/>
<path d="M859.1 421.5 L913.0 454.2 L967.0 411.7 L1020.8 415.5" fill="none" stroke="#c8c8c8" stroke-width="1"/>
<path d="M859.1 417.0 L913.0 415.5 L967.0 415.5 L1020.8 415.5" fill="none" stroke="#c8c8c8" stroke-width="1"/>
<path d="M859.1 407.2 L913.0 392.7 L967.0 401.7 L1020.8 447.3" fill="none" stroke="#c8c8c8" stroke-width="1"/>
<path d="M859.1 401.2 L913.0 411.7 L967.0 424.6 L1020.8 393.6" fill="none" stroke="#c8c8c8" stroke-width="1"/>
<path d="M859.1 425.3 L913.0 406.5 L967.0 411.7 L1020.8 415.5" fill="none" stroke="#c8c8c8" stroke-width="1"/>
<path d="M859.1 384.5 L913.0 433.7 L967.0 397.4 L1020.8 385.2" fill="none" stroke="#c8c8c8" stroke-width="1"/>
<path d="M859.1 396.5 L913.0 382.1 L967.0 389.7 L1020.8 398.1" fill="none" stroke="#c8c8c8" stroke-width="1"/>
<path d="M859.1 392.7 L913.0 389.7 L967.0 385.2 L1020.8 398.1" fill="none" stroke="#c8c8c8" stroke-width="1"/>
<path d="M859.1 413.2 L913.0 426.1 L967.0 389.7 L1020.8 410.8" fill="none" stroke="#c8c8c8" stroke-width="1"/>
<line x1="859.1" y1="385.9" x2="859.1" y2="397.6" stroke="#8e8e8e" stroke-width="2.2"/>
<line x1="859.1" y1="425.0" x2="859.1" y2="436.8" stroke="#8e8e8e" stroke-width="2.2"/>
<rect x="846.6" y="397.6" width="25" height="27.4" fill="none" stroke="#8e8e8e" stroke-width="2"/>
<line x1="846.6" y1="408.5" x2="871.6" y2="408.5" stroke="#8e8e8e" stroke-width="2"/>
<circle cx="859.1" cy="436.8" r="4.1" fill="#8e8e8e"/>
<circle cx="859.1" cy="429.2" r="4.1" fill="#8e8e8e"/>
<circle cx="859.1" cy="425.3" r="4.1" fill="#8e8e8e"/>
<circle cx="859.1" cy="421.5" r="4.1" fill="#8e8e8e"/>
<circle cx="859.1" cy="417.0" r="4.1" fill="#8e8e8e"/>
<circle cx="859.1" cy="413.2" r="4.1" fill="#8e8e8e"/>
<circle cx="859.1" cy="407.2" r="4.1" fill="#8e8e8e"/>
<circle cx="859.1" cy="401.2" r="4.1" fill="#8e8e8e"/>
<circle cx="859.1" cy="396.5" r="4.1" fill="#8e8e8e"/>
<circle cx="859.1" cy="392.7" r="4.1" fill="#8e8e8e"/>
<circle cx="859.1" cy="384.5" r="4.1" fill="#8e8e8e"/>
<line x1="913.0" y1="382.3" x2="913.0" y2="401.9" stroke="#e8222b" stroke-width="2.2"/>
<line x1="913.0" y1="440.0" x2="913.0" y2="473.1" stroke="#e8222b" stroke-width="2.2"/>
<rect x="900.5" y="401.9" width="25" height="38.1" fill="none" stroke="#e8222b" stroke-width="2"/>
<line x1="900.5" y1="419.7" x2="925.5" y2="419.7" stroke="#e8222b" stroke-width="2"/>
<circle cx="913.0" cy="473.1" r="4.1" fill="#e8222b"/>
<circle cx="913.0" cy="457.8" r="4.1" fill="#e8222b"/>
<circle cx="913.0" cy="454.2" r="4.1" fill="#e8222b"/>
<circle cx="913.0" cy="440.6" r="4.1" fill="#e8222b"/>
<circle cx="913.0" cy="433.7" r="4.1" fill="#e8222b"/>
<circle cx="913.0" cy="426.1" r="4.1" fill="#e8222b"/>
<circle cx="913.0" cy="415.5" r="4.1" fill="#e8222b"/>
<circle cx="913.0" cy="411.7" r="4.1" fill="#e8222b"/>
<circle cx="913.0" cy="406.5" r="4.1" fill="#e8222b"/>
<circle cx="913.0" cy="392.7" r="4.1" fill="#e8222b"/>
<circle cx="913.0" cy="389.7" r="4.1" fill="#e8222b"/>
<circle cx="913.0" cy="382.1" r="4.1" fill="#e8222b"/>
<line x1="967.0" y1="385.9" x2="967.0" y2="399.6" stroke="#f4a534" stroke-width="2.2"/>
<line x1="967.0" y1="419.9" x2="967.0" y2="425.9" stroke="#f4a534" stroke-width="2.2"/>
<rect x="954.5" y="399.6" width="25" height="20.3" fill="none" stroke="#f4a534" stroke-width="2"/>
<line x1="954.5" y1="416.1" x2="979.5" y2="416.1" stroke="#f4a534" stroke-width="2"/>
<circle cx="967.0" cy="459.5" r="4.1" fill="#f4a534"/>
<circle cx="967.0" cy="454.9" r="4.1" fill="#f4a534"/>
<circle cx="967.0" cy="424.6" r="4.1" fill="#f4a534"/>
<circle cx="967.0" cy="415.5" r="4.1" fill="#f4a534"/>
<circle cx="967.0" cy="411.7" r="4.1" fill="#f4a534"/>
<circle cx="967.0" cy="401.7" r="4.1" fill="#f4a534"/>
<circle cx="967.0" cy="397.4" r="4.1" fill="#f4a534"/>
<circle cx="967.0" cy="389.7" r="4.1" fill="#f4a534"/>
<circle cx="967.0" cy="385.2" r="4.1" fill="#f4a534"/>
<line x1="1020.8" y1="385.9" x2="1020.8" y2="394.3" stroke="#2e7bc0" stroke-width="2.2"/>
<line x1="1020.8" y1="423.9" x2="1020.8" y2="446.9" stroke="#2e7bc0" stroke-width="2.2"/>
<rect x="1008.3" y="394.3" width="25" height="29.6" fill="none" stroke="#2e7bc0" stroke-width="2"/>
<line x1="1008.3" y1="416.6" x2="1033.3" y2="416.6" stroke="#2e7bc0" stroke-width="2"/>
<circle cx="1020.8" cy="476.2" r="4.1" fill="#2e7bc0"/>
<circle cx="1020.8" cy="447.3" r="4.1" fill="#2e7bc0"/>
<circle cx="1020.8" cy="440.6" r="4.1" fill="#2e7bc0"/>
<circle cx="1020.8" cy="423.2" r="4.1" fill="#2e7bc0"/>
<circle cx="1020.8" cy="415.5" r="4.1" fill="#2e7bc0"/>
<circle cx="1020.8" cy="410.8" r="4.1" fill="#2e7bc0"/>
<circle cx="1020.8" cy="398.1" r="4.1" fill="#2e7bc0"/>
<circle cx="1020.8" cy="393.6" r="4.1" fill="#2e7bc0"/>
<circle cx="1020.8" cy="385.2" r="4.1" fill="#2e7bc0"/>
<path d="M859.1 436.8 L913.0 473.1 L967.0 459.5 L1020.8 476.2" fill="none" stroke="#d0d0d0" stroke-width="0.8" opacity="0.6"/>
<path d="M859.1 421.5 L913.0 457.8 L967.0 459.5 L1020.8 440.6" fill="none" stroke="#d0d0d0" stroke-width="0.8" opacity="0.6"/>
<path d="M859.1 429.2 L913.0 440.6 L967.0 454.9 L1020.8 423.2" fill="none" stroke="#d0d0d0" stroke-width="0.8" opacity="0.6"/>
<path d="M859.1 421.5 L913.0 454.2 L967.0 411.7 L1020.8 415.5" fill="none" stroke="#d0d0d0" stroke-width="0.8" opacity="0.6"/>
<path d="M859.1 417.0 L913.0 415.5 L967.0 415.5 L1020.8 415.5" fill="none" stroke="#d0d0d0" stroke-width="0.8" opacity="0.6"/>
<path d="M859.1 407.2 L913.0 392.7 L967.0 401.7 L1020.8 447.3" fill="none" stroke="#d0d0d0" stroke-width="0.8" opacity="0.6"/>
<path d="M859.1 401.2 L913.0 411.7 L967.0 424.6 L1020.8 393.6" fill="none" stroke="#d0d0d0" stroke-width="0.8" opacity="0.6"/>
<path d="M859.1 425.3 L913.0 406.5 L967.0 411.7 L1020.8 415.5" fill="none" stroke="#d0d0d0" stroke-width="0.8" opacity="0.6"/>
<path d="M859.1 384.5 L913.0 433.7 L967.0 397.4 L1020.8 385.2" fill="none" stroke="#d0d0d0" stroke-width="0.8" opacity="0.6"/>
<path d="M859.1 396.5 L913.0 382.1 L967.0 389.7 L1020.8 398.1" fill="none" stroke="#d0d0d0" stroke-width="0.8" opacity="0.6"/>
<path d="M859.1 392.7 L913.0 389.7 L967.0 385.2 L1020.8 398.1" fill="none" stroke="#d0d0d0" stroke-width="0.8" opacity="0.6"/>
<path d="M859.1 413.2 L913.0 426.1 L967.0 389.7 L1020.8 410.8" fill="none" stroke="#d0d0d0" stroke-width="0.8" opacity="0.6"/>
<path d="M859.1 408.5 L913.0 419.7 L967.0 415.6 L1020.8 417.4" fill="none" stroke="#000" stroke-width="3"/>
<line x1="827.9" y1="364.0" x2="827.9" y2="565.1" stroke="#111" stroke-width="2.4"/>
<line x1="826.6999999999999" y1="563.9" x2="1053" y2="563.9" stroke="#111" stroke-width="2.4"/>
<text x="909.5" y="375.0" font-size="18.5" text-anchor="middle" fill="#1a1a1a">0.289</text>
<text x="969.5" y="375.0" font-size="18.5" text-anchor="middle" fill="#1a1a1a">0.436</text>
<text x="1029.7" y="375.0" font-size="18.5" text-anchor="middle" fill="#1a1a1a">0.289</text>
<text transform="translate(744.0,477.6) rotate(-90)" font-size="20.6" text-anchor="middle" fill="#1a1a1a" textLength="192.4" lengthAdjust="spacingAndGlyphs">Classical monocytes</text>
<text transform="translate(769.5,477.6) rotate(-90)" font-size="20.6" text-anchor="middle" fill="#1a1a1a" textLength="211.4" lengthAdjust="spacingAndGlyphs">of total monocytes (%)</text>
<line x1="1172.9" y1="562.3" x2="1179.4" y2="562.3" stroke="#555" stroke-width="2"/>
<text x="1165.9" y="569.3" font-size="19.5" text-anchor="end" fill="#1a1a1a">0</text>
<line x1="1172.9" y1="508.3" x2="1179.4" y2="508.3" stroke="#555" stroke-width="2"/>
<text x="1165.9" y="515.3" font-size="19.5" text-anchor="end" fill="#1a1a1a">10</text>
<line x1="1172.9" y1="454.3" x2="1179.4" y2="454.3" stroke="#555" stroke-width="2"/>
<text x="1165.9" y="461.3" font-size="19.5" text-anchor="end" fill="#1a1a1a">20</text>
<line x1="1172.9" y1="400.3" x2="1179.4" y2="400.3" stroke="#555" stroke-width="2"/>
<text x="1165.9" y="407.3" font-size="19.5" text-anchor="end" fill="#1a1a1a">30</text>
<line x1="1210.7" y1="562.3" x2="1210.7" y2="568.3" stroke="#555" stroke-width="2"/>
<text transform="translate(1219.2,588.3) rotate(-45)" font-size="19.5" text-anchor="end" fill="#1a1a1a">C1D1</text>
<line x1="1264.9" y1="562.3" x2="1264.9" y2="568.3" stroke="#555" stroke-width="2"/>
<text transform="translate(1273.4,588.3) rotate(-45)" font-size="19.5" text-anchor="end" fill="#1a1a1a">C1D15</text>
<line x1="1318.8" y1="562.3" x2="1318.8" y2="568.3" stroke="#555" stroke-width="2"/>
<text transform="translate(1327.3,588.3) rotate(-45)" font-size="19.5" text-anchor="end" fill="#1a1a1a">C2D1</text>
<line x1="1372.8" y1="562.3" x2="1372.8" y2="568.3" stroke="#555" stroke-width="2"/>
<text transform="translate(1381.3,588.3) rotate(-45)" font-size="19.5" text-anchor="end" fill="#1a1a1a">C4D1</text>
<path d="M1210.7 460.8 L1264.9 400.8 L1318.8 386.3 L1372.8 380.3" fill="none" stroke="#c8c8c8" stroke-width="1"/>
<path d="M1210.7 457.5 L1264.9 426.8 L1318.8 452.7 L1372.8 460.2" fill="none" stroke="#c8c8c8" stroke-width="1"/>
<path d="M1210.7 466.7 L1264.9 470.5 L1318.8 481.8 L1372.8 473.7" fill="none" stroke="#c8c8c8" stroke-width="1"/>
<path d="M1210.7 471.6 L1264.9 496.4 L1318.8 486.7 L1372.8 501.3" fill="none" stroke="#c8c8c8" stroke-width="1"/>
<path d="M1210.7 496.4 L1264.9 501.3 L1318.8 501.3 L1372.8 498.0" fill="none" stroke="#c8c8c8" stroke-width="1"/>
<path d="M1210.7 522.3 L1264.9 545.0 L1318.8 553.1 L1372.8 523.4" fill="none" stroke="#c8c8c8" stroke-width="1"/>
<path d="M1210.7 527.2 L1264.9 558.0 L1318.8 558.0 L1372.8 558.0" fill="none" stroke="#c8c8c8" stroke-width="1"/>
<path d="M1210.7 545.0 L1264.9 385.2 L1318.8 553.1 L1372.8 549.9" fill="none" stroke="#c8c8c8" stroke-width="1"/>
<path d="M1210.7 549.9 L1264.9 408.9 L1318.8 472.1 L1372.8 471.6" fill="none" stroke="#c8c8c8" stroke-width="1"/>
<path d="M1210.7 554.7 L1264.9 438.1 L1318.8 516.9 L1372.8 520.7" fill="none" stroke="#c8c8c8" stroke-width="1"/>
<path d="M1210.7 559.6 L1264.9 496.4 L1318.8 548.3 L1372.8 554.7" fill="none" stroke="#c8c8c8" stroke-width="1"/>
<path d="M1210.7 562.3 L1264.9 558.0 L1318.8 562.3 L1372.8 560.7" fill="none" stroke="#c8c8c8" stroke-width="1"/>
<path d="M1210.7 561.2 L1264.9 501.3 L1318.8 481.8 L1372.8 498.0" fill="none" stroke="#c8c8c8" stroke-width="1"/>
<line x1="1210.7" y1="457.5" x2="1210.7" y2="490.5" stroke="#8e8e8e" stroke-width="2.2"/>
<line x1="1210.7" y1="560.7" x2="1210.7" y2="562.3" stroke="#8e8e8e" stroke-width="2.2"/>
<rect x="1198.2" y="490.5" width="25" height="70.2" fill="none" stroke="#8e8e8e" stroke-width="2"/>
<line x1="1198.2" y1="547.2" x2="1223.2" y2="547.2" stroke="#8e8e8e" stroke-width="2"/>
<circle cx="1210.7" cy="562.3" r="4.1" fill="#8e8e8e"/>
<circle cx="1210.7" cy="561.2" r="4.1" fill="#8e8e8e"/>
<circle cx="1210.7" cy="559.6" r="4.1" fill="#8e8e8e"/>
<circle cx="1210.7" cy="554.7" r="4.1" fill="#8e8e8e"/>
<circle cx="1210.7" cy="549.9" r="4.1" fill="#8e8e8e"/>
<circle cx="1210.7" cy="545.0" r="4.1" fill="#8e8e8e"/>
<circle cx="1210.7" cy="527.2" r="4.1" fill="#8e8e8e"/>
<circle cx="1210.7" cy="522.3" r="4.1" fill="#8e8e8e"/>
<circle cx="1210.7" cy="496.4" r="4.1" fill="#8e8e8e"/>
<circle cx="1210.7" cy="471.6" r="4.1" fill="#8e8e8e"/>
<circle cx="1210.7" cy="466.7" r="4.1" fill="#8e8e8e"/>
<circle cx="1210.7" cy="460.8" r="4.1" fill="#8e8e8e"/>
<circle cx="1210.7" cy="457.5" r="4.1" fill="#8e8e8e"/>
<line x1="1264.9" y1="385.2" x2="1264.9" y2="430.0" stroke="#e8222b" stroke-width="2.2"/>
<line x1="1264.9" y1="513.2" x2="1264.9" y2="560.1" stroke="#e8222b" stroke-width="2.2"/>
<rect x="1252.4" y="430.0" width="25" height="83.2" fill="none" stroke="#e8222b" stroke-width="2"/>
<line x1="1252.4" y1="497.0" x2="1277.4" y2="497.0" stroke="#e8222b" stroke-width="2"/>
<circle cx="1264.9" cy="558.0" r="4.1" fill="#e8222b"/>
<circle cx="1264.9" cy="545.0" r="4.1" fill="#e8222b"/>
<circle cx="1264.9" cy="501.3" r="4.1" fill="#e8222b"/>
<circle cx="1264.9" cy="496.4" r="4.1" fill="#e8222b"/>
<circle cx="1264.9" cy="470.5" r="4.1" fill="#e8222b"/>
<circle cx="1264.9" cy="438.1" r="4.1" fill="#e8222b"/>
<circle cx="1264.9" cy="426.8" r="4.1" fill="#e8222b"/>
<circle cx="1264.9" cy="408.9" r="4.1" fill="#e8222b"/>
<circle cx="1264.9" cy="400.8" r="4.1" fill="#e8222b"/>
<circle cx="1264.9" cy="385.2" r="4.1" fill="#e8222b"/>
<line x1="1318.8" y1="386.3" x2="1318.8" y2="482.9" stroke="#f4a534" stroke-width="2.2"/>
<line x1="1318.8" y1="556.4" x2="1318.8" y2="562.3" stroke="#f4a534" stroke-width="2.2"/>
<rect x="1306.3" y="482.9" width="25" height="73.4" fill="none" stroke="#f4a534" stroke-width="2"/>
<line x1="1306.3" y1="516.9" x2="1331.3" y2="516.9" stroke="#f4a534" stroke-width="2"/>
<circle cx="1318.8" cy="562.3" r="4.1" fill="#f4a534"/>
<circle cx="1318.8" cy="558.0" r="4.1" fill="#f4a534"/>
<circle cx="1318.8" cy="553.1" r="4.1" fill="#f4a534"/>
<circle cx="1318.8" cy="548.3" r="4.1" fill="#f4a534"/>
<circle cx="1318.8" cy="516.9" r="4.1" fill="#f4a534"/>
<circle cx="1318.8" cy="501.3" r="4.1" fill="#f4a534"/>
<circle cx="1318.8" cy="486.7" r="4.1" fill="#f4a534"/>
<circle cx="1318.8" cy="481.8" r="4.1" fill="#f4a534"/>
<circle cx="1318.8" cy="472.1" r="4.1" fill="#f4a534"/>
<circle cx="1318.8" cy="452.7" r="4.1" fill="#f4a534"/>
<circle cx="1318.8" cy="386.3" r="4.1" fill="#f4a534"/>
<line x1="1372.8" y1="379.8" x2="1372.8" y2="479.7" stroke="#2e7bc0" stroke-width="2.2"/>
<line x1="1372.8" y1="553.7" x2="1372.8" y2="562.3" stroke="#2e7bc0" stroke-width="2.2"/>
<rect x="1360.3" y="479.7" width="25" height="74.0" fill="none" stroke="#2e7bc0" stroke-width="2"/>
<line x1="1360.3" y1="521.8" x2="1385.3" y2="521.8" stroke="#2e7bc0" stroke-width="2"/>
<circle cx="1372.8" cy="560.7" r="4.1" fill="#2e7bc0"/>
<circle cx="1372.8" cy="558.0" r="4.1" fill="#2e7bc0"/>
<circle cx="1372.8" cy="554.7" r="4.1" fill="#2e7bc0"/>
<circle cx="1372.8" cy="549.9" r="4.1" fill="#2e7bc0"/>
<circle cx="1372.8" cy="523.4" r="4.1" fill="#2e7bc0"/>
<circle cx="1372.8" cy="520.7" r="4.1" fill="#2e7bc0"/>
<circle cx="1372.8" cy="501.3" r="4.1" fill="#2e7bc0"/>
<circle cx="1372.8" cy="498.0" r="4.1" fill="#2e7bc0"/>
<circle cx="1372.8" cy="473.7" r="4.1" fill="#2e7bc0"/>
<circle cx="1372.8" cy="471.6" r="4.1" fill="#2e7bc0"/>
<circle cx="1372.8" cy="460.2" r="4.1" fill="#2e7bc0"/>
<circle cx="1372.8" cy="380.3" r="4.1" fill="#2e7bc0"/>
<path d="M1210.7 460.8 L1264.9 400.8 L1318.8 386.3 L1372.8 380.3" fill="none" stroke="#d0d0d0" stroke-width="0.8" opacity="0.6"/>
<path d="M1210.7 457.5 L1264.9 426.8 L1318.8 452.7 L1372.8 460.2" fill="none" stroke="#d0d0d0" stroke-width="0.8" opacity="0.6"/>
<path d="M1210.7 466.7 L1264.9 470.5 L1318.8 481.8 L1372.8 473.7" fill="none" stroke="#d0d0d0" stroke-width="0.8" opacity="0.6"/>
<path d="M1210.7 471.6 L1264.9 496.4 L1318.8 486.7 L1372.8 501.3" fill="none" stroke="#d0d0d0" stroke-width="0.8" opacity="0.6"/>
<path d="M1210.7 496.4 L1264.9 501.3 L1318.8 501.3 L1372.8 498.0" fill="none" stroke="#d0d0d0" stroke-width="0.8" opacity="0.6"/>
<path d="M1210.7 522.3 L1264.9 545.0 L1318.8 553.1 L1372.8 523.4" fill="none" stroke="#d0d0d0" stroke-width="0.8" opacity="0.6"/>
<path d="M1210.7 527.2 L1264.9 558.0 L1318.8 558.0 L1372.8 558.0" fill="none" stroke="#d0d0d0" stroke-width="0.8" opacity="0.6"/>
<path d="M1210.7 545.0 L1264.9 385.2 L1318.8 553.1 L1372.8 549.9" fill="none" stroke="#d0d0d0" stroke-width="0.8" opacity="0.6"/>
<path d="M1210.7 549.9 L1264.9 408.9 L1318.8 472.1 L1372.8 471.6" fill="none" stroke="#d0d0d0" stroke-width="0.8" opacity="0.6"/>
<path d="M1210.7 554.7 L1264.9 438.1 L1318.8 516.9 L1372.8 520.7" fill="none" stroke="#d0d0d0" stroke-width="0.8" opacity="0.6"/>
<path d="M1210.7 559.6 L1264.9 496.4 L1318.8 548.3 L1372.8 554.7" fill="none" stroke="#d0d0d0" stroke-width="0.8" opacity="0.6"/>
<path d="M1210.7 562.3 L1264.9 558.0 L1318.8 562.3 L1372.8 560.7" fill="none" stroke="#d0d0d0" stroke-width="0.8" opacity="0.6"/>
<path d="M1210.7 561.2 L1264.9 501.3 L1318.8 481.8 L1372.8 498.0" fill="none" stroke="#d0d0d0" stroke-width="0.8" opacity="0.6"/>
<path d="M1210.7 546.8 L1264.9 497.4 L1318.8 516.8 L1372.8 521.6" fill="none" stroke="#000" stroke-width="3"/>
<line x1="1179.4" y1="362.5" x2="1179.4" y2="563.5" stroke="#111" stroke-width="2.4"/>
<line x1="1178.2" y1="562.3" x2="1404.8" y2="562.3" stroke="#111" stroke-width="2.4"/>
<text x="1241.0" y="373.2" font-size="18.5" text-anchor="middle" fill="#1a1a1a">0.0275</text>
<text x="1312.3" y="373.2" font-size="18.5" text-anchor="middle" fill="#1a1a1a">0.0537</text>
<text x="1383.5" y="373.2" font-size="18.5" text-anchor="middle" fill="#1a1a1a">0.0915</text>
<text transform="translate(1107.5,478.0) rotate(-90)" font-size="20.6" text-anchor="middle" fill="#1a1a1a" textLength="225.8" lengthAdjust="spacingAndGlyphs">Intermediate monocytes</text>
<text transform="translate(1133.7,478.0) rotate(-90)" font-size="20.6" text-anchor="middle" fill="#1a1a1a" textLength="210.6" lengthAdjust="spacingAndGlyphs">of total monocytes (%)</text>
<defs><path id="st" d="M0.68 0.00L1.03 -3.35A1.03 1.03 0 0 0 -1.03 -3.35L-0.68 -0.00ZM0.19 -0.65L-2.92 -1.94A1.03 1.03 0 0 0 -3.50 0.03L-0.19 0.65ZM0.19 0.65L3.50 0.03A1.03 1.03 0 0 0 2.92 -1.94L-0.19 -0.65ZM-0.55 -0.40L-2.80 2.10A1.03 1.03 0 0 0 -1.14 3.32L0.55 0.40ZM-0.55 0.40L1.14 3.32A1.03 1.03 0 0 0 2.80 2.10L0.55 -0.40ZM-1.1 0A1.1 1.1 0 1 0 1.1 0A1.1 1.1 0 1 0 -1.1 0Z"/></defs>
<rect x="423.30" y="921.4" width="25.37" height="25.4" fill="#cddff0"/>
<rect x="448.37" y="921.4" width="25.37" height="25.4" fill="#72b0da"/>
<rect x="478.50" y="921.4" width="25.37" height="25.4" fill="#e6e2f0"/>
<rect x="503.57" y="921.4" width="25.37" height="25.4" fill="#5b2c8f"/>
<rect x="528.64" y="921.4" width="25.37" height="25.4" fill="#8080bd"/>
<rect x="553.71" y="921.4" width="25.37" height="25.4" fill="#a3d49c"/>
<rect x="578.78" y="921.4" width="25.37" height="25.4" fill="#228b47"/>
<rect x="603.85" y="921.4" width="25.37" height="25.4" fill="#f58a41"/>
<rect x="628.92" y="921.4" width="25.37" height="25.4" fill="#ee68a4"/>
<rect x="659.30" y="921.4" width="25.37" height="25.4" fill="#ae5a28"/>
<rect x="684.37" y="921.4" width="25.37" height="25.4" fill="#fbe5c8"/>
<rect x="709.44" y="921.4" width="25.37" height="25.4" fill="#f3a544"/>
<rect x="423.30" y="952.30" width="25.07" height="25.55" fill="#b2182b" stroke="#c2c2c2" stroke-width="1.4"/>
<rect x="448.37" y="952.30" width="25.07" height="25.55" fill="#b2182b" stroke="#c2c2c2" stroke-width="1.4"/>
<rect x="478.50" y="952.30" width="25.07" height="25.55" fill="#b2182b" stroke="#c2c2c2" stroke-width="1.4"/>
<rect x="503.57" y="952.30" width="25.07" height="25.55" fill="#b2182b" stroke="#c2c2c2" stroke-width="1.4"/>
<rect x="528.64" y="952.30" width="25.07" height="25.55" fill="#b2182b" stroke="#c2c2c2" stroke-width="1.4"/>
<rect x="553.71" y="952.30" width="25.07" height="25.55" fill="#b2182b" stroke="#c2c2c2" stroke-width="1.4"/>
<rect x="578.78" y="952.30" width="25.07" height="25.55" fill="#b2182b" stroke="#c2c2c2" stroke-width="1.4"/>
<rect x="603.85" y="952.30" width="25.07" height="25.55" fill="#b2182b" stroke="#c2c2c2" stroke-width="1.4"/>
<rect x="628.92" y="952.30" width="25.07" height="25.55" fill="#b2182b" stroke="#c2c2c2" stroke-width="1.4"/>
<rect x="659.30" y="952.30" width="25.07" height="25.55" fill="#b2182b" stroke="#c2c2c2" stroke-width="1.4"/>
<rect x="684.37" y="952.30" width="25.07" height="25.55" fill="#b2182b" stroke="#c2c2c2" stroke-width="1.4"/>
<rect x="709.44" y="952.30" width="25.07" height="25.55" fill="#b2182b" stroke="#c2c2c2" stroke-width="1.4"/>
<rect x="423.30" y="977.85" width="25.07" height="25.55" fill="#b2182b" stroke="#c2c2c2" stroke-width="1.4"/>
<rect x="448.37" y="977.85" width="25.07" height="25.55" fill="#c8433f" stroke="#c2c2c2" stroke-width="1.4"/>
<rect x="478.50" y="977.85" width="25.07" height="25.55" fill="#b2182b" stroke="#c2c2c2" stroke-width="1.4"/>
<rect x="503.57" y="977.85" width="25.07" height="25.55" fill="#b2182b" stroke="#c2c2c2" stroke-width="1.4"/>
<rect x="528.64" y="977.85" width="25.07" height="25.55" fill="#b2182b" stroke="#c2c2c2" stroke-width="1.4"/>
<rect x="553.71" y="977.85" width="25.07" height="25.55" fill="#b2182b" stroke="#c2c2c2" stroke-width="1.4"/>
<rect x="578.78" y="977.85" width="25.07" height="25.55" fill="#b2182b" stroke="#c2c2c2" stroke-width="1.4"/>
<rect x="603.85" y="977.85" width="25.07" height="25.55" fill="#b2182b" stroke="#c2c2c2" stroke-width="1.4"/>
<rect x="628.92" y="977.85" width="25.07" height="25.55" fill="#b2182b" stroke="#c2c2c2" stroke-width="1.4"/>
<rect x="659.30" y="977.85" width="25.07" height="25.55" fill="#b2182b" stroke="#c2c2c2" stroke-width="1.4"/>
<rect x="684.37" y="977.85" width="25.07" height="25.55" fill="#b2182b" stroke="#c2c2c2" stroke-width="1.4"/>
<rect x="709.44" y="977.85" width="25.07" height="25.55" fill="#b2182b" stroke="#c2c2c2" stroke-width="1.4"/>
<rect x="423.30" y="1003.40" width="25.07" height="25.55" fill="#fce1d1" stroke="#c2c2c2" stroke-width="1.4"/>
<rect x="448.37" y="1003.40" width="25.07" height="25.55" fill="#f8f3ef" stroke="#c2c2c2" stroke-width="1.4"/>
<rect x="478.50" y="1003.40" width="25.07" height="25.55" fill="#fbd0b9" stroke="#c2c2c2" stroke-width="1.4"/>
<rect x="503.57" y="1003.40" width="25.07" height="25.55" fill="#fce1d1" stroke="#c2c2c2" stroke-width="1.4"/>
<rect x="528.64" y="1003.40" width="25.07" height="25.55" fill="#fce1d1" stroke="#c2c2c2" stroke-width="1.4"/>
<rect x="553.71" y="1003.40" width="25.07" height="25.55" fill="#fce1d1" stroke="#c2c2c2" stroke-width="1.4"/>
<rect x="578.78" y="1003.40" width="25.07" height="25.55" fill="#b2182b" stroke="#c2c2c2" stroke-width="1.4"/>
<rect x="603.85" y="1003.40" width="25.07" height="25.55" fill="#b2182b" stroke="#c2c2c2" stroke-width="1.4"/>
<rect x="628.92" y="1003.40" width="25.07" height="25.55" fill="#c8433f" stroke="#c2c2c2" stroke-width="1.4"/>
<rect x="659.30" y="1003.40" width="25.07" height="25.55" fill="#b2182b" stroke="#c2c2c2" stroke-width="1.4"/>
<rect x="684.37" y="1003.40" width="25.07" height="25.55" fill="#2166ac" stroke="#c2c2c2" stroke-width="1.4"/>
<rect x="709.44" y="1003.40" width="25.07" height="25.55" fill="#b2182b" stroke="#c2c2c2" stroke-width="1.4"/>
<rect x="423.30" y="1028.95" width="25.07" height="25.55" fill="#ebf1f5" stroke="#c2c2c2" stroke-width="1.4"/>
<rect x="448.37" y="1028.95" width="25.07" height="25.55" fill="#ebf1f5" stroke="#c2c2c2" stroke-width="1.4"/>
<rect x="478.50" y="1028.95" width="25.07" height="25.55" fill="#f7f6f5" stroke="#c2c2c2" stroke-width="1.4"/>
<rect x="503.57" y="1028.95" width="25.07" height="25.55" fill="#e8f0f4" stroke="#c2c2c2" stroke-width="1.4"/>
<rect x="528.64" y="1028.95" width="25.07" height="25.55" fill="#eff3f6" stroke="#c2c2c2" stroke-width="1.4"/>
<rect x="553.71" y="1028.95" width="25.07" height="25.55" fill="#d9e9f1" stroke="#c2c2c2" stroke-width="1.4"/>
<rect x="578.78" y="1028.95" width="25.07" height="25.55" fill="#f8f4f1" stroke="#c2c2c2" stroke-width="1.4"/>
<rect x="603.85" y="1028.95" width="25.07" height="25.55" fill="#fbe6da" stroke="#c2c2c2" stroke-width="1.4"/>
<rect x="628.92" y="1028.95" width="25.07" height="25.55" fill="#eff3f6" stroke="#c2c2c2" stroke-width="1.4"/>
<rect x="659.30" y="1028.95" width="25.07" height="25.55" fill="#ebf1f5" stroke="#c2c2c2" stroke-width="1.4"/>
<rect x="684.37" y="1028.95" width="25.07" height="25.55" fill="#2166ac" stroke="#c2c2c2" stroke-width="1.4"/>
<rect x="709.44" y="1028.95" width="25.07" height="25.55" fill="#fbe6da" stroke="#c2c2c2" stroke-width="1.4"/>
<rect x="423.30" y="1054.50" width="25.07" height="25.55" fill="#2166ac" stroke="#c2c2c2" stroke-width="1.4"/>
<rect x="448.37" y="1054.50" width="25.07" height="25.55" fill="#2f78b5" stroke="#c2c2c2" stroke-width="1.4"/>
<rect x="478.50" y="1054.50" width="25.07" height="25.55" fill="#eef3f5" stroke="#c2c2c2" stroke-width="1.4"/>
<rect x="503.57" y="1054.50" width="25.07" height="25.55" fill="#abd2e5" stroke="#c2c2c2" stroke-width="1.4"/>
<rect x="528.64" y="1054.50" width="25.07" height="25.55" fill="#d1e5f0" stroke="#c2c2c2" stroke-width="1.4"/>
<rect x="553.71" y="1054.50" width="25.07" height="25.55" fill="#abd2e5" stroke="#c2c2c2" stroke-width="1.4"/>
<rect x="578.78" y="1054.50" width="25.07" height="25.55" fill="#2166ac" stroke="#c2c2c2" stroke-width="1.4"/>
<rect x="603.85" y="1054.50" width="25.07" height="25.55" fill="#2166ac" stroke="#c2c2c2" stroke-width="1.4"/>
<rect x="628.92" y="1054.50" width="25.07" height="25.55" fill="#d1e5f0" stroke="#c2c2c2" stroke-width="1.4"/>
<rect x="659.30" y="1054.50" width="25.07" height="25.55" fill="#2166ac" stroke="#c2c2c2" stroke-width="1.4"/>
<rect x="684.37" y="1054.50" width="25.07" height="25.55" fill="#c4dfec" stroke="#c2c2c2" stroke-width="1.4"/>
<rect x="709.44" y="1054.50" width="25.07" height="25.55" fill="#f9eee8" stroke="#c2c2c2" stroke-width="1.4"/>
<rect x="423.30" y="1080.05" width="25.07" height="25.55" fill="#e0ecf3" stroke="#c2c2c2" stroke-width="1.4"/>
<rect x="448.37" y="1080.05" width="25.07" height="25.55" fill="#ecf2f5" stroke="#c2c2c2" stroke-width="1.4"/>
<rect x="478.50" y="1080.05" width="25.07" height="25.55" fill="#e0ecf3" stroke="#c2c2c2" stroke-width="1.4"/>
<rect x="503.57" y="1080.05" width="25.07" height="25.55" fill="#e0ecf3" stroke="#c2c2c2" stroke-width="1.4"/>
<rect x="528.64" y="1080.05" width="25.07" height="25.55" fill="#f7f5f3" stroke="#c2c2c2" stroke-width="1.4"/>
<rect x="553.71" y="1080.05" width="25.07" height="25.55" fill="#eef3f5" stroke="#c2c2c2" stroke-width="1.4"/>
<rect x="578.78" y="1080.05" width="25.07" height="25.55" fill="#d1e5f0" stroke="#c2c2c2" stroke-width="1.4"/>
<rect x="603.85" y="1080.05" width="25.07" height="25.55" fill="#d9e9f1" stroke="#c2c2c2" stroke-width="1.4"/>
<rect x="628.92" y="1080.05" width="25.07" height="25.55" fill="#d9e9f1" stroke="#c2c2c2" stroke-width="1.4"/>
<rect x="659.30" y="1080.05" width="25.07" height="25.55" fill="#d1e5f0" stroke="#c2c2c2" stroke-width="1.4"/>
<rect x="684.37" y="1080.05" width="25.07" height="25.55" fill="#f7f5f3" stroke="#c2c2c2" stroke-width="1.4"/>
<rect x="709.44" y="1080.05" width="25.07" height="25.55" fill="#f2f5f6" stroke="#c2c2c2" stroke-width="1.4"/>
<rect x="423.30" y="1105.60" width="25.07" height="25.55" fill="#ecf2f5" stroke="#c2c2c2" stroke-width="1.4"/>
<rect x="448.37" y="1105.60" width="25.07" height="25.55" fill="#d9e9f1" stroke="#c2c2c2" stroke-width="1.4"/>
<rect x="478.50" y="1105.60" width="25.07" height="25.55" fill="#ecf2f5" stroke="#c2c2c2" stroke-width="1.4"/>
<rect x="503.57" y="1105.60" width="25.07" height="25.55" fill="#e8f0f4" stroke="#c2c2c2" stroke-width="1.4"/>
<rect x="528.64" y="1105.60" width="25.07" height="25.55" fill="#f7f5f3" stroke="#c2c2c2" stroke-width="1.4"/>
<rect x="553.71" y="1105.60" width="25.07" height="25.55" fill="#eff3f6" stroke="#c2c2c2" stroke-width="1.4"/>
<rect x="578.78" y="1105.60" width="25.07" height="25.55" fill="#eff3f6" stroke="#c2c2c2" stroke-width="1.4"/>
<rect x="603.85" y="1105.60" width="25.07" height="25.55" fill="#e0ecf3" stroke="#c2c2c2" stroke-width="1.4"/>
<rect x="628.92" y="1105.60" width="25.07" height="25.55" fill="#f8f1ed" stroke="#c2c2c2" stroke-width="1.4"/>
<rect x="659.30" y="1105.60" width="25.07" height="25.55" fill="#eff3f6" stroke="#c2c2c2" stroke-width="1.4"/>
<rect x="684.37" y="1105.60" width="25.07" height="25.55" fill="#e8f0f4" stroke="#c2c2c2" stroke-width="1.4"/>
<rect x="709.44" y="1105.60" width="25.07" height="25.55" fill="#fce1d1" stroke="#c2c2c2" stroke-width="1.4"/>
<rect x="423.30" y="1131.15" width="25.07" height="25.55" fill="#f9ece4" stroke="#c2c2c2" stroke-width="1.4"/>
<rect x="448.37" y="1131.15" width="25.07" height="25.55" fill="#f8f3ef" stroke="#c2c2c2" stroke-width="1.4"/>
<rect x="478.50" y="1131.15" width="25.07" height="25.55" fill="#fce1d1" stroke="#c2c2c2" stroke-width="1.4"/>
<rect x="503.57" y="1131.15" width="25.07" height="25.55" fill="#f9ece4" stroke="#c2c2c2" stroke-width="1.4"/>
<rect x="528.64" y="1131.15" width="25.07" height="25.55" fill="#faeae0" stroke="#c2c2c2" stroke-width="1.4"/>
<rect x="553.71" y="1131.15" width="25.07" height="25.55" fill="#fbe6da" stroke="#c2c2c2" stroke-width="1.4"/>
<rect x="578.78" y="1131.15" width="25.07" height="25.55" fill="#fbd0b9" stroke="#c2c2c2" stroke-width="1.4"/>
<rect x="603.85" y="1131.15" width="25.07" height="25.55" fill="#f9c5ab" stroke="#c2c2c2" stroke-width="1.4"/>
<rect x="628.92" y="1131.15" width="25.07" height="25.55" fill="#fbd0b9" stroke="#c2c2c2" stroke-width="1.4"/>
<rect x="659.30" y="1131.15" width="25.07" height="25.55" fill="#f9c5ab" stroke="#c2c2c2" stroke-width="1.4"/>
<rect x="684.37" y="1131.15" width="25.07" height="25.55" fill="#9fcbe2" stroke="#c2c2c2" stroke-width="1.4"/>
<rect x="709.44" y="1131.15" width="25.07" height="25.55" fill="#fae8de" stroke="#c2c2c2" stroke-width="1.4"/>
<rect x="423.30" y="1156.70" width="25.07" height="25.55" fill="#fce1d1" stroke="#c2c2c2" stroke-width="1.4"/>
<rect x="448.37" y="1156.70" width="25.07" height="25.55" fill="#f8f0eb" stroke="#c2c2c2" stroke-width="1.4"/>
<rect x="478.50" y="1156.70" width="25.07" height="25.55" fill="#fbe6da" stroke="#c2c2c2" stroke-width="1.4"/>
<rect x="503.57" y="1156.70" width="25.07" height="25.55" fill="#fae8de" stroke="#c2c2c2" stroke-width="1.4"/>
<rect x="528.64" y="1156.70" width="25.07" height="25.55" fill="#fae8de" stroke="#c2c2c2" stroke-width="1.4"/>
<rect x="553.71" y="1156.70" width="25.07" height="25.55" fill="#fbe6da" stroke="#c2c2c2" stroke-width="1.4"/>
<rect x="578.78" y="1156.70" width="25.07" height="25.55" fill="#f6b090" stroke="#c2c2c2" stroke-width="1.4"/>
<rect x="603.85" y="1156.70" width="25.07" height="25.55" fill="#d6604d" stroke="#c2c2c2" stroke-width="1.4"/>
<rect x="628.92" y="1156.70" width="25.07" height="25.55" fill="#f8bb9e" stroke="#c2c2c2" stroke-width="1.4"/>
<rect x="659.30" y="1156.70" width="25.07" height="25.55" fill="#fce1d1" stroke="#c2c2c2" stroke-width="1.4"/>
<rect x="684.37" y="1156.70" width="25.07" height="25.55" fill="#eff3f6" stroke="#c2c2c2" stroke-width="1.4"/>
<rect x="709.44" y="1156.70" width="25.07" height="25.55" fill="#f9eee8" stroke="#c2c2c2" stroke-width="1.4"/>
<rect x="423.30" y="1182.25" width="25.07" height="25.55" fill="#e8f0f4" stroke="#c2c2c2" stroke-width="1.4"/>
<rect x="448.37" y="1182.25" width="25.07" height="25.55" fill="#f7f6f5" stroke="#c2c2c2" stroke-width="1.4"/>
<rect x="478.50" y="1182.25" width="25.07" height="25.55" fill="#f8f0eb" stroke="#c2c2c2" stroke-width="1.4"/>
<rect x="503.57" y="1182.25" width="25.07" height="25.55" fill="#eff3f6" stroke="#c2c2c2" stroke-width="1.4"/>
<rect x="528.64" y="1182.25" width="25.07" height="25.55" fill="#f8f0eb" stroke="#c2c2c2" stroke-width="1.4"/>
<rect x="553.71" y="1182.25" width="25.07" height="25.55" fill="#e8f0f4" stroke="#c2c2c2" stroke-width="1.4"/>
<rect x="578.78" y="1182.25" width="25.07" height="25.55" fill="#eff3f6" stroke="#c2c2c2" stroke-width="1.4"/>
<rect x="603.85" y="1182.25" width="25.07" height="25.55" fill="#e8f0f4" stroke="#c2c2c2" stroke-width="1.4"/>
<rect x="628.92" y="1182.25" width="25.07" height="25.55" fill="#f8f0eb" stroke="#c2c2c2" stroke-width="1.4"/>
<rect x="659.30" y="1182.25" width="25.07" height="25.55" fill="#eff3f6" stroke="#c2c2c2" stroke-width="1.4"/>
<rect x="684.37" y="1182.25" width="25.07" height="25.55" fill="#eff3f6" stroke="#c2c2c2" stroke-width="1.4"/>
<rect x="709.44" y="1182.25" width="25.07" height="25.55" fill="#f8f0eb" stroke="#c2c2c2" stroke-width="1.4"/>
<rect x="423.30" y="1207.80" width="25.07" height="25.55" fill="#ebf1f5" stroke="#c2c2c2" stroke-width="1.4"/>
<rect x="448.37" y="1207.80" width="25.07" height="25.55" fill="#eff3f6" stroke="#c2c2c2" stroke-width="1.4"/>
<rect x="478.50" y="1207.80" width="25.07" height="25.55" fill="#f7f5f3" stroke="#c2c2c2" stroke-width="1.4"/>
<rect x="503.57" y="1207.80" width="25.07" height="25.55" fill="#f7f6f5" stroke="#c2c2c2" stroke-width="1.4"/>
<rect x="528.64" y="1207.80" width="25.07" height="25.55" fill="#f8f1ed" stroke="#c2c2c2" stroke-width="1.4"/>
<rect x="553.71" y="1207.80" width="25.07" height="25.55" fill="#f7f6f5" stroke="#c2c2c2" stroke-width="1.4"/>
<rect x="578.78" y="1207.80" width="25.07" height="25.55" fill="#eff3f6" stroke="#c2c2c2" stroke-width="1.4"/>
<rect x="603.85" y="1207.80" width="25.07" height="25.55" fill="#f7f6f5" stroke="#c2c2c2" stroke-width="1.4"/>
<rect x="628.92" y="1207.80" width="25.07" height="25.55" fill="#f9efea" stroke="#c2c2c2" stroke-width="1.4"/>
<rect x="659.30" y="1207.80" width="25.07" height="25.55" fill="#eff3f6" stroke="#c2c2c2" stroke-width="1.4"/>
<rect x="684.37" y="1207.80" width="25.07" height="25.55" fill="#ecf2f5" stroke="#c2c2c2" stroke-width="1.4"/>
<rect x="709.44" y="1207.80" width="25.07" height="25.55" fill="#fce1d1" stroke="#c2c2c2" stroke-width="1.4"/>
<rect x="423.30" y="1233.35" width="25.07" height="25.55" fill="#d9e9f1" stroke="#c2c2c2" stroke-width="1.4"/>
<rect x="448.37" y="1233.35" width="25.07" height="25.55" fill="#d9e9f1" stroke="#c2c2c2" stroke-width="1.4"/>
<rect x="478.50" y="1233.35" width="25.07" height="25.55" fill="#d9e9f1" stroke="#c2c2c2" stroke-width="1.4"/>
<rect x="503.57" y="1233.35" width="25.07" height="25.55" fill="#e5eef4" stroke="#c2c2c2" stroke-width="1.4"/>
<rect x="528.64" y="1233.35" width="25.07" height="25.55" fill="#c4dfec" stroke="#c2c2c2" stroke-width="1.4"/>
<rect x="553.71" y="1233.35" width="25.07" height="25.55" fill="#d9e9f1" stroke="#c2c2c2" stroke-width="1.4"/>
<rect x="578.78" y="1233.35" width="25.07" height="25.55" fill="#f8f4f1" stroke="#c2c2c2" stroke-width="1.4"/>
<rect x="603.85" y="1233.35" width="25.07" height="25.55" fill="#fddbc7" stroke="#c2c2c2" stroke-width="1.4"/>
<rect x="628.92" y="1233.35" width="25.07" height="25.55" fill="#d9e9f1" stroke="#c2c2c2" stroke-width="1.4"/>
<rect x="659.30" y="1233.35" width="25.07" height="25.55" fill="#f2f5f6" stroke="#c2c2c2" stroke-width="1.4"/>
<rect x="684.37" y="1233.35" width="25.07" height="25.55" fill="#f9ece4" stroke="#c2c2c2" stroke-width="1.4"/>
<rect x="709.44" y="1233.35" width="25.07" height="25.55" fill="#f2f5f6" stroke="#c2c2c2" stroke-width="1.4"/>
<rect x="423.30" y="1258.90" width="25.07" height="25.55" fill="#f7f5f3" stroke="#c2c2c2" stroke-width="1.4"/>
<rect x="448.37" y="1258.90" width="25.07" height="25.55" fill="#f7f6f5" stroke="#c2c2c2" stroke-width="1.4"/>
<rect x="478.50" y="1258.90" width="25.07" height="25.55" fill="#f7f6f5" stroke="#c2c2c2" stroke-width="1.4"/>
<rect x="503.57" y="1258.90" width="25.07" height="25.55" fill="#f8f0eb" stroke="#c2c2c2" stroke-width="1.4"/>
<rect x="528.64" y="1258.90" width="25.07" height="25.55" fill="#f5f6f7" stroke="#c2c2c2" stroke-width="1.4"/>
<rect x="553.71" y="1258.90" width="25.07" height="25.55" fill="#f7f5f3" stroke="#c2c2c2" stroke-width="1.4"/>
<rect x="578.78" y="1258.90" width="25.07" height="25.55" fill="#f6b090" stroke="#c2c2c2" stroke-width="1.4"/>
<rect x="603.85" y="1258.90" width="25.07" height="25.55" fill="#b2182b" stroke="#c2c2c2" stroke-width="1.4"/>
<rect x="628.92" y="1258.90" width="25.07" height="25.55" fill="#f9ece4" stroke="#c2c2c2" stroke-width="1.4"/>
<rect x="659.30" y="1258.90" width="25.07" height="25.55" fill="#f9efea" stroke="#c2c2c2" stroke-width="1.4"/>
<rect x="684.37" y="1258.90" width="25.07" height="25.55" fill="#f7f5f3" stroke="#c2c2c2" stroke-width="1.4"/>
<rect x="709.44" y="1258.90" width="25.07" height="25.55" fill="#f2f5f6" stroke="#c2c2c2" stroke-width="1.4"/>
<rect x="423.30" y="1284.45" width="25.07" height="25.55" fill="#fce1d1" stroke="#c2c2c2" stroke-width="1.4"/>
<rect x="448.37" y="1284.45" width="25.07" height="25.55" fill="#f8f0eb" stroke="#c2c2c2" stroke-width="1.4"/>
<rect x="478.50" y="1284.45" width="25.07" height="25.55" fill="#f9ece4" stroke="#c2c2c2" stroke-width="1.4"/>
<rect x="503.57" y="1284.45" width="25.07" height="25.55" fill="#f9ece4" stroke="#c2c2c2" stroke-width="1.4"/>
<rect x="528.64" y="1284.45" width="25.07" height="25.55" fill="#faeae0" stroke="#c2c2c2" stroke-width="1.4"/>
<rect x="553.71" y="1284.45" width="25.07" height="25.55" fill="#f9ece4" stroke="#c2c2c2" stroke-width="1.4"/>
<rect x="578.78" y="1284.45" width="25.07" height="25.55" fill="#f9c5ab" stroke="#c2c2c2" stroke-width="1.4"/>
<rect x="603.85" y="1284.45" width="25.07" height="25.55" fill="#fce1d1" stroke="#c2c2c2" stroke-width="1.4"/>
<rect x="628.92" y="1284.45" width="25.07" height="25.55" fill="#fce1d1" stroke="#c2c2c2" stroke-width="1.4"/>
<rect x="659.30" y="1284.45" width="25.07" height="25.55" fill="#f9efea" stroke="#c2c2c2" stroke-width="1.4"/>
<rect x="684.37" y="1284.45" width="25.07" height="25.55" fill="#d9e9f1" stroke="#c2c2c2" stroke-width="1.4"/>
<rect x="709.44" y="1284.45" width="25.07" height="25.55" fill="#f9ece4" stroke="#c2c2c2" stroke-width="1.4"/>
<use href="#st" x="435.0" y="965.5" fill="#ffffff"/>
<use href="#st" x="460.1" y="965.5" fill="#ffffff"/>
<use href="#st" x="490.2" y="965.5" fill="#ffffff"/>
<use href="#st" x="515.3" y="965.5" fill="#ffffff"/>
<use href="#st" x="540.4" y="965.5" fill="#ffffff"/>
<use href="#st" x="565.4" y="965.5" fill="#ffffff"/>
<use href="#st" x="590.5" y="965.5" fill="#ffffff"/>
<use href="#st" x="615.6" y="965.5" fill="#ffffff"/>
<use href="#st" x="640.7" y="965.5" fill="#ffffff"/>
<use href="#st" x="671.0" y="965.5" fill="#ffffff"/>
<use href="#st" x="696.1" y="965.5" fill="#ffffff"/>
<use href="#st" x="721.2" y="965.5" fill="#ffffff"/>
<use href="#st" x="435.0" y="991.0" fill="#ffffff"/>
<use href="#st" x="460.1" y="991.0" fill="#ffffff"/>
<use href="#st" x="490.2" y="991.0" fill="#ffffff"/>
<use href="#st" x="515.3" y="991.0" fill="#ffffff"/>
<use href="#st" x="540.4" y="991.0" fill="#ffffff"/>
<use href="#st" x="565.4" y="991.0" fill="#ffffff"/>
<use href="#st" x="590.5" y="991.0" fill="#ffffff"/>
<use href="#st" x="615.6" y="991.0" fill="#ffffff"/>
<use href="#st" x="640.7" y="991.0" fill="#ffffff"/>
<use href="#st" x="671.0" y="991.0" fill="#ffffff"/>
<use href="#st" x="696.1" y="991.0" fill="#ffffff"/>
<use href="#st" x="721.2" y="991.0" fill="#ffffff"/>
<use href="#st" x="435.0" y="1016.6" fill="#111"/>
<use href="#st" x="490.2" y="1016.6" fill="#111"/>
<use href="#st" x="515.3" y="1016.6" fill="#111"/>
<use href="#st" x="540.4" y="1016.6" fill="#111"/>
<use href="#st" x="565.4" y="1016.6" fill="#111"/>
<use href="#st" x="590.5" y="1016.6" fill="#ffffff"/>
<use href="#st" x="615.6" y="1016.6" fill="#ffffff"/>
<use href="#st" x="640.7" y="1016.6" fill="#ffffff"/>
<use href="#st" x="671.0" y="1016.6" fill="#ffffff"/>
<use href="#st" x="696.1" y="1016.6" fill="#ffffff"/>
<use href="#st" x="721.2" y="1016.6" fill="#ffffff"/>
<use href="#st" x="565.4" y="1042.1" fill="#111"/>
<use href="#st" x="615.6" y="1042.1" fill="#111"/>
<use href="#st" x="696.1" y="1042.1" fill="#ffffff"/>
<use href="#st" x="721.2" y="1042.1" fill="#111"/>
<use href="#st" x="435.0" y="1067.7" fill="#ffffff"/>
<use href="#st" x="460.1" y="1067.7" fill="#ffffff"/>
<use href="#st" x="515.3" y="1067.7" fill="#111"/>
<use href="#st" x="540.4" y="1067.7" fill="#111"/>
<use href="#st" x="565.4" y="1067.7" fill="#111"/>
<use href="#st" x="590.5" y="1067.7" fill="#ffffff"/>
<use href="#st" x="615.6" y="1067.7" fill="#ffffff"/>
<use href="#st" x="640.7" y="1067.7" fill="#111"/>
<use href="#st" x="671.0" y="1067.7" fill="#ffffff"/>
<use href="#st" x="696.1" y="1067.7" fill="#111"/>
<use href="#st" x="435.0" y="1093.2" fill="#111"/>
<use href="#st" x="490.2" y="1093.2" fill="#111"/>
<use href="#st" x="515.3" y="1093.2" fill="#111"/>
<use href="#st" x="590.5" y="1093.2" fill="#111"/>
<use href="#st" x="615.6" y="1093.2" fill="#111"/>
<use href="#st" x="640.7" y="1093.2" fill="#111"/>
<use href="#st" x="671.0" y="1093.2" fill="#111"/>
<use href="#st" x="460.1" y="1118.8" fill="#111"/>
<use href="#st" x="615.6" y="1118.8" fill="#111"/>
<use href="#st" x="696.1" y="1118.8" fill="#111"/>
<use href="#st" x="721.2" y="1118.8" fill="#111"/>
<use href="#st" x="490.2" y="1144.3" fill="#111"/>
<use href="#st" x="540.4" y="1144.3" fill="#111"/>
<use href="#st" x="565.4" y="1144.3" fill="#111"/>
<use href="#st" x="590.5" y="1144.3" fill="#111"/>
<use href="#st" x="615.6" y="1144.3" fill="#111"/>
<use href="#st" x="640.7" y="1144.3" fill="#111"/>
<use href="#st" x="671.0" y="1144.3" fill="#111"/>
<use href="#st" x="696.1" y="1144.3" fill="#111"/>
<use href="#st" x="721.2" y="1144.3" fill="#111"/>
<use href="#st" x="435.0" y="1169.9" fill="#111"/>
<use href="#st" x="490.2" y="1169.9" fill="#111"/>
<use href="#st" x="515.3" y="1169.9" fill="#111"/>
<use href="#st" x="540.4" y="1169.9" fill="#111"/>
<use href="#st" x="565.4" y="1169.9" fill="#111"/>
<use href="#st" x="590.5" y="1169.9" fill="#111"/>
<use href="#st" x="615.6" y="1169.9" fill="#111"/>
<use href="#st" x="640.7" y="1169.9" fill="#111"/>
<use href="#st" x="671.0" y="1169.9" fill="#111"/>
<use href="#st" x="721.2" y="1221.0" fill="#111"/>
<use href="#st" x="435.0" y="1246.5" fill="#111"/>
<use href="#st" x="460.1" y="1246.5" fill="#111"/>
<use href="#st" x="490.2" y="1246.5" fill="#111"/>
<use href="#st" x="515.3" y="1246.5" fill="#111"/>
<use href="#st" x="540.4" y="1246.5" fill="#111"/>
<use href="#st" x="565.4" y="1246.5" fill="#111"/>
<use href="#st" x="615.6" y="1246.5" fill="#111"/>
<use href="#st" x="640.7" y="1246.5" fill="#111"/>
<use href="#st" x="590.5" y="1272.1" fill="#111"/>
<use href="#st" x="615.6" y="1272.1" fill="#ffffff"/>
<use href="#st" x="435.0" y="1297.6" fill="#111"/>
<use href="#st" x="540.4" y="1297.6" fill="#111"/>
<use href="#st" x="590.5" y="1297.6" fill="#111"/>
<use href="#st" x="615.6" y="1297.6" fill="#111"/>
<use href="#st" x="640.7" y="1297.6" fill="#111"/>
<use href="#st" x="696.1" y="1297.6" fill="#111"/>
<rect x="423.30" y="952.30" width="50.14" height="357.70" fill="none" stroke="#000" stroke-width="2.3" stroke-linejoin="round"/>
<rect x="478.50" y="952.30" width="175.49" height="357.70" fill="none" stroke="#000" stroke-width="2.3" stroke-linejoin="round"/>
<rect x="659.30" y="952.30" width="75.21" height="357.70" fill="none" stroke="#000" stroke-width="2.3" stroke-linejoin="round"/>
<text transform="translate(443.6,916.0) rotate(-90)" font-size="20.6" fill="#1a1a1a" textLength="67.6" lengthAdjust="spacingAndGlyphs">B naive</text>
<text transform="translate(468.7,916.0) rotate(-90)" font-size="20.6" fill="#1a1a1a" textLength="112.0" lengthAdjust="spacingAndGlyphs">B non-naive</text>
<text transform="translate(498.8,916.0) rotate(-90)" font-size="20.6" fill="#1a1a1a" textLength="104.7" lengthAdjust="spacingAndGlyphs">CD4<tspan dy="-8" font-size="14">+</tspan><tspan dy="8"> naive</tspan></text>
<text transform="translate(523.9,916.0) rotate(-90)" font-size="20.6" fill="#1a1a1a" textLength="147.7" lengthAdjust="spacingAndGlyphs">CD4<tspan dy="-8" font-size="14">+</tspan><tspan dy="8"> non-naive</tspan></text>
<text transform="translate(549.0,916.0) rotate(-90)" font-size="20.6" fill="#1a1a1a" textLength="86.5" lengthAdjust="spacingAndGlyphs">CD4<tspan dy="-8" font-size="14">+</tspan><tspan dy="8"> T</tspan><tspan dy="6" font-size="14">reg</tspan></text>
<text transform="translate(574.0,916.0) rotate(-90)" font-size="20.6" fill="#1a1a1a" textLength="104.7" lengthAdjust="spacingAndGlyphs">CD8<tspan dy="-8" font-size="14">+</tspan><tspan dy="8"> naive</tspan></text>
<text transform="translate(599.1,916.0) rotate(-90)" font-size="20.6" fill="#1a1a1a" textLength="148.7" lengthAdjust="spacingAndGlyphs">CD8<tspan dy="-8" font-size="14">+</tspan><tspan dy="8"> non-naive</tspan></text>
<text transform="translate(624.2,916.0) rotate(-90)" font-size="20.6" fill="#1a1a1a" textLength="29.4" lengthAdjust="spacingAndGlyphs">NK</text>
<text transform="translate(649.3,916.0) rotate(-90)" font-size="20.6" fill="#1a1a1a" textLength="71.3" lengthAdjust="spacingAndGlyphs">Innate T</text>
<text transform="translate(679.6,916.0) rotate(-90)" font-size="20.6" fill="#1a1a1a" textLength="192.4" lengthAdjust="spacingAndGlyphs">Classical monocytes</text>
<text transform="translate(704.7,916.0) rotate(-90)" font-size="20.6" fill="#1a1a1a" textLength="235.6" lengthAdjust="spacingAndGlyphs">Non-classical monocytes</text>
<text transform="translate(729.8,916.0) rotate(-90)" font-size="20.6" fill="#1a1a1a" textLength="226.5" lengthAdjust="spacingAndGlyphs">Intermediate monocytes</text>
<text x="575.3" y="679.2" font-size="20.6" text-anchor="middle" fill="#1a1a1a" textLength="122.2" lengthAdjust="spacingAndGlyphs">C1D15/C1D1</text>
<rect x="763.20" y="921.4" width="25.37" height="25.4" fill="#cddff0"/>
<rect x="788.27" y="921.4" width="25.37" height="25.4" fill="#72b0da"/>
<rect x="818.40" y="921.4" width="25.37" height="25.4" fill="#e6e2f0"/>
<rect x="843.47" y="921.4" width="25.37" height="25.4" fill="#5b2c8f"/>
<rect x="868.54" y="921.4" width="25.37" height="25.4" fill="#8080bd"/>
<rect x="893.61" y="921.4" width="25.37" height="25.4" fill="#a3d49c"/>
<rect x="918.68" y="921.4" width="25.37" height="25.4" fill="#228b47"/>
<rect x="943.75" y="921.4" width="25.37" height="25.4" fill="#f58a41"/>
<rect x="968.82" y="921.4" width="25.37" height="25.4" fill="#ee68a4"/>
<rect x="999.20" y="921.4" width="25.37" height="25.4" fill="#ae5a28"/>
<rect x="1024.27" y="921.4" width="25.37" height="25.4" fill="#fbe5c8"/>
<rect x="1049.34" y="921.4" width="25.37" height="25.4" fill="#f3a544"/>
<rect x="763.20" y="952.30" width="25.07" height="25.55" fill="#f8f1ed" stroke="#c2c2c2" stroke-width="1.4"/>
<rect x="788.27" y="952.30" width="25.07" height="25.55" fill="#f1f4f6" stroke="#c2c2c2" stroke-width="1.4"/>
<rect x="818.40" y="952.30" width="25.07" height="25.55" fill="#fbe6da" stroke="#c2c2c2" stroke-width="1.4"/>
<rect x="843.47" y="952.30" width="25.07" height="25.55" fill="#fce1d1" stroke="#c2c2c2" stroke-width="1.4"/>
<rect x="868.54" y="952.30" width="25.07" height="25.55" fill="#f8f1ed" stroke="#c2c2c2" stroke-width="1.4"/>
<rect x="893.61" y="952.30" width="25.07" height="25.55" fill="#f9ece4" stroke="#c2c2c2" stroke-width="1.4"/>
<rect x="918.68" y="952.30" width="25.07" height="25.55" fill="#f9c5ab" stroke="#c2c2c2" stroke-width="1.4"/>
<rect x="943.75" y="952.30" width="25.07" height="25.55" fill="#cf5246" stroke="#c2c2c2" stroke-width="1.4"/>
<rect x="968.82" y="952.30" width="25.07" height="25.55" fill="#f8f1ed" stroke="#c2c2c2" stroke-width="1.4"/>
<rect x="999.20" y="952.30" width="25.07" height="25.55" fill="#c8433f" stroke="#c2c2c2" stroke-width="1.4"/>
<rect x="1024.27" y="952.30" width="25.07" height="25.55" fill="#f9efea" stroke="#c2c2c2" stroke-width="1.4"/>
<rect x="1049.34" y="952.30" width="25.07" height="25.55" fill="#b2182b" stroke="#c2c2c2" stroke-width="1.4"/>
<rect x="763.20" y="977.85" width="25.07" height="25.55" fill="#f7f7f7" stroke="#c2c2c2" stroke-width="1.4"/>
<rect x="788.27" y="977.85" width="25.07" height="25.55" fill="#f1f4f6" stroke="#c2c2c2" stroke-width="1.4"/>
<rect x="818.40" y="977.85" width="25.07" height="25.55" fill="#f7f6f5" stroke="#c2c2c2" stroke-width="1.4"/>
<rect x="843.47" y="977.85" width="25.07" height="25.55" fill="#fce1d1" stroke="#c2c2c2" stroke-width="1.4"/>
<rect x="868.54" y="977.85" width="25.07" height="25.55" fill="#f1f4f6" stroke="#c2c2c2" stroke-width="1.4"/>
<rect x="893.61" y="977.85" width="25.07" height="25.55" fill="#f1f4f6" stroke="#c2c2c2" stroke-width="1.4"/>
<rect x="918.68" y="977.85" width="25.07" height="25.55" fill="#f9c5ab" stroke="#c2c2c2" stroke-width="1.4"/>
<rect x="943.75" y="977.85" width="25.07" height="25.55" fill="#e27c62" stroke="#c2c2c2" stroke-width="1.4"/>
<rect x="968.82" y="977.85" width="25.07" height="25.55" fill="#faeae0" stroke="#c2c2c2" stroke-width="1.4"/>
<rect x="999.20" y="977.85" width="25.07" height="25.55" fill="#f9c5ab" stroke="#c2c2c2" stroke-width="1.4"/>
<rect x="1024.27" y="977.85" width="25.07" height="25.55" fill="#f9efea" stroke="#c2c2c2" stroke-width="1.4"/>
<rect x="1049.34" y="977.85" width="25.07" height="25.55" fill="#b2182b" stroke="#c2c2c2" stroke-width="1.4"/>
<rect x="763.20" y="1003.40" width="25.07" height="25.55" fill="#f4f6f6" stroke="#c2c2c2" stroke-width="1.4"/>
<rect x="788.27" y="1003.40" width="25.07" height="25.55" fill="#fbe6da" stroke="#c2c2c2" stroke-width="1.4"/>
<rect x="818.40" y="1003.40" width="25.07" height="25.55" fill="#f4f6f6" stroke="#c2c2c2" stroke-width="1.4"/>
<rect x="843.47" y="1003.40" width="25.07" height="25.55" fill="#f7f6f5" stroke="#c2c2c2" stroke-width="1.4"/>
<rect x="868.54" y="1003.40" width="25.07" height="25.55" fill="#ecf2f5" stroke="#c2c2c2" stroke-width="1.4"/>
<rect x="893.61" y="1003.40" width="25.07" height="25.55" fill="#f5f6f7" stroke="#c2c2c2" stroke-width="1.4"/>
<rect x="918.68" y="1003.40" width="25.07" height="25.55" fill="#e27c62" stroke="#c2c2c2" stroke-width="1.4"/>
<rect x="943.75" y="1003.40" width="25.07" height="25.55" fill="#f8bb9e" stroke="#c2c2c2" stroke-width="1.4"/>
<rect x="968.82" y="1003.40" width="25.07" height="25.55" fill="#fce1d1" stroke="#c2c2c2" stroke-width="1.4"/>
<rect x="999.20" y="1003.40" width="25.07" height="25.55" fill="#b2182b" stroke="#c2c2c2" stroke-width="1.4"/>
<rect x="1024.27" y="1003.40" width="25.07" height="25.55" fill="#d1e5f0" stroke="#c2c2c2" stroke-width="1.4"/>
<rect x="1049.34" y="1003.40" width="25.07" height="25.55" fill="#b2182b" stroke="#c2c2c2" stroke-width="1.4"/>
<rect x="763.20" y="1028.95" width="25.07" height="25.55" fill="#f7f7f7" stroke="#c2c2c2" stroke-width="1.4"/>
<rect x="788.27" y="1028.95" width="25.07" height="25.55" fill="#f8f3ef" stroke="#c2c2c2" stroke-width="1.4"/>
<rect x="818.40" y="1028.95" width="25.07" height="25.55" fill="#e8f0f4" stroke="#c2c2c2" stroke-width="1.4"/>
<rect x="843.47" y="1028.95" width="25.07" height="25.55" fill="#ecf2f5" stroke="#c2c2c2" stroke-width="1.4"/>
<rect x="868.54" y="1028.95" width="25.07" height="25.55" fill="#3c8abe" stroke="#c2c2c2" stroke-width="1.4"/>
<rect x="893.61" y="1028.95" width="25.07" height="25.55" fill="#b8d8e9" stroke="#c2c2c2" stroke-width="1.4"/>
<rect x="918.68" y="1028.95" width="25.07" height="25.55" fill="#fce1d1" stroke="#c2c2c2" stroke-width="1.4"/>
<rect x="943.75" y="1028.95" width="25.07" height="25.55" fill="#f9ece4" stroke="#c2c2c2" stroke-width="1.4"/>
<rect x="968.82" y="1028.95" width="25.07" height="25.55" fill="#f8f0eb" stroke="#c2c2c2" stroke-width="1.4"/>
<rect x="999.20" y="1028.95" width="25.07" height="25.55" fill="#f6b090" stroke="#c2c2c2" stroke-width="1.4"/>
<rect x="1024.27" y="1028.95" width="25.07" height="25.55" fill="#f4f6f6" stroke="#c2c2c2" stroke-width="1.4"/>
<rect x="1049.34" y="1028.95" width="25.07" height="25.55" fill="#b2182b" stroke="#c2c2c2" stroke-width="1.4"/>
<rect x="763.20" y="1054.50" width="25.07" height="25.55" fill="#9fcbe2" stroke="#c2c2c2" stroke-width="1.4"/>
<rect x="788.27" y="1054.50" width="25.07" height="25.55" fill="#b8d8e9" stroke="#c2c2c2" stroke-width="1.4"/>
<rect x="818.40" y="1054.50" width="25.07" height="25.55" fill="#539dc8" stroke="#c2c2c2" stroke-width="1.4"/>
<rect x="843.47" y="1054.50" width="25.07" height="25.55" fill="#ecf2f5" stroke="#c2c2c2" stroke-width="1.4"/>
<rect x="868.54" y="1054.50" width="25.07" height="25.55" fill="#82bbd9" stroke="#c2c2c2" stroke-width="1.4"/>
<rect x="893.61" y="1054.50" width="25.07" height="25.55" fill="#9fcbe2" stroke="#c2c2c2" stroke-width="1.4"/>
<rect x="918.68" y="1054.50" width="25.07" height="25.55" fill="#f7f7f7" stroke="#c2c2c2" stroke-width="1.4"/>
<rect x="943.75" y="1054.50" width="25.07" height="25.55" fill="#f7f7f7" stroke="#c2c2c2" stroke-width="1.4"/>
<rect x="968.82" y="1054.50" width="25.07" height="25.55" fill="#f6b090" stroke="#c2c2c2" stroke-width="1.4"/>
<rect x="999.20" y="1054.50" width="25.07" height="25.55" fill="#2166ac" stroke="#c2c2c2" stroke-width="1.4"/>
<rect x="1024.27" y="1054.50" width="25.07" height="25.55" fill="#abd2e5" stroke="#c2c2c2" stroke-width="1.4"/>
<rect x="1049.34" y="1054.50" width="25.07" height="25.55" fill="#ecf2f5" stroke="#c2c2c2" stroke-width="1.4"/>
<rect x="763.20" y="1080.05" width="25.07" height="25.55" fill="#d1e5f0" stroke="#c2c2c2" stroke-width="1.4"/>
<rect x="788.27" y="1080.05" width="25.07" height="25.55" fill="#ecf2f5" stroke="#c2c2c2" stroke-width="1.4"/>
<rect x="818.40" y="1080.05" width="25.07" height="25.55" fill="#e8f0f4" stroke="#c2c2c2" stroke-width="1.4"/>
<rect x="843.47" y="1080.05" width="25.07" height="25.55" fill="#ecf2f5" stroke="#c2c2c2" stroke-width="1.4"/>
<rect x="868.54" y="1080.05" width="25.07" height="25.55" fill="#f7f7f7" stroke="#c2c2c2" stroke-width="1.4"/>
<rect x="893.61" y="1080.05" width="25.07" height="25.55" fill="#ebf1f5" stroke="#c2c2c2" stroke-width="1.4"/>
<rect x="918.68" y="1080.05" width="25.07" height="25.55" fill="#d9e9f1" stroke="#c2c2c2" stroke-width="1.4"/>
<rect x="943.75" y="1080.05" width="25.07" height="25.55" fill="#eff3f6" stroke="#c2c2c2" stroke-width="1.4"/>
<rect x="968.82" y="1080.05" width="25.07" height="25.55" fill="#d9e9f1" stroke="#c2c2c2" stroke-width="1.4"/>
<rect x="999.20" y="1080.05" width="25.07" height="25.55" fill="#e8f0f4" stroke="#c2c2c2" stroke-width="1.4"/>
<rect x="1024.27" y="1080.05" width="25.07" height="25.55" fill="#f4f6f6" stroke="#c2c2c2" stroke-width="1.4"/>
<rect x="1049.34" y="1080.05" width="25.07" height="25.55" fill="#f2f5f6" stroke="#c2c2c2" stroke-width="1.4"/>
<rect x="763.20" y="1105.60" width="25.07" height="25.55" fill="#ecf2f5" stroke="#c2c2c2" stroke-width="1.4"/>
<rect x="788.27" y="1105.60" width="25.07" height="25.55" fill="#f4f6f6" stroke="#c2c2c2" stroke-width="1.4"/>
<rect x="818.40" y="1105.60" width="25.07" height="25.55" fill="#c4dfec" stroke="#c2c2c2" stroke-width="1.4"/>
<rect x="843.47" y="1105.60" width="25.07" height="25.55" fill="#ecf2f5" stroke="#c2c2c2" stroke-width="1.4"/>
<rect x="868.54" y="1105.60" width="25.07" height="25.55" fill="#d9e9f1" stroke="#c2c2c2" stroke-width="1.4"/>
<rect x="893.61" y="1105.60" width="25.07" height="25.55" fill="#d9e9f1" stroke="#c2c2c2" stroke-width="1.4"/>
<rect x="918.68" y="1105.60" width="25.07" height="25.55" fill="#f4f6f6" stroke="#c2c2c2" stroke-width="1.4"/>
<rect x="943.75" y="1105.60" width="25.07" height="25.55" fill="#f5f6f7" stroke="#c2c2c2" stroke-width="1.4"/>
<rect x="968.82" y="1105.60" width="25.07" height="25.55" fill="#f8f3ef" stroke="#c2c2c2" stroke-width="1.4"/>
<rect x="999.20" y="1105.60" width="25.07" height="25.55" fill="#e8f0f4" stroke="#c2c2c2" stroke-width="1.4"/>
<rect x="1024.27" y="1105.60" width="25.07" height="25.55" fill="#e0ecf3" stroke="#c2c2c2" stroke-width="1.4"/>
<rect x="1049.34" y="1105.60" width="25.07" height="25.55" fill="#fae8de" stroke="#c2c2c2" stroke-width="1.4"/>
<rect x="763.20" y="1131.15" width="25.07" height="25.55" fill="#f4f6f6" stroke="#c2c2c2" stroke-width="1.4"/>
<rect x="788.27" y="1131.15" width="25.07" height="25.55" fill="#f9ece4" stroke="#c2c2c2" stroke-width="1.4"/>
<rect x="818.40" y="1131.15" width="25.07" height="25.55" fill="#f5f6f7" stroke="#c2c2c2" stroke-width="1.4"/>
<rect x="843.47" y="1131.15" width="25.07" height="25.55" fill="#f7f5f3" stroke="#c2c2c2" stroke-width="1.4"/>
<rect x="868.54" y="1131.15" width="25.07" height="25.55" fill="#f5f6f7" stroke="#c2c2c2" stroke-width="1.4"/>
<rect x="893.61" y="1131.15" width="25.07" height="25.55" fill="#f2f5f6" stroke="#c2c2c2" stroke-width="1.4"/>
<rect x="918.68" y="1131.15" width="25.07" height="25.55" fill="#fce1d1" stroke="#c2c2c2" stroke-width="1.4"/>
<rect x="943.75" y="1131.15" width="25.07" height="25.55" fill="#f9ece4" stroke="#c2c2c2" stroke-width="1.4"/>
<rect x="968.82" y="1131.15" width="25.07" height="25.55" fill="#f5f6f7" stroke="#c2c2c2" stroke-width="1.4"/>
<rect x="999.20" y="1131.15" width="25.07" height="25.55" fill="#fce1d1" stroke="#c2c2c2" stroke-width="1.4"/>
<rect x="1024.27" y="1131.15" width="25.07" height="25.55" fill="#eff3f6" stroke="#c2c2c2" stroke-width="1.4"/>
<rect x="1049.34" y="1131.15" width="25.07" height="25.55" fill="#fce1d1" stroke="#c2c2c2" stroke-width="1.4"/>
<rect x="763.20" y="1156.70" width="25.07" height="25.55" fill="#f4f6f6" stroke="#c2c2c2" stroke-width="1.4"/>
<rect x="788.27" y="1156.70" width="25.07" height="25.55" fill="#f9ece4" stroke="#c2c2c2" stroke-width="1.4"/>
<rect x="818.40" y="1156.70" width="25.07" height="25.55" fill="#f5f6f7" stroke="#c2c2c2" stroke-width="1.4"/>
<rect x="843.47" y="1156.70" width="25.07" height="25.55" fill="#f8f0eb" stroke="#c2c2c2" stroke-width="1.4"/>
<rect x="868.54" y="1156.70" width="25.07" height="25.55" fill="#f5f6f7" stroke="#c2c2c2" stroke-width="1.4"/>
<rect x="893.61" y="1156.70" width="25.07" height="25.55" fill="#f2f5f6" stroke="#c2c2c2" stroke-width="1.4"/>
<rect x="918.68" y="1156.70" width="25.07" height="25.55" fill="#fce1d1" stroke="#c2c2c2" stroke-width="1.4"/>
<rect x="943.75" y="1156.70" width="25.07" height="25.55" fill="#fbe6da" stroke="#c2c2c2" stroke-width="1.4"/>
<rect x="968.82" y="1156.70" width="25.07" height="25.55" fill="#f8f1ed" stroke="#c2c2c2" stroke-width="1.4"/>
<rect x="999.20" y="1156.70" width="25.07" height="25.55" fill="#fce1d1" stroke="#c2c2c2" stroke-width="1.4"/>
<rect x="1024.27" y="1156.70" width="25.07" height="25.55" fill="#eff3f6" stroke="#c2c2c2" stroke-width="1.4"/>
<rect x="1049.34" y="1156.70" width="25.07" height="25.55" fill="#f9eee8" stroke="#c2c2c2" stroke-width="1.4"/>
<rect x="763.20" y="1182.25" width="25.07" height="25.55" fill="#f4f6f6" stroke="#c2c2c2" stroke-width="1.4"/>
<rect x="788.27" y="1182.25" width="25.07" height="25.55" fill="#f1f4f6" stroke="#c2c2c2" stroke-width="1.4"/>
<rect x="818.40" y="1182.25" width="25.07" height="25.55" fill="#e8f0f4" stroke="#c2c2c2" stroke-width="1.4"/>
<rect x="843.47" y="1182.25" width="25.07" height="25.55" fill="#f4f6f6" stroke="#c2c2c2" stroke-width="1.4"/>
<rect x="868.54" y="1182.25" width="25.07" height="25.55" fill="#eff3f6" stroke="#c2c2c2" stroke-width="1.4"/>
<rect x="893.61" y="1182.25" width="25.07" height="25.55" fill="#e8f0f4" stroke="#c2c2c2" stroke-width="1.4"/>
<rect x="918.68" y="1182.25" width="25.07" height="25.55" fill="#f8f4f1" stroke="#c2c2c2" stroke-width="1.4"/>
<rect x="943.75" y="1182.25" width="25.07" height="25.55" fill="#fae8de" stroke="#c2c2c2" stroke-width="1.4"/>
<rect x="968.82" y="1182.25" width="25.07" height="25.55" fill="#f8f1ed" stroke="#c2c2c2" stroke-width="1.4"/>
<rect x="999.20" y="1182.25" width="25.07" height="25.55" fill="#d9e9f1" stroke="#c2c2c2" stroke-width="1.4"/>
<rect x="1024.27" y="1182.25" width="25.07" height="25.55" fill="#eff3f6" stroke="#c2c2c2" stroke-width="1.4"/>
<rect x="1049.34" y="1182.25" width="25.07" height="25.55" fill="#f7f5f3" stroke="#c2c2c2" stroke-width="1.4"/>
<rect x="763.20" y="1207.80" width="25.07" height="25.55" fill="#eef3f5" stroke="#c2c2c2" stroke-width="1.4"/>
<rect x="788.27" y="1207.80" width="25.07" height="25.55" fill="#ecf2f5" stroke="#c2c2c2" stroke-width="1.4"/>
<rect x="818.40" y="1207.80" width="25.07" height="25.55" fill="#e8f0f4" stroke="#c2c2c2" stroke-width="1.4"/>
<rect x="843.47" y="1207.80" width="25.07" height="25.55" fill="#f4f6f6" stroke="#c2c2c2" stroke-width="1.4"/>
<rect x="868.54" y="1207.80" width="25.07" height="25.55" fill="#d9e9f1" stroke="#c2c2c2" stroke-width="1.4"/>
<rect x="893.61" y="1207.80" width="25.07" height="25.55" fill="#d9e9f1" stroke="#c2c2c2" stroke-width="1.4"/>
<rect x="918.68" y="1207.80" width="25.07" height="25.55" fill="#f8f0eb" stroke="#c2c2c2" stroke-width="1.4"/>
<rect x="943.75" y="1207.80" width="25.07" height="25.55" fill="#fae8de" stroke="#c2c2c2" stroke-width="1.4"/>
<rect x="968.82" y="1207.80" width="25.07" height="25.55" fill="#f9ede6" stroke="#c2c2c2" stroke-width="1.4"/>
<rect x="999.20" y="1207.80" width="25.07" height="25.55" fill="#ecf2f5" stroke="#c2c2c2" stroke-width="1.4"/>
<rect x="1024.27" y="1207.80" width="25.07" height="25.55" fill="#e0ecf3" stroke="#c2c2c2" stroke-width="1.4"/>
<rect x="1049.34" y="1207.80" width="25.07" height="25.55" fill="#f7f6f5" stroke="#c2c2c2" stroke-width="1.4"/>
<rect x="763.20" y="1233.35" width="25.07" height="25.55" fill="#f4f6f6" stroke="#c2c2c2" stroke-width="1.4"/>
<rect x="788.27" y="1233.35" width="25.07" height="25.55" fill="#f4f6f6" stroke="#c2c2c2" stroke-width="1.4"/>
<rect x="818.40" y="1233.35" width="25.07" height="25.55" fill="#eff3f6" stroke="#c2c2c2" stroke-width="1.4"/>
<rect x="843.47" y="1233.35" width="25.07" height="25.55" fill="#f4f6f6" stroke="#c2c2c2" stroke-width="1.4"/>
<rect x="868.54" y="1233.35" width="25.07" height="25.55" fill="#e0ecf3" stroke="#c2c2c2" stroke-width="1.4"/>
<rect x="893.61" y="1233.35" width="25.07" height="25.55" fill="#ebf1f5" stroke="#c2c2c2" stroke-width="1.4"/>
<rect x="918.68" y="1233.35" width="25.07" height="25.55" fill="#f6b090" stroke="#c2c2c2" stroke-width="1.4"/>
<rect x="943.75" y="1233.35" width="25.07" height="25.55" fill="#fce1d1" stroke="#c2c2c2" stroke-width="1.4"/>
<rect x="968.82" y="1233.35" width="25.07" height="25.55" fill="#f8f4f1" stroke="#c2c2c2" stroke-width="1.4"/>
<rect x="999.20" y="1233.35" width="25.07" height="25.55" fill="#f4f6f6" stroke="#c2c2c2" stroke-width="1.4"/>
<rect x="1024.27" y="1233.35" width="25.07" height="25.55" fill="#f8f0eb" stroke="#c2c2c2" stroke-width="1.4"/>
<rect x="1049.34" y="1233.35" width="25.07" height="25.55" fill="#f8f1ed" stroke="#c2c2c2" stroke-width="1.4"/>
<rect x="763.20" y="1258.90" width="25.07" height="25.55" fill="#f4f6f6" stroke="#c2c2c2" stroke-width="1.4"/>
<rect x="788.27" y="1258.90" width="25.07" height="25.55" fill="#f8f4f1" stroke="#c2c2c2" stroke-width="1.4"/>
<rect x="818.40" y="1258.90" width="25.07" height="25.55" fill="#f7f7f7" stroke="#c2c2c2" stroke-width="1.4"/>
<rect x="843.47" y="1258.90" width="25.07" height="25.55" fill="#f8f4f1" stroke="#c2c2c2" stroke-width="1.4"/>
<rect x="868.54" y="1258.90" width="25.07" height="25.55" fill="#eff3f6" stroke="#c2c2c2" stroke-width="1.4"/>
<rect x="893.61" y="1258.90" width="25.07" height="25.55" fill="#f5f6f7" stroke="#c2c2c2" stroke-width="1.4"/>
<rect x="918.68" y="1258.90" width="25.07" height="25.55" fill="#b2182b" stroke="#c2c2c2" stroke-width="1.4"/>
<rect x="943.75" y="1258.90" width="25.07" height="25.55" fill="#fbd0b9" stroke="#c2c2c2" stroke-width="1.4"/>
<rect x="968.82" y="1258.90" width="25.07" height="25.55" fill="#f8f4f1" stroke="#c2c2c2" stroke-width="1.4"/>
<rect x="999.20" y="1258.90" width="25.07" height="25.55" fill="#fbe6da" stroke="#c2c2c2" stroke-width="1.4"/>
<rect x="1024.27" y="1258.90" width="25.07" height="25.55" fill="#f5f6f7" stroke="#c2c2c2" stroke-width="1.4"/>
<rect x="1049.34" y="1258.90" width="25.07" height="25.55" fill="#f4f6f6" stroke="#c2c2c2" stroke-width="1.4"/>
<rect x="763.20" y="1284.45" width="25.07" height="25.55" fill="#f4f6f6" stroke="#c2c2c2" stroke-width="1.4"/>
<rect x="788.27" y="1284.45" width="25.07" height="25.55" fill="#fbe3d4" stroke="#c2c2c2" stroke-width="1.4"/>
<rect x="818.40" y="1284.45" width="25.07" height="25.55" fill="#f2f5f6" stroke="#c2c2c2" stroke-width="1.4"/>
<rect x="843.47" y="1284.45" width="25.07" height="25.55" fill="#f8f4f1" stroke="#c2c2c2" stroke-width="1.4"/>
<rect x="868.54" y="1284.45" width="25.07" height="25.55" fill="#f5f6f7" stroke="#c2c2c2" stroke-width="1.4"/>
<rect x="893.61" y="1284.45" width="25.07" height="25.55" fill="#f4f6f6" stroke="#c2c2c2" stroke-width="1.4"/>
<rect x="918.68" y="1284.45" width="25.07" height="25.55" fill="#fae8de" stroke="#c2c2c2" stroke-width="1.4"/>
<rect x="943.75" y="1284.45" width="25.07" height="25.55" fill="#fbe6da" stroke="#c2c2c2" stroke-width="1.4"/>
<rect x="968.82" y="1284.45" width="25.07" height="25.55" fill="#f2f5f6" stroke="#c2c2c2" stroke-width="1.4"/>
<rect x="999.20" y="1284.45" width="25.07" height="25.55" fill="#fce1d1" stroke="#c2c2c2" stroke-width="1.4"/>
<rect x="1024.27" y="1284.45" width="25.07" height="25.55" fill="#eff3f6" stroke="#c2c2c2" stroke-width="1.4"/>
<rect x="1049.34" y="1284.45" width="25.07" height="25.55" fill="#fbe6da" stroke="#c2c2c2" stroke-width="1.4"/>
<use href="#st" x="830.1" y="965.5" fill="#111"/>
<use href="#st" x="855.2" y="965.5" fill="#111"/>
<use href="#st" x="930.4" y="965.5" fill="#111"/>
<use href="#st" x="955.5" y="965.5" fill="#111"/>
<use href="#st" x="1010.9" y="965.5" fill="#ffffff"/>
<use href="#st" x="1061.1" y="965.5" fill="#ffffff"/>
<use href="#st" x="855.2" y="991.0" fill="#111"/>
<use href="#st" x="930.4" y="991.0" fill="#111"/>
<use href="#st" x="955.5" y="991.0" fill="#111"/>
<use href="#st" x="1010.9" y="991.0" fill="#111"/>
<use href="#st" x="1061.1" y="991.0" fill="#ffffff"/>
<use href="#st" x="800.0" y="1016.6" fill="#111"/>
<use href="#st" x="930.4" y="1016.6" fill="#111"/>
<use href="#st" x="955.5" y="1016.6" fill="#111"/>
<use href="#st" x="980.6" y="1016.6" fill="#111"/>
<use href="#st" x="1010.9" y="1016.6" fill="#ffffff"/>
<use href="#st" x="1036.0" y="1016.6" fill="#111"/>
<use href="#st" x="1061.1" y="1016.6" fill="#ffffff"/>
<use href="#st" x="830.1" y="1042.1" fill="#111"/>
<use href="#st" x="880.3" y="1042.1" fill="#111"/>
<use href="#st" x="905.3" y="1042.1" fill="#111"/>
<use href="#st" x="930.4" y="1042.1" fill="#111"/>
<use href="#st" x="1010.9" y="1042.1" fill="#111"/>
<use href="#st" x="1061.1" y="1042.1" fill="#ffffff"/>
<use href="#st" x="774.9" y="1067.7" fill="#111"/>
<use href="#st" x="800.0" y="1067.7" fill="#111"/>
<use href="#st" x="830.1" y="1067.7" fill="#111"/>
<use href="#st" x="880.3" y="1067.7" fill="#111"/>
<use href="#st" x="905.3" y="1067.7" fill="#111"/>
<use href="#st" x="980.6" y="1067.7" fill="#111"/>
<use href="#st" x="1010.9" y="1067.7" fill="#ffffff"/>
<use href="#st" x="1036.0" y="1067.7" fill="#111"/>
<use href="#st" x="774.9" y="1093.2" fill="#111"/>
<use href="#st" x="830.1" y="1093.2" fill="#111"/>
<use href="#st" x="930.4" y="1093.2" fill="#111"/>
<use href="#st" x="980.6" y="1093.2" fill="#111"/>
<use href="#st" x="1010.9" y="1093.2" fill="#111"/>
<use href="#st" x="830.1" y="1118.8" fill="#111"/>
<use href="#st" x="880.3" y="1118.8" fill="#111"/>
<use href="#st" x="905.3" y="1118.8" fill="#111"/>
<use href="#st" x="1010.9" y="1118.8" fill="#111"/>
<use href="#st" x="1036.0" y="1118.8" fill="#111"/>
<use href="#st" x="930.4" y="1144.3" fill="#111"/>
<use href="#st" x="1010.9" y="1144.3" fill="#111"/>
<use href="#st" x="1061.1" y="1144.3" fill="#111"/>
<use href="#st" x="930.4" y="1169.9" fill="#111"/>
<use href="#st" x="955.5" y="1169.9" fill="#111"/>
<use href="#st" x="1010.9" y="1169.9" fill="#111"/>
<use href="#st" x="830.1" y="1195.4" fill="#111"/>
<use href="#st" x="905.3" y="1195.4" fill="#111"/>
<use href="#st" x="955.5" y="1195.4" fill="#111"/>
<use href="#st" x="1010.9" y="1195.4" fill="#111"/>
<use href="#st" x="830.1" y="1221.0" fill="#111"/>
<use href="#st" x="880.3" y="1221.0" fill="#111"/>
<use href="#st" x="905.3" y="1221.0" fill="#111"/>
<use href="#st" x="955.5" y="1221.0" fill="#111"/>
<use href="#st" x="1036.0" y="1221.0" fill="#111"/>
<use href="#st" x="880.3" y="1246.5" fill="#111"/>
<use href="#st" x="930.4" y="1246.5" fill="#111"/>
<use href="#st" x="955.5" y="1246.5" fill="#111"/>
<use href="#st" x="930.4" y="1272.1" fill="#ffffff"/>
<use href="#st" x="955.5" y="1272.1" fill="#111"/>
<use href="#st" x="1010.9" y="1272.1" fill="#111"/>
<use href="#st" x="800.0" y="1297.6" fill="#111"/>
<use href="#st" x="930.4" y="1297.6" fill="#111"/>
<use href="#st" x="955.5" y="1297.6" fill="#111"/>
<use href="#st" x="1010.9" y="1297.6" fill="#111"/>
<use href="#st" x="1061.1" y="1297.6" fill="#111"/>
<rect x="763.20" y="952.30" width="50.14" height="357.70" fill="none" stroke="#000" stroke-width="2.3" stroke-linejoin="round"/>
<rect x="818.40" y="952.30" width="175.49" height="357.70" fill="none" stroke="#000" stroke-width="2.3" stroke-linejoin="round"/>
<rect x="999.20" y="952.30" width="75.21" height="357.70" fill="none" stroke="#000" stroke-width="2.3" stroke-linejoin="round"/>
<text transform="translate(783.5,916.0) rotate(-90)" font-size="20.6" fill="#1a1a1a" textLength="67.6" lengthAdjust="spacingAndGlyphs">B naive</text>
<text transform="translate(808.6,916.0) rotate(-90)" font-size="20.6" fill="#1a1a1a" textLength="112.0" lengthAdjust="spacingAndGlyphs">B non-naive</text>
<text transform="translate(838.7,916.0) rotate(-90)" font-size="20.6" fill="#1a1a1a" textLength="104.7" lengthAdjust="spacingAndGlyphs">CD4<tspan dy="-8" font-size="14">+</tspan><tspan dy="8"> naive</tspan></text>
<text transform="translate(863.8,916.0) rotate(-90)" font-size="20.6" fill="#1a1a1a" textLength="147.7" lengthAdjust="spacingAndGlyphs">CD4<tspan dy="-8" font-size="14">+</tspan><tspan dy="8"> non-naive</tspan></text>
<text transform="translate(888.9,916.0) rotate(-90)" font-size="20.6" fill="#1a1a1a" textLength="86.5" lengthAdjust="spacingAndGlyphs">CD4<tspan dy="-8" font-size="14">+</tspan><tspan dy="8"> T</tspan><tspan dy="6" font-size="14">reg</tspan></text>
<text transform="translate(913.9,916.0) rotate(-90)" font-size="20.6" fill="#1a1a1a" textLength="104.7" lengthAdjust="spacingAndGlyphs">CD8<tspan dy="-8" font-size="14">+</tspan><tspan dy="8"> naive</tspan></text>
<text transform="translate(939.0,916.0) rotate(-90)" font-size="20.6" fill="#1a1a1a" textLength="148.7" lengthAdjust="spacingAndGlyphs">CD8<tspan dy="-8" font-size="14">+</tspan><tspan dy="8"> non-naive</tspan></text>
<text transform="translate(964.1,916.0) rotate(-90)" font-size="20.6" fill="#1a1a1a" textLength="29.4" lengthAdjust="spacingAndGlyphs">NK</text>
<text transform="translate(989.2,916.0) rotate(-90)" font-size="20.6" fill="#1a1a1a" textLength="71.3" lengthAdjust="spacingAndGlyphs">Innate T</text>
<text transform="translate(1019.5,916.0) rotate(-90)" font-size="20.6" fill="#1a1a1a" textLength="192.4" lengthAdjust="spacingAndGlyphs">Classical monocytes</text>
<text transform="translate(1044.6,916.0) rotate(-90)" font-size="20.6" fill="#1a1a1a" textLength="235.6" lengthAdjust="spacingAndGlyphs">Non-classical monocytes</text>
<text transform="translate(1069.7,916.0) rotate(-90)" font-size="20.6" fill="#1a1a1a" textLength="226.5" lengthAdjust="spacingAndGlyphs">Intermediate monocytes</text>
<text x="917.9" y="679.2" font-size="20.6" text-anchor="middle" fill="#1a1a1a" textLength="122.2" lengthAdjust="spacingAndGlyphs">C2D1/C1D1</text>
<rect x="1103.20" y="921.4" width="25.37" height="25.4" fill="#cddff0"/>
<rect x="1128.27" y="921.4" width="25.37" height="25.4" fill="#72b0da"/>
<rect x="1158.40" y="921.4" width="25.37" height="25.4" fill="#e6e2f0"/>
<rect x="1183.47" y="921.4" width="25.37" height="25.4" fill="#5b2c8f"/>
<rect x="1208.54" y="921.4" width="25.37" height="25.4" fill="#8080bd"/>
<rect x="1233.61" y="921.4" width="25.37" height="25.4" fill="#a3d49c"/>
<rect x="1258.68" y="921.4" width="25.37" height="25.4" fill="#228b47"/>
<rect x="1283.75" y="921.4" width="25.37" height="25.4" fill="#f58a41"/>
<rect x="1308.82" y="921.4" width="25.37" height="25.4" fill="#ee68a4"/>
<rect x="1339.20" y="921.4" width="25.37" height="25.4" fill="#ae5a28"/>
<rect x="1364.27" y="921.4" width="25.37" height="25.4" fill="#fbe5c8"/>
<rect x="1389.34" y="921.4" width="25.37" height="25.4" fill="#f3a544"/>
<rect x="1103.20" y="952.30" width="25.07" height="25.55" fill="#fbd0b9" stroke="#c2c2c2" stroke-width="1.4"/>
<rect x="1128.27" y="952.30" width="25.07" height="25.55" fill="#fce1d1" stroke="#c2c2c2" stroke-width="1.4"/>
<rect x="1158.40" y="952.30" width="25.07" height="25.55" fill="#fae8de" stroke="#c2c2c2" stroke-width="1.4"/>
<rect x="1183.47" y="952.30" width="25.07" height="25.55" fill="#f9ece4" stroke="#c2c2c2" stroke-width="1.4"/>
<rect x="1208.54" y="952.30" width="25.07" height="25.55" fill="#f8f4f1" stroke="#c2c2c2" stroke-width="1.4"/>
<rect x="1233.61" y="952.30" width="25.07" height="25.55" fill="#fbe3d4" stroke="#c2c2c2" stroke-width="1.4"/>
<rect x="1258.68" y="952.30" width="25.07" height="25.55" fill="#f9ece4" stroke="#c2c2c2" stroke-width="1.4"/>
<rect x="1283.75" y="952.30" width="25.07" height="25.55" fill="#fae8de" stroke="#c2c2c2" stroke-width="1.4"/>
<rect x="1308.82" y="952.30" width="25.07" height="25.55" fill="#fbd0b9" stroke="#c2c2c2" stroke-width="1.4"/>
<rect x="1339.20" y="952.30" width="25.07" height="25.55" fill="#f9c5ab" stroke="#c2c2c2" stroke-width="1.4"/>
<rect x="1364.27" y="952.30" width="25.07" height="25.55" fill="#fce1d1" stroke="#c2c2c2" stroke-width="1.4"/>
<rect x="1389.34" y="952.30" width="25.07" height="25.55" fill="#b2182b" stroke="#c2c2c2" stroke-width="1.4"/>
<rect x="1103.20" y="977.85" width="25.07" height="25.55" fill="#fae8de" stroke="#c2c2c2" stroke-width="1.4"/>
<rect x="1128.27" y="977.85" width="25.07" height="25.55" fill="#fce1d1" stroke="#c2c2c2" stroke-width="1.4"/>
<rect x="1158.40" y="977.85" width="25.07" height="25.55" fill="#f9ece4" stroke="#c2c2c2" stroke-width="1.4"/>
<rect x="1183.47" y="977.85" width="25.07" height="25.55" fill="#f8f0eb" stroke="#c2c2c2" stroke-width="1.4"/>
<rect x="1208.54" y="977.85" width="25.07" height="25.55" fill="#eef3f5" stroke="#c2c2c2" stroke-width="1.4"/>
<rect x="1233.61" y="977.85" width="25.07" height="25.55" fill="#f8f0eb" stroke="#c2c2c2" stroke-width="1.4"/>
<rect x="1258.68" y="977.85" width="25.07" height="25.55" fill="#f9eee8" stroke="#c2c2c2" stroke-width="1.4"/>
<rect x="1283.75" y="977.85" width="25.07" height="25.55" fill="#f8f3ef" stroke="#c2c2c2" stroke-width="1.4"/>
<rect x="1308.82" y="977.85" width="25.07" height="25.55" fill="#fddbc7" stroke="#c2c2c2" stroke-width="1.4"/>
<rect x="1339.20" y="977.85" width="25.07" height="25.55" fill="#f9ece4" stroke="#c2c2c2" stroke-width="1.4"/>
<rect x="1364.27" y="977.85" width="25.07" height="25.55" fill="#fbd0b9" stroke="#c2c2c2" stroke-width="1.4"/>
<rect x="1389.34" y="977.85" width="25.07" height="25.55" fill="#dc6e58" stroke="#c2c2c2" stroke-width="1.4"/>
<rect x="1103.20" y="1003.40" width="25.07" height="25.55" fill="#fae8de" stroke="#c2c2c2" stroke-width="1.4"/>
<rect x="1128.27" y="1003.40" width="25.07" height="25.55" fill="#f5f6f7" stroke="#c2c2c2" stroke-width="1.4"/>
<rect x="1158.40" y="1003.40" width="25.07" height="25.55" fill="#f2f5f6" stroke="#c2c2c2" stroke-width="1.4"/>
<rect x="1183.47" y="1003.40" width="25.07" height="25.55" fill="#f1f4f6" stroke="#c2c2c2" stroke-width="1.4"/>
<rect x="1208.54" y="1003.40" width="25.07" height="25.55" fill="#ecf2f5" stroke="#c2c2c2" stroke-width="1.4"/>
<rect x="1233.61" y="1003.40" width="25.07" height="25.55" fill="#f7f6f5" stroke="#c2c2c2" stroke-width="1.4"/>
<rect x="1258.68" y="1003.40" width="25.07" height="25.55" fill="#fbe6da" stroke="#c2c2c2" stroke-width="1.4"/>
<rect x="1283.75" y="1003.40" width="25.07" height="25.55" fill="#f9ece4" stroke="#c2c2c2" stroke-width="1.4"/>
<rect x="1308.82" y="1003.40" width="25.07" height="25.55" fill="#fbe6da" stroke="#c2c2c2" stroke-width="1.4"/>
<rect x="1339.20" y="1003.40" width="25.07" height="25.55" fill="#d6604d" stroke="#c2c2c2" stroke-width="1.4"/>
<rect x="1364.27" y="1003.40" width="25.07" height="25.55" fill="#3c8abe" stroke="#c2c2c2" stroke-width="1.4"/>
<rect x="1389.34" y="1003.40" width="25.07" height="25.55" fill="#b2182b" stroke="#c2c2c2" stroke-width="1.4"/>
<rect x="1103.20" y="1028.95" width="25.07" height="25.55" fill="#e0ecf3" stroke="#c2c2c2" stroke-width="1.4"/>
<rect x="1128.27" y="1028.95" width="25.07" height="25.55" fill="#e5eef4" stroke="#c2c2c2" stroke-width="1.4"/>
<rect x="1158.40" y="1028.95" width="25.07" height="25.55" fill="#abd2e5" stroke="#c2c2c2" stroke-width="1.4"/>
<rect x="1183.47" y="1028.95" width="25.07" height="25.55" fill="#9fcbe2" stroke="#c2c2c2" stroke-width="1.4"/>
<rect x="1208.54" y="1028.95" width="25.07" height="25.55" fill="#63a7ce" stroke="#c2c2c2" stroke-width="1.4"/>
<rect x="1233.61" y="1028.95" width="25.07" height="25.55" fill="#d1e5f0" stroke="#c2c2c2" stroke-width="1.4"/>
<rect x="1258.68" y="1028.95" width="25.07" height="25.55" fill="#dceaf2" stroke="#c2c2c2" stroke-width="1.4"/>
<rect x="1283.75" y="1028.95" width="25.07" height="25.55" fill="#d9e9f1" stroke="#c2c2c2" stroke-width="1.4"/>
<rect x="1308.82" y="1028.95" width="25.07" height="25.55" fill="#9fcbe2" stroke="#c2c2c2" stroke-width="1.4"/>
<rect x="1339.20" y="1028.95" width="25.07" height="25.55" fill="#f7f5f3" stroke="#c2c2c2" stroke-width="1.4"/>
<rect x="1364.27" y="1028.95" width="25.07" height="25.55" fill="#e8f0f4" stroke="#c2c2c2" stroke-width="1.4"/>
<rect x="1389.34" y="1028.95" width="25.07" height="25.55" fill="#c8433f" stroke="#c2c2c2" stroke-width="1.4"/>
<rect x="1103.20" y="1054.50" width="25.07" height="25.55" fill="#2166ac" stroke="#c2c2c2" stroke-width="1.4"/>
<rect x="1128.27" y="1054.50" width="25.07" height="25.55" fill="#9fcbe2" stroke="#c2c2c2" stroke-width="1.4"/>
<rect x="1158.40" y="1054.50" width="25.07" height="25.55" fill="#d1e5f0" stroke="#c2c2c2" stroke-width="1.4"/>
<rect x="1183.47" y="1054.50" width="25.07" height="25.55" fill="#e5eef4" stroke="#c2c2c2" stroke-width="1.4"/>
<rect x="1208.54" y="1054.50" width="25.07" height="25.55" fill="#63a7ce" stroke="#c2c2c2" stroke-width="1.4"/>
<rect x="1233.61" y="1054.50" width="25.07" height="25.55" fill="#9fcbe2" stroke="#c2c2c2" stroke-width="1.4"/>
<rect x="1258.68" y="1054.50" width="25.07" height="25.55" fill="#2f78b5" stroke="#c2c2c2" stroke-width="1.4"/>
<rect x="1283.75" y="1054.50" width="25.07" height="25.55" fill="#3581ba" stroke="#c2c2c2" stroke-width="1.4"/>
<rect x="1308.82" y="1054.50" width="25.07" height="25.55" fill="#3581ba" stroke="#c2c2c2" stroke-width="1.4"/>
<rect x="1339.20" y="1054.50" width="25.07" height="25.55" fill="#2166ac" stroke="#c2c2c2" stroke-width="1.4"/>
<rect x="1364.27" y="1054.50" width="25.07" height="25.55" fill="#2166ac" stroke="#c2c2c2" stroke-width="1.4"/>
<rect x="1389.34" y="1054.50" width="25.07" height="25.55" fill="#2166ac" stroke="#c2c2c2" stroke-width="1.4"/>
<rect x="1103.20" y="1080.05" width="25.07" height="25.55" fill="#e8f0f4" stroke="#c2c2c2" stroke-width="1.4"/>
<rect x="1128.27" y="1080.05" width="25.07" height="25.55" fill="#e8f0f4" stroke="#c2c2c2" stroke-width="1.4"/>
<rect x="1158.40" y="1080.05" width="25.07" height="25.55" fill="#eef3f5" stroke="#c2c2c2" stroke-width="1.4"/>
<rect x="1183.47" y="1080.05" width="25.07" height="25.55" fill="#eef3f5" stroke="#c2c2c2" stroke-width="1.4"/>
<rect x="1208.54" y="1080.05" width="25.07" height="25.55" fill="#f4f6f6" stroke="#c2c2c2" stroke-width="1.4"/>
<rect x="1233.61" y="1080.05" width="25.07" height="25.55" fill="#e3eef3" stroke="#c2c2c2" stroke-width="1.4"/>
<rect x="1258.68" y="1080.05" width="25.07" height="25.55" fill="#e5eef4" stroke="#c2c2c2" stroke-width="1.4"/>
<rect x="1283.75" y="1080.05" width="25.07" height="25.55" fill="#e5eef4" stroke="#c2c2c2" stroke-width="1.4"/>
<rect x="1308.82" y="1080.05" width="25.07" height="25.55" fill="#d9e9f1" stroke="#c2c2c2" stroke-width="1.4"/>
<rect x="1339.20" y="1080.05" width="25.07" height="25.55" fill="#abd2e5" stroke="#c2c2c2" stroke-width="1.4"/>
<rect x="1364.27" y="1080.05" width="25.07" height="25.55" fill="#f4f6f6" stroke="#c2c2c2" stroke-width="1.4"/>
<rect x="1389.34" y="1080.05" width="25.07" height="25.55" fill="#eff3f6" stroke="#c2c2c2" stroke-width="1.4"/>
<rect x="1103.20" y="1105.60" width="25.07" height="25.55" fill="#f1f4f6" stroke="#c2c2c2" stroke-width="1.4"/>
<rect x="1128.27" y="1105.60" width="25.07" height="25.55" fill="#ecf2f5" stroke="#c2c2c2" stroke-width="1.4"/>
<rect x="1158.40" y="1105.60" width="25.07" height="25.55" fill="#e5eef4" stroke="#c2c2c2" stroke-width="1.4"/>
<rect x="1183.47" y="1105.60" width="25.07" height="25.55" fill="#ecf2f5" stroke="#c2c2c2" stroke-width="1.4"/>
<rect x="1208.54" y="1105.60" width="25.07" height="25.55" fill="#eff3f6" stroke="#c2c2c2" stroke-width="1.4"/>
<rect x="1233.61" y="1105.60" width="25.07" height="25.55" fill="#e5eef4" stroke="#c2c2c2" stroke-width="1.4"/>
<rect x="1258.68" y="1105.60" width="25.07" height="25.55" fill="#e5eef4" stroke="#c2c2c2" stroke-width="1.4"/>
<rect x="1283.75" y="1105.60" width="25.07" height="25.55" fill="#eef3f5" stroke="#c2c2c2" stroke-width="1.4"/>
<rect x="1308.82" y="1105.60" width="25.07" height="25.55" fill="#eef3f5" stroke="#c2c2c2" stroke-width="1.4"/>
<rect x="1339.20" y="1105.60" width="25.07" height="25.55" fill="#e0ecf3" stroke="#c2c2c2" stroke-width="1.4"/>
<rect x="1364.27" y="1105.60" width="25.07" height="25.55" fill="#d1e5f0" stroke="#c2c2c2" stroke-width="1.4"/>
<rect x="1389.34" y="1105.60" width="25.07" height="25.55" fill="#f9ece4" stroke="#c2c2c2" stroke-width="1.4"/>
<rect x="1103.20" y="1131.15" width="25.07" height="25.55" fill="#f9eee8" stroke="#c2c2c2" stroke-width="1.4"/>
<rect x="1128.27" y="1131.15" width="25.07" height="25.55" fill="#f8f1ed" stroke="#c2c2c2" stroke-width="1.4"/>
<rect x="1158.40" y="1131.15" width="25.07" height="25.55" fill="#f8f3ef" stroke="#c2c2c2" stroke-width="1.4"/>
<rect x="1183.47" y="1131.15" width="25.07" height="25.55" fill="#f7f7f7" stroke="#c2c2c2" stroke-width="1.4"/>
<rect x="1208.54" y="1131.15" width="25.07" height="25.55" fill="#f7f7f7" stroke="#c2c2c2" stroke-width="1.4"/>
<rect x="1233.61" y="1131.15" width="25.07" height="25.55" fill="#f7f5f3" stroke="#c2c2c2" stroke-width="1.4"/>
<rect x="1258.68" y="1131.15" width="25.07" height="25.55" fill="#f8f0eb" stroke="#c2c2c2" stroke-width="1.4"/>
<rect x="1283.75" y="1131.15" width="25.07" height="25.55" fill="#f8f1ed" stroke="#c2c2c2" stroke-width="1.4"/>
<rect x="1308.82" y="1131.15" width="25.07" height="25.55" fill="#f7f6f5" stroke="#c2c2c2" stroke-width="1.4"/>
<rect x="1339.20" y="1131.15" width="25.07" height="25.55" fill="#fae8de" stroke="#c2c2c2" stroke-width="1.4"/>
<rect x="1364.27" y="1131.15" width="25.07" height="25.55" fill="#d1e5f0" stroke="#c2c2c2" stroke-width="1.4"/>
<rect x="1389.34" y="1131.15" width="25.07" height="25.55" fill="#f9eee8" stroke="#c2c2c2" stroke-width="1.4"/>
<rect x="1103.20" y="1156.70" width="25.07" height="25.55" fill="#f9eee8" stroke="#c2c2c2" stroke-width="1.4"/>
<rect x="1128.27" y="1156.70" width="25.07" height="25.55" fill="#f8f0eb" stroke="#c2c2c2" stroke-width="1.4"/>
<rect x="1158.40" y="1156.70" width="25.07" height="25.55" fill="#f8f4f1" stroke="#c2c2c2" stroke-width="1.4"/>
<rect x="1183.47" y="1156.70" width="25.07" height="25.55" fill="#f8f0eb" stroke="#c2c2c2" stroke-width="1.4"/>
<rect x="1208.54" y="1156.70" width="25.07" height="25.55" fill="#f7f7f7" stroke="#c2c2c2" stroke-width="1.4"/>
<rect x="1233.61" y="1156.70" width="25.07" height="25.55" fill="#f8f4f1" stroke="#c2c2c2" stroke-width="1.4"/>
<rect x="1258.68" y="1156.70" width="25.07" height="25.55" fill="#fae8de" stroke="#c2c2c2" stroke-width="1.4"/>
<rect x="1283.75" y="1156.70" width="25.07" height="25.55" fill="#fce1d1" stroke="#c2c2c2" stroke-width="1.4"/>
<rect x="1308.82" y="1156.70" width="25.07" height="25.55" fill="#fae8de" stroke="#c2c2c2" stroke-width="1.4"/>
<rect x="1339.20" y="1156.70" width="25.07" height="25.55" fill="#fae8de" stroke="#c2c2c2" stroke-width="1.4"/>
<rect x="1364.27" y="1156.70" width="25.07" height="25.55" fill="#f5f6f7" stroke="#c2c2c2" stroke-width="1.4"/>
<rect x="1389.34" y="1156.70" width="25.07" height="25.55" fill="#fae8de" stroke="#c2c2c2" stroke-width="1.4"/>
<rect x="1103.20" y="1182.25" width="25.07" height="25.55" fill="#eff3f6" stroke="#c2c2c2" stroke-width="1.4"/>
<rect x="1128.27" y="1182.25" width="25.07" height="25.55" fill="#f7f7f7" stroke="#c2c2c2" stroke-width="1.4"/>
<rect x="1158.40" y="1182.25" width="25.07" height="25.55" fill="#eff3f6" stroke="#c2c2c2" stroke-width="1.4"/>
<rect x="1183.47" y="1182.25" width="25.07" height="25.55" fill="#f5f6f7" stroke="#c2c2c2" stroke-width="1.4"/>
<rect x="1208.54" y="1182.25" width="25.07" height="25.55" fill="#f8f4f1" stroke="#c2c2c2" stroke-width="1.4"/>
<rect x="1233.61" y="1182.25" width="25.07" height="25.55" fill="#e5eef4" stroke="#c2c2c2" stroke-width="1.4"/>
<rect x="1258.68" y="1182.25" width="25.07" height="25.55" fill="#f1f4f6" stroke="#c2c2c2" stroke-width="1.4"/>
<rect x="1283.75" y="1182.25" width="25.07" height="25.55" fill="#f8f3ef" stroke="#c2c2c2" stroke-width="1.4"/>
<rect x="1308.82" y="1182.25" width="25.07" height="25.55" fill="#e0ecf3" stroke="#c2c2c2" stroke-width="1.4"/>
<rect x="1339.20" y="1182.25" width="25.07" height="25.55" fill="#9fcbe2" stroke="#c2c2c2" stroke-width="1.4"/>
<rect x="1364.27" y="1182.25" width="25.07" height="25.55" fill="#d1e5f0" stroke="#c2c2c2" stroke-width="1.4"/>
<rect x="1389.34" y="1182.25" width="25.07" height="25.55" fill="#e5eef4" stroke="#c2c2c2" stroke-width="1.4"/>
<rect x="1103.20" y="1207.80" width="25.07" height="25.55" fill="#eff3f6" stroke="#c2c2c2" stroke-width="1.4"/>
<rect x="1128.27" y="1207.80" width="25.07" height="25.55" fill="#eef3f5" stroke="#c2c2c2" stroke-width="1.4"/>
<rect x="1158.40" y="1207.80" width="25.07" height="25.55" fill="#f1f4f6" stroke="#c2c2c2" stroke-width="1.4"/>
<rect x="1183.47" y="1207.80" width="25.07" height="25.55" fill="#f4f6f6" stroke="#c2c2c2" stroke-width="1.4"/>
<rect x="1208.54" y="1207.80" width="25.07" height="25.55" fill="#e8f0f4" stroke="#c2c2c2" stroke-width="1.4"/>
<rect x="1233.61" y="1207.80" width="25.07" height="25.55" fill="#ecf2f5" stroke="#c2c2c2" stroke-width="1.4"/>
<rect x="1258.68" y="1207.80" width="25.07" height="25.55" fill="#eef3f5" stroke="#c2c2c2" stroke-width="1.4"/>
<rect x="1283.75" y="1207.80" width="25.07" height="25.55" fill="#f7f5f3" stroke="#c2c2c2" stroke-width="1.4"/>
<rect x="1308.82" y="1207.80" width="25.07" height="25.55" fill="#f7f5f3" stroke="#c2c2c2" stroke-width="1.4"/>
<rect x="1339.20" y="1207.80" width="25.07" height="25.55" fill="#abd2e5" stroke="#c2c2c2" stroke-width="1.4"/>
<rect x="1364.27" y="1207.80" width="25.07" height="25.55" fill="#d1e5f0" stroke="#c2c2c2" stroke-width="1.4"/>
<rect x="1389.34" y="1207.80" width="25.07" height="25.55" fill="#e5eef4" stroke="#c2c2c2" stroke-width="1.4"/>
<rect x="1103.20" y="1233.35" width="25.07" height="25.55" fill="#c4dfec" stroke="#c2c2c2" stroke-width="1.4"/>
<rect x="1128.27" y="1233.35" width="25.07" height="25.55" fill="#d1e5f0" stroke="#c2c2c2" stroke-width="1.4"/>
<rect x="1158.40" y="1233.35" width="25.07" height="25.55" fill="#e5eef4" stroke="#c2c2c2" stroke-width="1.4"/>
<rect x="1183.47" y="1233.35" width="25.07" height="25.55" fill="#e0ecf3" stroke="#c2c2c2" stroke-width="1.4"/>
<rect x="1208.54" y="1233.35" width="25.07" height="25.55" fill="#e0ecf3" stroke="#c2c2c2" stroke-width="1.4"/>
<rect x="1233.61" y="1233.35" width="25.07" height="25.55" fill="#c4dfec" stroke="#c2c2c2" stroke-width="1.4"/>
<rect x="1258.68" y="1233.35" width="25.07" height="25.55" fill="#f2f5f6" stroke="#c2c2c2" stroke-width="1.4"/>
<rect x="1283.75" y="1233.35" width="25.07" height="25.55" fill="#e0ecf3" stroke="#c2c2c2" stroke-width="1.4"/>
<rect x="1308.82" y="1233.35" width="25.07" height="25.55" fill="#e8f0f4" stroke="#c2c2c2" stroke-width="1.4"/>
<rect x="1339.20" y="1233.35" width="25.07" height="25.55" fill="#f1f4f6" stroke="#c2c2c2" stroke-width="1.4"/>
<rect x="1364.27" y="1233.35" width="25.07" height="25.55" fill="#f7f5f3" stroke="#c2c2c2" stroke-width="1.4"/>
<rect x="1389.34" y="1233.35" width="25.07" height="25.55" fill="#f4f6f6" stroke="#c2c2c2" stroke-width="1.4"/>
<rect x="1103.20" y="1258.90" width="25.07" height="25.55" fill="#f1f4f6" stroke="#c2c2c2" stroke-width="1.4"/>
<rect x="1128.27" y="1258.90" width="25.07" height="25.55" fill="#ecf2f5" stroke="#c2c2c2" stroke-width="1.4"/>
<rect x="1158.40" y="1258.90" width="25.07" height="25.55" fill="#f5f6f7" stroke="#c2c2c2" stroke-width="1.4"/>
<rect x="1183.47" y="1258.90" width="25.07" height="25.55" fill="#eef3f5" stroke="#c2c2c2" stroke-width="1.4"/>
<rect x="1208.54" y="1258.90" width="25.07" height="25.55" fill="#f1f4f6" stroke="#c2c2c2" stroke-width="1.4"/>
<rect x="1233.61" y="1258.90" width="25.07" height="25.55" fill="#f1f4f6" stroke="#c2c2c2" stroke-width="1.4"/>
<rect x="1258.68" y="1258.90" width="25.07" height="25.55" fill="#f8f1ed" stroke="#c2c2c2" stroke-width="1.4"/>
<rect x="1283.75" y="1258.90" width="25.07" height="25.55" fill="#f2f5f6" stroke="#c2c2c2" stroke-width="1.4"/>
<rect x="1308.82" y="1258.90" width="25.07" height="25.55" fill="#f7f6f5" stroke="#c2c2c2" stroke-width="1.4"/>
<rect x="1339.20" y="1258.90" width="25.07" height="25.55" fill="#fddbc7" stroke="#c2c2c2" stroke-width="1.4"/>
<rect x="1364.27" y="1258.90" width="25.07" height="25.55" fill="#f8f1ed" stroke="#c2c2c2" stroke-width="1.4"/>
<rect x="1389.34" y="1258.90" width="25.07" height="25.55" fill="#f5f6f7" stroke="#c2c2c2" stroke-width="1.4"/>
<rect x="1103.20" y="1284.45" width="25.07" height="25.55" fill="#f9eee8" stroke="#c2c2c2" stroke-width="1.4"/>
<rect x="1128.27" y="1284.45" width="25.07" height="25.55" fill="#f7f5f3" stroke="#c2c2c2" stroke-width="1.4"/>
<rect x="1158.40" y="1284.45" width="25.07" height="25.55" fill="#f8f4f1" stroke="#c2c2c2" stroke-width="1.4"/>
<rect x="1183.47" y="1284.45" width="25.07" height="25.55" fill="#f7f6f5" stroke="#c2c2c2" stroke-width="1.4"/>
<rect x="1208.54" y="1284.45" width="25.07" height="25.55" fill="#f7f7f7" stroke="#c2c2c2" stroke-width="1.4"/>
<rect x="1233.61" y="1284.45" width="25.07" height="25.55" fill="#f8f3ef" stroke="#c2c2c2" stroke-width="1.4"/>
<rect x="1258.68" y="1284.45" width="25.07" height="25.55" fill="#f9eee8" stroke="#c2c2c2" stroke-width="1.4"/>
<rect x="1283.75" y="1284.45" width="25.07" height="25.55" fill="#f9efea" stroke="#c2c2c2" stroke-width="1.4"/>
<rect x="1308.82" y="1284.45" width="25.07" height="25.55" fill="#f7f7f7" stroke="#c2c2c2" stroke-width="1.4"/>
<rect x="1339.20" y="1284.45" width="25.07" height="25.55" fill="#f8f4f1" stroke="#c2c2c2" stroke-width="1.4"/>
<rect x="1364.27" y="1284.45" width="25.07" height="25.55" fill="#d9e9f1" stroke="#c2c2c2" stroke-width="1.4"/>
<rect x="1389.34" y="1284.45" width="25.07" height="25.55" fill="#f7f7f7" stroke="#c2c2c2" stroke-width="1.4"/>
<use href="#st" x="1114.9" y="965.5" fill="#111"/>
<use href="#st" x="1140.0" y="965.5" fill="#111"/>
<use href="#st" x="1170.1" y="965.5" fill="#111"/>
<use href="#st" x="1245.3" y="965.5" fill="#111"/>
<use href="#st" x="1295.5" y="965.5" fill="#111"/>
<use href="#st" x="1320.6" y="965.5" fill="#111"/>
<use href="#st" x="1350.9" y="965.5" fill="#111"/>
<use href="#st" x="1376.0" y="965.5" fill="#111"/>
<use href="#st" x="1401.1" y="965.5" fill="#ffffff"/>
<use href="#st" x="1114.9" y="991.0" fill="#111"/>
<use href="#st" x="1140.0" y="991.0" fill="#111"/>
<use href="#st" x="1320.6" y="991.0" fill="#111"/>
<use href="#st" x="1376.0" y="991.0" fill="#111"/>
<use href="#st" x="1401.1" y="991.0" fill="#111"/>
<use href="#st" x="1114.9" y="1016.6" fill="#111"/>
<use href="#st" x="1270.4" y="1016.6" fill="#111"/>
<use href="#st" x="1320.6" y="1016.6" fill="#111"/>
<use href="#st" x="1350.9" y="1016.6" fill="#111"/>
<use href="#st" x="1376.0" y="1016.6" fill="#111"/>
<use href="#st" x="1401.1" y="1016.6" fill="#ffffff"/>
<use href="#st" x="1114.9" y="1042.1" fill="#111"/>
<use href="#st" x="1140.0" y="1042.1" fill="#111"/>
<use href="#st" x="1170.1" y="1042.1" fill="#111"/>
<use href="#st" x="1195.2" y="1042.1" fill="#111"/>
<use href="#st" x="1220.3" y="1042.1" fill="#111"/>
<use href="#st" x="1245.3" y="1042.1" fill="#111"/>
<use href="#st" x="1270.4" y="1042.1" fill="#111"/>
<use href="#st" x="1295.5" y="1042.1" fill="#111"/>
<use href="#st" x="1320.6" y="1042.1" fill="#111"/>
<use href="#st" x="1376.0" y="1042.1" fill="#111"/>
<use href="#st" x="1401.1" y="1042.1" fill="#111"/>
<use href="#st" x="1114.9" y="1067.7" fill="#ffffff"/>
<use href="#st" x="1140.0" y="1067.7" fill="#111"/>
<use href="#st" x="1170.1" y="1067.7" fill="#111"/>
<use href="#st" x="1195.2" y="1067.7" fill="#111"/>
<use href="#st" x="1220.3" y="1067.7" fill="#111"/>
<use href="#st" x="1245.3" y="1067.7" fill="#111"/>
<use href="#st" x="1270.4" y="1067.7" fill="#ffffff"/>
<use href="#st" x="1295.5" y="1067.7" fill="#ffffff"/>
<use href="#st" x="1320.6" y="1067.7" fill="#ffffff"/>
<use href="#st" x="1350.9" y="1067.7" fill="#ffffff"/>
<use href="#st" x="1376.0" y="1067.7" fill="#ffffff"/>
<use href="#st" x="1401.1" y="1067.7" fill="#ffffff"/>
<use href="#st" x="1140.0" y="1093.2" fill="#111"/>
<use href="#st" x="1245.3" y="1093.2" fill="#111"/>
<use href="#st" x="1270.4" y="1093.2" fill="#111"/>
<use href="#st" x="1295.5" y="1093.2" fill="#111"/>
<use href="#st" x="1320.6" y="1093.2" fill="#111"/>
<use href="#st" x="1350.9" y="1093.2" fill="#111"/>
<use href="#st" x="1170.1" y="1118.8" fill="#111"/>
<use href="#st" x="1245.3" y="1118.8" fill="#111"/>
<use href="#st" x="1270.4" y="1118.8" fill="#111"/>
<use href="#st" x="1350.9" y="1118.8" fill="#111"/>
<use href="#st" x="1376.0" y="1118.8" fill="#111"/>
<use href="#st" x="1350.9" y="1144.3" fill="#111"/>
<use href="#st" x="1376.0" y="1144.3" fill="#111"/>
<use href="#st" x="1270.4" y="1169.9" fill="#111"/>
<use href="#st" x="1295.5" y="1169.9" fill="#111"/>
<use href="#st" x="1320.6" y="1169.9" fill="#111"/>
<use href="#st" x="1350.9" y="1169.9" fill="#111"/>
<use href="#st" x="1401.1" y="1169.9" fill="#111"/>
<use href="#st" x="1245.3" y="1195.4" fill="#111"/>
<use href="#st" x="1320.6" y="1195.4" fill="#111"/>
<use href="#st" x="1350.9" y="1195.4" fill="#111"/>
<use href="#st" x="1376.0" y="1195.4" fill="#111"/>
<use href="#st" x="1401.1" y="1195.4" fill="#111"/>
<use href="#st" x="1350.9" y="1221.0" fill="#111"/>
<use href="#st" x="1376.0" y="1221.0" fill="#111"/>
<use href="#st" x="1401.1" y="1221.0" fill="#111"/>
<use href="#st" x="1114.9" y="1246.5" fill="#111"/>
<use href="#st" x="1140.0" y="1246.5" fill="#111"/>
<use href="#st" x="1170.1" y="1246.5" fill="#111"/>
<use href="#st" x="1195.2" y="1246.5" fill="#111"/>
<use href="#st" x="1220.3" y="1246.5" fill="#111"/>
<use href="#st" x="1245.3" y="1246.5" fill="#111"/>
<use href="#st" x="1295.5" y="1246.5" fill="#111"/>
<use href="#st" x="1320.6" y="1246.5" fill="#111"/>
<use href="#st" x="1350.9" y="1272.1" fill="#111"/>
<use href="#st" x="1376.0" y="1297.6" fill="#111"/>
<rect x="1103.20" y="952.30" width="50.14" height="357.70" fill="none" stroke="#000" stroke-width="2.3" stroke-linejoin="round"/>
<rect x="1158.40" y="952.30" width="175.49" height="357.70" fill="none" stroke="#000" stroke-width="2.3" stroke-linejoin="round"/>
<rect x="1339.20" y="952.30" width="75.21" height="357.70" fill="none" stroke="#000" stroke-width="2.3" stroke-linejoin="round"/>
<text transform="translate(1123.5,916.0) rotate(-90)" font-size="20.6" fill="#1a1a1a" textLength="67.6" lengthAdjust="spacingAndGlyphs">B naive</text>
<text transform="translate(1148.6,916.0) rotate(-90)" font-size="20.6" fill="#1a1a1a" textLength="112.0" lengthAdjust="spacingAndGlyphs">B non-naive</text>
<text transform="translate(1178.7,916.0) rotate(-90)" font-size="20.6" fill="#1a1a1a" textLength="104.7" lengthAdjust="spacingAndGlyphs">CD4<tspan dy="-8" font-size="14">+</tspan><tspan dy="8"> naive</tspan></text>
<text transform="translate(1203.8,916.0) rotate(-90)" font-size="20.6" fill="#1a1a1a" textLength="147.7" lengthAdjust="spacingAndGlyphs">CD4<tspan dy="-8" font-size="14">+</tspan><tspan dy="8"> non-naive</tspan></text>
<text transform="translate(1228.9,916.0) rotate(-90)" font-size="20.6" fill="#1a1a1a" textLength="86.5" lengthAdjust="spacingAndGlyphs">CD4<tspan dy="-8" font-size="14">+</tspan><tspan dy="8"> T</tspan><tspan dy="6" font-size="14">reg</tspan></text>
<text transform="translate(1253.9,916.0) rotate(-90)" font-size="20.6" fill="#1a1a1a" textLength="104.7" lengthAdjust="spacingAndGlyphs">CD8<tspan dy="-8" font-size="14">+</tspan><tspan dy="8"> naive</tspan></text>
<text transform="translate(1279.0,916.0) rotate(-90)" font-size="20.6" fill="#1a1a1a" textLength="148.7" lengthAdjust="spacingAndGlyphs">CD8<tspan dy="-8" font-size="14">+</tspan><tspan dy="8"> non naive</tspan></text>
<text transform="translate(1304.1,916.0) rotate(-90)" font-size="20.6" fill="#1a1a1a" textLength="29.4" lengthAdjust="spacingAndGlyphs">NK</text>
<text transform="translate(1329.2,916.0) rotate(-90)" font-size="20.6" fill="#1a1a1a" textLength="71.3" lengthAdjust="spacingAndGlyphs">Innate T</text>
<text transform="translate(1359.5,916.0) rotate(-90)" font-size="20.6" fill="#1a1a1a" textLength="192.4" lengthAdjust="spacingAndGlyphs">Classical monocytes</text>
<text transform="translate(1384.6,916.0) rotate(-90)" font-size="20.6" fill="#1a1a1a" textLength="235.6" lengthAdjust="spacingAndGlyphs">Non-classical monocytes</text>
<text transform="translate(1409.7,916.0) rotate(-90)" font-size="20.6" fill="#1a1a1a" textLength="226.5" lengthAdjust="spacingAndGlyphs">Intermediate monocytes</text>
<text x="1252.5" y="679.2" font-size="20.6" text-anchor="middle" fill="#1a1a1a" textLength="122.2" lengthAdjust="spacingAndGlyphs">C4D1/C1D1</text>
<text x="411.8" y="973.3" font-size="20.6" text-anchor="end" fill="#1a1a1a" textLength="136.9" lengthAdjust="spacingAndGlyphs">IFNα response</text>
<text x="411.8" y="998.8" font-size="20.6" text-anchor="end" fill="#1a1a1a" textLength="132.8" lengthAdjust="spacingAndGlyphs">IFNγ response</text>
<text x="411.8" y="1024.4" font-size="20.6" text-anchor="end" fill="#1a1a1a" textLength="243.9" lengthAdjust="spacingAndGlyphs">Oxidative phosphorylation</text>
<text x="411.8" y="1049.9" font-size="20.6" text-anchor="end" fill="#1a1a1a" textLength="147.3" lengthAdjust="spacingAndGlyphs">MYC targets V1</text>
<text x="411.8" y="1075.5" font-size="20.6" text-anchor="end" fill="#1a1a1a" textLength="231.0" lengthAdjust="spacingAndGlyphs">TNF signalling via NF-kB</text>
<text x="411.8" y="1101.0" font-size="20.6" text-anchor="end" fill="#1a1a1a" textLength="153.2" lengthAdjust="spacingAndGlyphs">TGF-β signalling</text>
<text x="411.8" y="1126.6" font-size="20.6" text-anchor="end" fill="#1a1a1a" textLength="119.9" lengthAdjust="spacingAndGlyphs">p53 pathway</text>
<text x="411.8" y="1152.1" font-size="20.6" text-anchor="end" fill="#1a1a1a" textLength="126.8" lengthAdjust="spacingAndGlyphs">Adipogenesis</text>
<text x="411.8" y="1177.7" font-size="20.6" text-anchor="end" fill="#1a1a1a" textLength="206.2" lengthAdjust="spacingAndGlyphs">Fatty acid metabolism</text>
<text x="411.8" y="1203.2" font-size="20.6" text-anchor="end" fill="#1a1a1a" textLength="77.3" lengthAdjust="spacingAndGlyphs">Hypoxia</text>
<text x="411.8" y="1228.8" font-size="20.6" text-anchor="end" fill="#1a1a1a" textLength="94.6" lengthAdjust="spacingAndGlyphs">Apoptosis</text>
<text x="411.8" y="1254.3" font-size="20.6" text-anchor="end" fill="#1a1a1a" textLength="155.1" lengthAdjust="spacingAndGlyphs">G2M checkpoint</text>
<text x="411.8" y="1279.9" font-size="20.6" text-anchor="end" fill="#1a1a1a" textLength="107.7" lengthAdjust="spacingAndGlyphs">E2F targets</text>
<text x="411.8" y="1305.4" font-size="20.6" text-anchor="end" fill="#1a1a1a" textLength="316.8" lengthAdjust="spacingAndGlyphs">Reactive oxygen species pathway</text>
<defs><linearGradient id="cb" x1="0" x2="1" y1="0" y2="0"><stop offset="0.033" stop-color="#2166ac"/><stop offset="0.150" stop-color="#4393c3"/><stop offset="0.266" stop-color="#92c5de"/><stop offset="0.383" stop-color="#d1e5f0"/><stop offset="0.500" stop-color="#f7f7f7"/><stop offset="0.617" stop-color="#fddbc7"/><stop offset="0.734" stop-color="#f4a582"/><stop offset="0.850" stop-color="#d6604d"/><stop offset="0.967" stop-color="#b2182b"/></linearGradient></defs>
<rect x="144.1" y="828.8" width="124" height="26.4" fill="url(#cb)"/>
<line x1="149" y1="828.8" x2="149" y2="835.1" stroke="#fff" stroke-width="1.6"/>
<line x1="149" y1="848.5" x2="149" y2="855.2" stroke="#fff" stroke-width="1.6"/>
<line x1="177.7" y1="828.8" x2="177.7" y2="835.1" stroke="#fff" stroke-width="1.6"/>
<line x1="177.7" y1="848.5" x2="177.7" y2="855.2" stroke="#fff" stroke-width="1.6"/>
<line x1="207" y1="828.8" x2="207" y2="835.1" stroke="#fff" stroke-width="1.6"/>
<line x1="207" y1="848.5" x2="207" y2="855.2" stroke="#fff" stroke-width="1.6"/>
<line x1="235.8" y1="828.8" x2="235.8" y2="835.1" stroke="#fff" stroke-width="1.6"/>
<line x1="235.8" y1="848.5" x2="235.8" y2="855.2" stroke="#fff" stroke-width="1.6"/>
<line x1="265" y1="828.8" x2="265" y2="835.1" stroke="#fff" stroke-width="1.6"/>
<line x1="265" y1="848.5" x2="265" y2="855.2" stroke="#fff" stroke-width="1.6"/>
<text x="136.5" y="875.3" font-size="19.5" text-anchor="middle" fill="#1a1a1a">–10</text>
<text x="173.5" y="875.3" font-size="19.5" text-anchor="middle" fill="#1a1a1a">–5</text>
<text x="207.0" y="875.3" font-size="19.5" text-anchor="middle" fill="#1a1a1a">0</text>
<text x="234.9" y="875.3" font-size="19.5" text-anchor="middle" fill="#1a1a1a">5</text>
<text x="265.0" y="875.3" font-size="19.5" text-anchor="middle" fill="#1a1a1a">10</text>
<text x="153.3" y="815.8" font-size="20" fill="#1a1a1a">–log<tspan dy="4" font-size="12.5">10</tspan><tspan dy="-4">[</tspan><tspan font-style="italic">P</tspan><tspan dy="5" font-size="12.5" dx="3">adj</tspan><tspan dy="-5">]</tspan></text>
</svg></body></html>
